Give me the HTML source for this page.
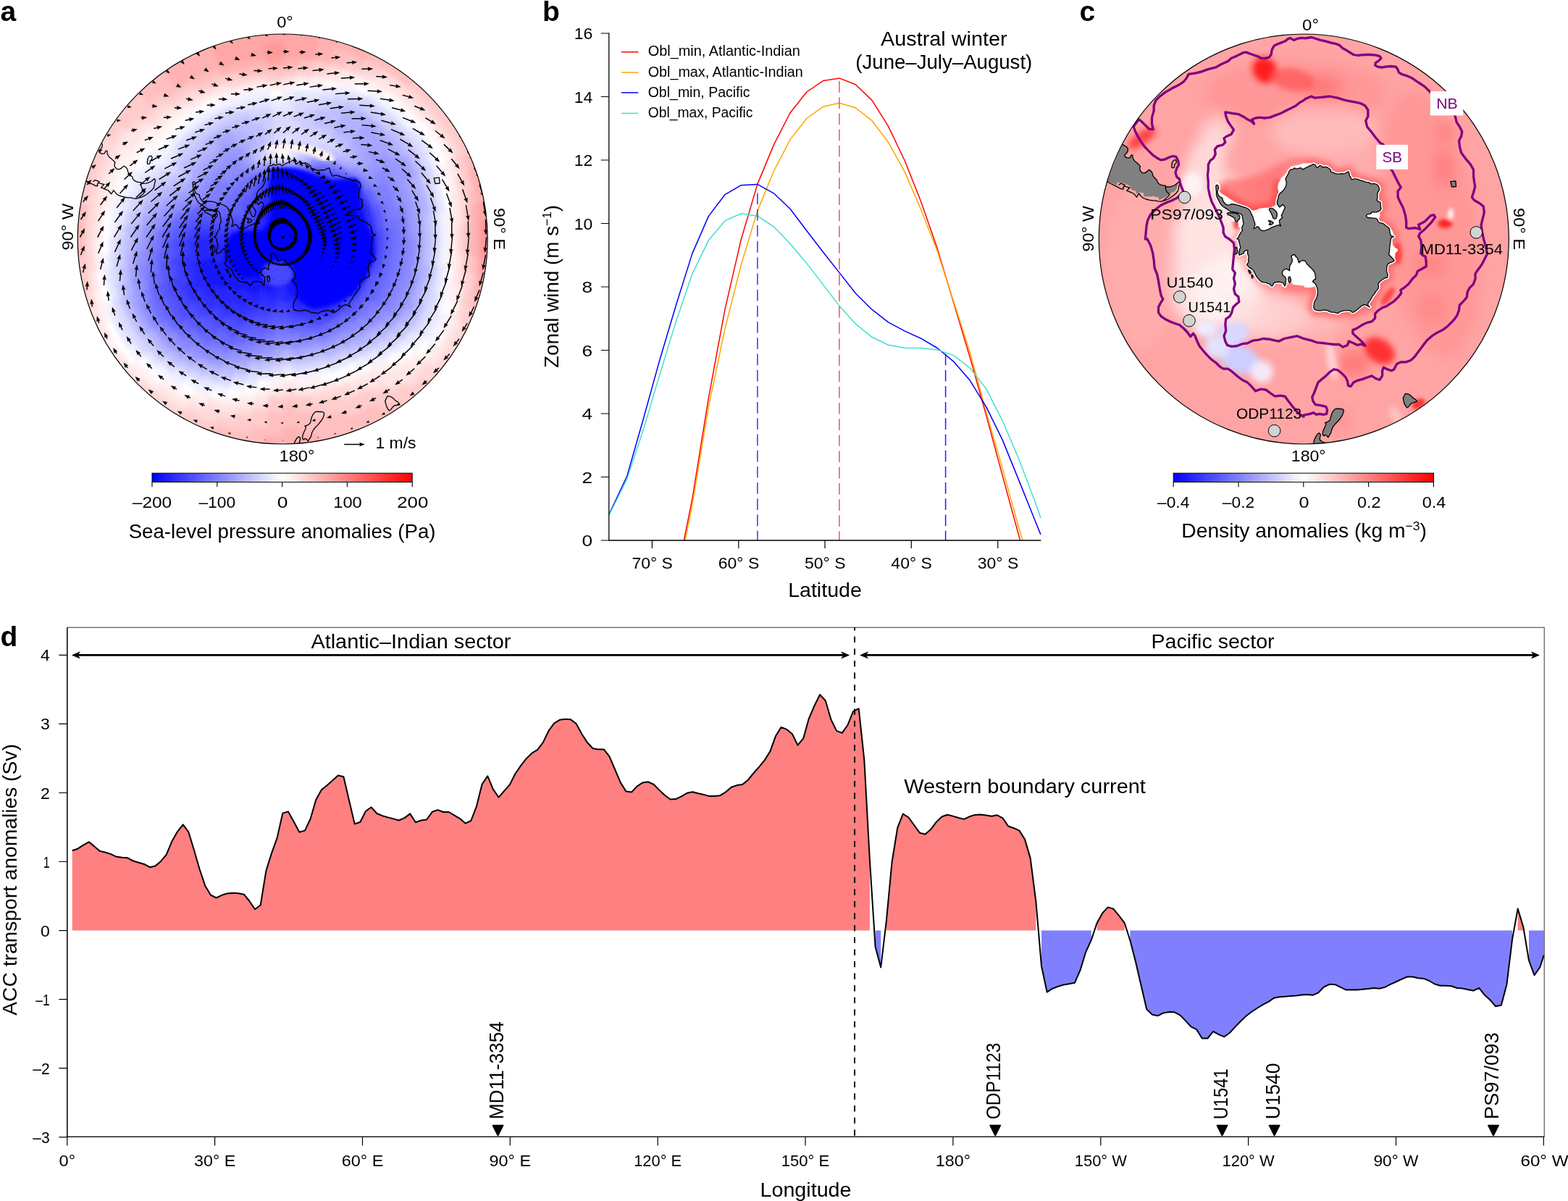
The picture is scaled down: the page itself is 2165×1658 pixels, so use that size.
<!DOCTYPE html>
<html><head><meta charset="utf-8"><title>Figure</title>
<style>html,body{margin:0;padding:0;background:#fff}svg{display:block}text{font-family:"Liberation Sans", sans-serif}</style>
</head><body>
<svg xmlns="http://www.w3.org/2000/svg" width="2165" height="1658" viewBox="0 0 2165 1658">
<rect width="2165" height="1658" fill="#fff"/>
<text x="0.5" y="29.3" font-size="39" font-weight="bold">a</text>
<text x="749.0" y="29.3" font-size="39" font-weight="bold">b</text>
<text x="1490.5" y="29.3" font-size="39" font-weight="bold">c</text>
<text x="0.5" y="892.0" font-size="39" font-weight="bold">d</text>
<defs><linearGradient id="bwr"><stop offset="0" stop-color="#0000ff"/><stop offset="0.5" stop-color="#fff"/><stop offset="1" stop-color="#ff0000"/></linearGradient></defs>
<g id="panel-b">
<path d="M944.4 746 955.9 688.3 978.4 549.2 1000.9 427.3 1023.4 330.2 1045.8 254.4 1068.3 200.1 1090.9 156 1113.8 127 1136.3 111.6 1158.9 107.9 1181.4 116.8 1204.1 138.6 1226.4 174.1 1249 221.2 1271.7 278.5 1294.2 343.1 1339.2 493 1361.8 573.9 1384.3 657.1 1407 740.3 1408.2 745.6" fill="none" stroke="#ff0000" stroke-width="1.5" stroke-linejoin="round"/>
<path d="M946.1 746 955.9 696.7 978.4 561.2 1000.9 454.1 1023.4 365.3 1045.8 291.4 1068.3 236.5 1090.9 192.9 1113.8 163.5 1136.3 147.3 1158.9 142.3 1181.4 148.8 1204.1 166.7 1226.4 196.2 1249 236.9 1271.7 289.5 1294.2 346.8 1339.2 485.8 1361.8 569 1384.3 647.4 1407 729.5 1411.8 745.6" fill="none" stroke="#ffa500" stroke-width="1.5" stroke-linejoin="round"/>
<path d="M840.8 710.3 865.7 657.5 888.2 578.8 910.7 497.5 933.3 421.7 955.8 350.1 978.4 298.4 1000.9 268.7 1023.4 255.7 1045.8 254.4 1068.3 266.8 1090.9 288.2 1113.8 318.5 1136.3 347.7 1158.9 376.4 1181.4 405 1203.8 427.2 1226.5 444.8 1248.9 456.9 1271.6 467.2 1294.1 480.5 1316.7 499.1 1339.2 525.1 1361.8 561.8 1384.3 607.6 1407 663.6 1429.4 719.3 1436.9 737.9" fill="none" stroke="#0000ff" stroke-width="1.5" stroke-linejoin="round"/>
<path d="M840.8 711.5 865.7 661.5 888.2 593.6 910.7 517.8 933.3 443.9 955.8 378.3 978.4 331.7 1000.9 304.9 1023.4 294.7 1045.8 298.2 1068.3 313 1090.9 336.3 1113.8 363.4 1158.7 421.9 1181.4 447.2 1203.8 465.3 1226.5 476.2 1248.9 480.3 1271.6 480.5 1294.1 482.9 1316.7 490.6 1339.2 508 1361.8 536.9 1384.3 581.1 1407 634.2 1429.4 693.3 1436.9 715" fill="none" stroke="#40e0d0" stroke-width="1.5" stroke-linejoin="round"/>
<path d="M1045.9 266.5V746.0" stroke="#3333ff" stroke-width="1.5" stroke-dasharray="15.7 6.5" fill="none"/>
<path d="M1305.6 488.5V746.0" stroke="#1a1aff" stroke-width="1.5" stroke-dasharray="15.7 6.5" fill="none"/>
<path d="M1158.9 112V746.0" stroke="#ff4d4d" stroke-width="1.5" stroke-dasharray="15.7 6.5" fill="none"/>
<path d="M840.8 45.4V746.0H1437.3" fill="none" stroke="#000" stroke-width="1.3"/>
<path d="M829.8 746.0H840.8M829.8 658.5H840.8M829.8 571.0H840.8M829.8 483.5H840.8M829.8 396.0H840.8M829.8 308.5H840.8M829.8 221.0H840.8M829.8 133.5H840.8M829.8 46.0H840.8M900.4 746.0v11M1019.8 746.0v11M1139.0 746.0v11M1258.3 746.0v11M1377.7 746.0v11" stroke="#000" stroke-width="1.2" fill="none"/>
<text x="818.2" y="754.0" font-size="22.5" text-anchor="end" textLength="14.6" lengthAdjust="spacingAndGlyphs">0</text>
<text x="818.2" y="666.5" font-size="22.5" text-anchor="end" textLength="14.6" lengthAdjust="spacingAndGlyphs">2</text>
<text x="818.2" y="579.0" font-size="22.5" text-anchor="end" textLength="14.6" lengthAdjust="spacingAndGlyphs">4</text>
<text x="818.2" y="491.5" font-size="22.5" text-anchor="end" textLength="14.6" lengthAdjust="spacingAndGlyphs">6</text>
<text x="818.2" y="404.0" font-size="22.5" text-anchor="end" textLength="14.6" lengthAdjust="spacingAndGlyphs">8</text>
<text x="818.2" y="316.5" font-size="22.5" text-anchor="end" textLength="25.5" lengthAdjust="spacingAndGlyphs">10</text>
<text x="818.2" y="229.0" font-size="22.5" text-anchor="end" textLength="25.5" lengthAdjust="spacingAndGlyphs">12</text>
<text x="818.2" y="141.5" font-size="22.5" text-anchor="end" textLength="25.5" lengthAdjust="spacingAndGlyphs">14</text>
<text x="818.2" y="54.0" font-size="22.5" text-anchor="end" textLength="25.5" lengthAdjust="spacingAndGlyphs">16</text>
<text x="900.7" y="784.8" font-size="22.5" text-anchor="middle" textLength="56.5" lengthAdjust="spacingAndGlyphs">70° S</text>
<text x="1020.0" y="784.8" font-size="22.5" text-anchor="middle" textLength="56.5" lengthAdjust="spacingAndGlyphs">60° S</text>
<text x="1139.3" y="784.8" font-size="22.5" text-anchor="middle" textLength="56.5" lengthAdjust="spacingAndGlyphs">50° S</text>
<text x="1258.6" y="784.8" font-size="22.5" text-anchor="middle" textLength="56.5" lengthAdjust="spacingAndGlyphs">40° S</text>
<text x="1378.0" y="784.8" font-size="22.5" text-anchor="middle" textLength="56.5" lengthAdjust="spacingAndGlyphs">30° S</text>
<text x="1139.0" y="824.0" font-size="27.5" text-anchor="middle" textLength="101.6" lengthAdjust="spacingAndGlyphs">Latitude</text>
<text x="770.9" y="508.0" font-size="27.5" textLength="225.0" lengthAdjust="spacingAndGlyphs" transform="rotate(-90 770.9 508.0)">Zonal wind (m s<tspan font-size="17" dy="-9.5">−1</tspan><tspan dy="9.5">)</tspan></text>
<text x="1303.3" y="62.8" font-size="27.5" text-anchor="middle" textLength="174.6" lengthAdjust="spacingAndGlyphs">Austral winter</text>
<text x="1303.3" y="95.4" font-size="27.5" text-anchor="middle" textLength="244.0" lengthAdjust="spacingAndGlyphs">(June–July–August)</text>
<path d="M857.8 71.8H881.3" stroke="#ff0000" stroke-width="1.5"/>
<text x="894.7" y="76.9" font-size="19.3" textLength="210.2" lengthAdjust="spacingAndGlyphs">Obl_min, Atlantic-Indian</text>
<path d="M857.8 100H881.3" stroke="#ffa500" stroke-width="1.5"/>
<text x="894.7" y="105.8" font-size="19.3" textLength="214.1" lengthAdjust="spacingAndGlyphs">Obl_max, Atlantic-Indian</text>
<path d="M857.8 127.9H881.3" stroke="#0000ff" stroke-width="1.5"/>
<text x="894.7" y="133.9" font-size="19.3" textLength="140.9" lengthAdjust="spacingAndGlyphs">Obl_min, Pacific</text>
<path d="M857.8 156.4H881.3" stroke="#40e0d0" stroke-width="1.5"/>
<text x="894.7" y="162.4" font-size="19.3" textLength="144.8" lengthAdjust="spacingAndGlyphs">Obl_max, Pacific</text>
</g>
<g id="panel-d">
<path d="M99.7 1284.6 99.7 1174.3 107.4 1171.7 115 1166.6 122.7 1162.3 130.3 1168.4 137.9 1174.9 145.6 1176.7 153.2 1179.1 160.9 1182.8 168.5 1183.7 176.2 1184.3 183.8 1188.5 191.5 1190.8 199.1 1193 206.8 1197.2 214.4 1195.6 222.1 1188.9 229.7 1179.9 237.4 1161.4 245 1148.1 252.7 1138.3 260.3 1148.5 268 1173.8 275.6 1200 283.3 1222.9 290.9 1235.5 298.5 1239.5 306.2 1235.8 313.8 1233.4 321.5 1232.7 329.1 1233.3 336.8 1234.7 344.4 1244 352.1 1255.2 359.7 1249.5 367.4 1202.2 375 1177.8 382.7 1156.4 390.3 1122.6 398 1120.4 405.6 1134.2 413.3 1148.8 420.9 1146.6 428.6 1130.5 436.2 1104.3 443.8 1090.4 451.5 1084.3 459.1 1077.5 466.8 1070.5 474.4 1072.3 482.1 1105.3 489.7 1137.6 497.4 1134.7 505 1119.7 512.7 1114.4 520.3 1123 528 1126.2 535.6 1128.4 543.3 1130.4 550.9 1132.5 558.6 1129.1 566.2 1123.4 573.9 1135.2 581.5 1132.5 589.1 1131.5 596.8 1120.8 604.4 1118.1 612.1 1121 619.7 1121 627.4 1125.6 635 1130.1 642.7 1136.7 650.3 1133 658 1113.1 665.6 1082.6 673.3 1071.3 680.9 1089.6 688.6 1100.7 696.2 1091.8 703.9 1083.1 711.5 1068 719.2 1056.9 726.8 1047.1 734.5 1039.7 742.1 1035.1 749.7 1025.1 757.4 1009.2 765 998.6 772.7 993.8 780.3 992.8 788 993.2 795.6 999.1 803.3 1013.2 810.9 1025 818.6 1033.3 826.2 1034.6 833.9 1034.6 841.5 1044.4 849.2 1062.5 856.8 1080.4 864.5 1092.6 872.1 1093.5 879.8 1085.4 887.4 1080.4 895 1079.3 902.7 1083 910.3 1090.6 918 1098 925.6 1103.5 933.3 1103.1 940.9 1099.4 948.6 1094.8 956.2 1093.2 963.9 1095.2 971.5 1096.9 979.2 1099.1 986.8 1098.9 994.5 1098.2 1002.1 1093.3 1009.8 1086.7 1017.4 1084.1 1025.1 1083 1032.7 1076.9 1040.3 1067.5 1048 1058.8 1055.6 1049.6 1063.3 1037.4 1070.9 1016.3 1078.6 1003.9 1086.2 1006.9 1093.9 1013.2 1101.5 1028.7 1109.2 1019.4 1116.8 992.1 1124.5 974.2 1132.1 959 1139.8 967.2 1147.4 993.2 1155.1 1008.9 1162.7 1011.9 1170.4 1001 1178 982.1 1185.7 978.2 1193.3 1049 1200.9 1187.5 1200.9 1284.6ZM1223.9 1284.6 1223.9 1270.9 1231.5 1190.5 1239.2 1142.9 1246.8 1123.5 1254.5 1128.5 1262.1 1139 1269.8 1149.7 1277.4 1151.7 1285.1 1145.1 1292.7 1134.9 1300.4 1127.5 1308 1124.8 1315.7 1126.6 1323.3 1129 1331 1130.9 1338.6 1127.3 1346.2 1124.9 1353.9 1124.6 1361.5 1125.5 1369.2 1126.8 1376.8 1125.3 1384.5 1129.4 1392.1 1140.5 1399.8 1143.2 1407.4 1146.6 1415.1 1158.9 1422.7 1184.9 1430.4 1245 1430.4 1284.6ZM1514.5 1284.6 1514.5 1274.5 1522.1 1260.7 1529.8 1252.4 1537.4 1254.8 1545.1 1264.1 1552.7 1274.2 1552.7 1284.6ZM2095.7 1284.6 2095.7 1254.5 2103.3 1279.8 2103.3 1284.6Z" fill="#ff8080"/>
<path d="M1208.6 1284.6 1208.6 1306.9 1216.2 1335.5 1216.2 1284.6ZM1438 1284.6 1438 1333.7 1445.7 1369.7 1453.3 1364.7 1461 1361.8 1468.6 1359.5 1476.3 1358.2 1483.9 1356.8 1491.6 1339.2 1499.2 1314.3 1506.8 1297.6 1506.8 1284.6ZM1560.4 1284.6 1560.4 1298.2 1568 1327.8 1575.7 1361.1 1583.3 1393.4 1591 1400.8 1598.6 1402.3 1606.3 1398.4 1613.9 1397.1 1621.6 1397.3 1629.2 1401.3 1636.9 1409.1 1644.5 1417.4 1652.1 1421.1 1659.8 1433.5 1667.4 1433.5 1675.1 1423.9 1682.7 1428.1 1690.4 1431.3 1698 1425.7 1705.7 1417.4 1713.3 1409.5 1721 1402.3 1728.6 1396.5 1736.3 1391.5 1743.9 1386.9 1751.6 1382.9 1759.2 1377.7 1766.9 1376.2 1774.5 1375.8 1782.2 1374.9 1789.8 1374.4 1797.4 1373.6 1805.1 1373.1 1812.7 1373.8 1820.4 1370.3 1828 1362.5 1835.7 1358.8 1843.3 1359.2 1851 1362.9 1858.6 1366.6 1866.3 1366.6 1873.9 1366.4 1881.6 1365.7 1889.2 1365.1 1896.9 1364 1904.5 1364.8 1912.2 1362.9 1919.8 1358.8 1927.5 1355.5 1935.1 1351.8 1942.8 1348.5 1950.4 1348.5 1958 1350.2 1965.7 1350.9 1973.3 1354 1981 1358.5 1988.6 1360.7 1996.3 1360.7 2003.9 1361.2 2011.6 1364 2019.2 1364.6 2026.9 1366.2 2034.5 1367.7 2042.2 1363.8 2049.8 1373.6 2057.5 1380.5 2065.1 1389.3 2072.8 1387.7 2080.4 1359.2 2088.1 1296.4 2088.1 1284.6ZM2111 1284.6 2111 1326 2118.6 1346.3 2126.3 1335.2 2131.7 1318.6 2131.7 1284.6Z" fill="#8080ff"/>
<path d="M99.7 1174.3 107.4 1171.7 115 1166.6 122.7 1162.3 130.3 1168.4 137.9 1174.9 145.6 1176.7 153.2 1179.1 160.9 1182.8 168.5 1183.7 176.2 1184.3 183.8 1188.5 191.5 1190.8 199.1 1193 206.8 1197.2 214.4 1195.6 222.1 1188.9 229.7 1179.9 237.4 1161.4 245 1148.1 252.7 1138.3 260.3 1148.5 268 1173.8 275.6 1200 283.3 1222.9 290.9 1235.5 298.5 1239.5 306.2 1235.8 313.8 1233.4 321.5 1232.7 329.1 1233.3 336.8 1234.7 344.4 1244 352.1 1255.2 359.7 1249.5 367.4 1202.2 375 1177.8 382.7 1156.4 390.3 1122.6 398 1120.4 405.6 1134.2 413.3 1148.8 420.9 1146.6 428.6 1130.5 436.2 1104.3 443.8 1090.4 451.5 1084.3 459.1 1077.5 466.8 1070.5 474.4 1072.3 482.1 1105.3 489.7 1137.6 497.4 1134.7 505 1119.7 512.7 1114.4 520.3 1123 528 1126.2 535.6 1128.4 543.3 1130.4 550.9 1132.5 558.6 1129.1 566.2 1123.4 573.9 1135.2 581.5 1132.5 589.1 1131.5 596.8 1120.8 604.4 1118.1 612.1 1121 619.7 1121 627.4 1125.6 635 1130.1 642.7 1136.7 650.3 1133 658 1113.1 665.6 1082.6 673.3 1071.3 680.9 1089.6 688.6 1100.7 696.2 1091.8 703.9 1083.1 711.5 1068 719.2 1056.9 726.8 1047.1 734.5 1039.7 742.1 1035.1 749.7 1025.1 757.4 1009.2 765 998.6 772.7 993.8 780.3 992.8 788 993.2 795.6 999.1 803.3 1013.2 810.9 1025 818.6 1033.3 826.2 1034.6 833.9 1034.6 841.5 1044.4 849.2 1062.5 856.8 1080.4 864.5 1092.6 872.1 1093.5 879.8 1085.4 887.4 1080.4 895 1079.3 902.7 1083 910.3 1090.6 918 1098 925.6 1103.5 933.3 1103.1 940.9 1099.4 948.6 1094.8 956.2 1093.2 963.9 1095.2 971.5 1096.9 979.2 1099.1 986.8 1098.9 994.5 1098.2 1002.1 1093.3 1009.8 1086.7 1017.4 1084.1 1025.1 1083 1032.7 1076.9 1040.3 1067.5 1048 1058.8 1055.6 1049.6 1063.3 1037.4 1070.9 1016.3 1078.6 1003.9 1086.2 1006.9 1093.9 1013.2 1101.5 1028.7 1109.2 1019.4 1116.8 992.1 1124.5 974.2 1132.1 959 1139.8 967.2 1147.4 993.2 1155.1 1008.9 1162.7 1011.9 1170.4 1001 1178 982.1 1185.7 978.2 1193.3 1049 1200.9 1187.5 1208.6 1306.9 1216.2 1335.5 1223.9 1270.9 1231.5 1190.5 1239.2 1142.9 1246.8 1123.5 1254.5 1128.5 1262.1 1139 1269.8 1149.7 1277.4 1151.7 1285.1 1145.1 1292.7 1134.9 1300.4 1127.5 1308 1124.8 1315.7 1126.6 1323.3 1129 1331 1130.9 1338.6 1127.3 1346.2 1124.9 1353.9 1124.6 1361.5 1125.5 1369.2 1126.8 1376.8 1125.3 1384.5 1129.4 1392.1 1140.5 1399.8 1143.2 1407.4 1146.6 1415.1 1158.9 1422.7 1184.9 1430.4 1245 1438 1333.7 1445.7 1369.7 1453.3 1364.7 1461 1361.8 1468.6 1359.5 1476.3 1358.2 1483.9 1356.8 1491.6 1339.2 1499.2 1314.3 1506.8 1297.6 1514.5 1274.5 1522.1 1260.7 1529.8 1252.4 1537.4 1254.8 1545.1 1264.1 1552.7 1274.2 1560.4 1298.2 1568 1327.8 1575.7 1361.1 1583.3 1393.4 1591 1400.8 1598.6 1402.3 1606.3 1398.4 1613.9 1397.1 1621.6 1397.3 1629.2 1401.3 1636.9 1409.1 1644.5 1417.4 1652.1 1421.1 1659.8 1433.5 1667.4 1433.5 1675.1 1423.9 1682.7 1428.1 1690.4 1431.3 1698 1425.7 1705.7 1417.4 1713.3 1409.5 1721 1402.3 1728.6 1396.5 1736.3 1391.5 1743.9 1386.9 1751.6 1382.9 1759.2 1377.7 1766.9 1376.2 1774.5 1375.8 1782.2 1374.9 1789.8 1374.4 1797.4 1373.6 1805.1 1373.1 1812.7 1373.8 1820.4 1370.3 1828 1362.5 1835.7 1358.8 1843.3 1359.2 1851 1362.9 1858.6 1366.6 1866.3 1366.6 1873.9 1366.4 1881.6 1365.7 1889.2 1365.1 1896.9 1364 1904.5 1364.8 1912.2 1362.9 1919.8 1358.8 1927.5 1355.5 1935.1 1351.8 1942.8 1348.5 1950.4 1348.5 1958 1350.2 1965.7 1350.9 1973.3 1354 1981 1358.5 1988.6 1360.7 1996.3 1360.7 2003.9 1361.2 2011.6 1364 2019.2 1364.6 2026.9 1366.2 2034.5 1367.7 2042.2 1363.8 2049.8 1373.6 2057.5 1380.5 2065.1 1389.3 2072.8 1387.7 2080.4 1359.2 2088.1 1296.4 2095.7 1254.5 2103.3 1279.8 2111 1326 2118.6 1346.3 2126.3 1335.2 2131.7 1318.6" fill="none" stroke="#000" stroke-width="2" stroke-linejoin="round"/>
<rect x="92.8" y="866.2" width="2039.4" height="703.2" fill="none" stroke="#333" stroke-width="1"/>
<path d="M92.8 866.2V1569.4H2132.2" fill="none" stroke="#000" stroke-width="1.3"/>
<path d="M81.3 1569.8H92.8M81.3 1474.7H92.8M81.3 1379.6H92.8M81.3 1284.6H92.8M81.3 1189.5H92.8M81.3 1094.5H92.8M81.3 999.4H92.8M81.3 904.4H92.8M92.8 1569.4v12M296.6 1569.4v12M500.5 1569.4v12M704.3 1569.4v12M908.2 1569.4v12M1112.0 1569.4v12M1315.9 1569.4v12M1519.8 1569.4v12M1723.6 1569.4v12M1927.5 1569.4v12M2131.3 1569.4v12" stroke="#000" stroke-width="1.2" fill="none"/>
<text x="68.7" y="1577.8" font-size="22.5" text-anchor="end" textLength="23.4" lengthAdjust="spacingAndGlyphs">–3</text>
<text x="68.7" y="1482.7" font-size="22.5" text-anchor="end" textLength="23.4" lengthAdjust="spacingAndGlyphs">–2</text>
<text x="68.7" y="1387.6" font-size="22.5" text-anchor="end" textLength="19.5" lengthAdjust="spacingAndGlyphs">–1</text>
<text x="68.7" y="1292.6" font-size="22.5" text-anchor="end" textLength="12.8" lengthAdjust="spacingAndGlyphs">0</text>
<text x="68.7" y="1197.5" font-size="22.5" text-anchor="end" textLength="9.0" lengthAdjust="spacingAndGlyphs">1</text>
<text x="68.7" y="1102.5" font-size="22.5" text-anchor="end" textLength="12.8" lengthAdjust="spacingAndGlyphs">2</text>
<text x="68.7" y="1007.4" font-size="22.5" text-anchor="end" textLength="12.8" lengthAdjust="spacingAndGlyphs">3</text>
<text x="68.7" y="912.4" font-size="22.5" text-anchor="end" textLength="12.8" lengthAdjust="spacingAndGlyphs">4</text>
<text x="92.8" y="1609.8" font-size="22.5" text-anchor="middle" textLength="22.6" lengthAdjust="spacingAndGlyphs">0°</text>
<text x="296.6" y="1609.8" font-size="22.5" text-anchor="middle" textLength="57.2" lengthAdjust="spacingAndGlyphs">30° E</text>
<text x="500.5" y="1609.8" font-size="22.5" text-anchor="middle" textLength="57.5" lengthAdjust="spacingAndGlyphs">60° E</text>
<text x="704.3" y="1609.8" font-size="22.5" text-anchor="middle" textLength="57.5" lengthAdjust="spacingAndGlyphs">90° E</text>
<text x="908.2" y="1609.8" font-size="22.5" text-anchor="middle" textLength="66.0" lengthAdjust="spacingAndGlyphs">120° E</text>
<text x="1112.0" y="1609.8" font-size="22.5" text-anchor="middle" textLength="66.5" lengthAdjust="spacingAndGlyphs">150° E</text>
<text x="1315.9" y="1609.8" font-size="22.5" text-anchor="middle" textLength="48.1" lengthAdjust="spacingAndGlyphs">180°</text>
<text x="1519.8" y="1609.8" font-size="22.5" text-anchor="middle" textLength="72.0" lengthAdjust="spacingAndGlyphs">150° W</text>
<text x="1723.6" y="1609.8" font-size="22.5" text-anchor="middle" textLength="72.0" lengthAdjust="spacingAndGlyphs">120° W</text>
<text x="1927.5" y="1609.8" font-size="22.5" text-anchor="middle" textLength="62.0" lengthAdjust="spacingAndGlyphs">90° W</text>
<text x="2165.5" y="1609.8" font-size="22.5" text-anchor="end" textLength="66.0" lengthAdjust="spacingAndGlyphs">60° W</text>
<text x="1112.5" y="1652.0" font-size="27.5" text-anchor="middle" textLength="126.0" lengthAdjust="spacingAndGlyphs">Longitude</text>
<text x="23.5" y="1401.7" font-size="27.5" textLength="374.5" lengthAdjust="spacingAndGlyphs" transform="rotate(-90 23.5 1401.7)">ACC transport anomalies (Sv)</text>
<text x="429.4" y="895.0" font-size="27.5" textLength="276.0" lengthAdjust="spacingAndGlyphs">Atlantic–Indian sector</text>
<text x="1589.4" y="895.0" font-size="27.5" textLength="170.2" lengthAdjust="spacingAndGlyphs">Pacific sector</text>
<text x="1248.3" y="1095.0" font-size="27.5" textLength="333.5" lengthAdjust="spacingAndGlyphs">Western boundary current</text>
<path d="M106.9 904.4H1165.2" stroke="#000" stroke-width="2.6" fill="none"/>
<path d="M98.9 904.4L110.9 899.2L107.9 904.4L110.9 909.6ZM1173.2 904.4L1161.2 899.2L1164.2 904.4L1161.2 909.6Z" fill="#000"/>
<path d="M1195 904.4H2118" stroke="#000" stroke-width="2.6" fill="none"/>
<path d="M1187.0 904.4L1199.0 899.2L1196.0 904.4L1199.0 909.6ZM2126.0 904.4L2114.0 899.2L2117.0 904.4L2114.0 909.6Z" fill="#000"/>
<path d="M1180.0 866.2V1569.4" stroke="#000" stroke-width="2" stroke-dasharray="8.3 8.3" stroke-dashoffset="4" fill="none"/>
<path d="M680.3 1553.6h14.4l-7.2 14.2z" fill="#000" stroke="#000" stroke-width="1.5" stroke-linejoin="round"/>
<text x="694.8" y="1545.3" font-size="27.5" textLength="135.2" lengthAdjust="spacingAndGlyphs" transform="rotate(-90 694.8 1545.3)">MD11-3354</text>
<path d="M1367.0 1553.6h14.4l-7.2 14.2z" fill="#000" stroke="#000" stroke-width="1.5" stroke-linejoin="round"/>
<text x="1381.5" y="1545.3" font-size="27.5" textLength="105.7" lengthAdjust="spacingAndGlyphs" transform="rotate(-90 1381.5 1545.3)">ODP1123</text>
<path d="M1680.3 1553.6h14.4l-7.2 14.2z" fill="#000" stroke="#000" stroke-width="1.5" stroke-linejoin="round"/>
<text x="1694.8" y="1545.3" font-size="27.5" textLength="70.1" lengthAdjust="spacingAndGlyphs" transform="rotate(-90 1694.8 1545.3)">U1541</text>
<path d="M1752.4 1553.6h14.4l-7.2 14.2z" fill="#000" stroke="#000" stroke-width="1.5" stroke-linejoin="round"/>
<text x="1766.9" y="1545.3" font-size="27.5" textLength="77.8" lengthAdjust="spacingAndGlyphs" transform="rotate(-90 1766.9 1545.3)">U1540</text>
<path d="M2054.8 1553.6h14.4l-7.2 14.2z" fill="#000" stroke="#000" stroke-width="1.5" stroke-linejoin="round"/>
<text x="2069.3" y="1545.3" font-size="27.5" textLength="120.0" lengthAdjust="spacingAndGlyphs" transform="rotate(-90 2069.3 1545.3)">PS97/093</text>
</g>
<g id="panel-a">
<defs><clipPath id="clipa"><circle cx="390.2" cy="330.0" r="283.0"/></clipPath><filter id="bla" x="-10%" y="-10%" width="120%" height="120%"><feGaussianBlur stdDeviation="3.2"/></filter><filter id="bla2" x="-10%" y="-10%" width="120%" height="120%"><feGaussianBlur stdDeviation="2.5"/></filter></defs>
<g clip-path="url(#clipa)">
<g filter="url(#bla)"><path d="M390.2 330 390.1 318.7 391.2 318.8 390.2 330ZM390.1 319.1 390.1 307.8 392.2 307.9 391.2 319.2ZM390.1 308.2 390 296.9 393.3 297.1 392.2 308.3ZM390 297.3 390 286.1 394.3 286.2 393.2 297.5ZM390 286.5 389.9 275.2 395.3 275.4 394.2 286.6ZM389.9 275.6 389.9 264.3 396.3 264.6 395.2 275.8ZM389.9 264.7 389.8 253.4 397.3 253.7 396.2 265ZM390.2 330 391.1 318.8 392.2 318.9 390.2 330ZM391.1 319.2 392 307.9 394.2 308.2 392.1 319.3ZM392 308.3 392.9 297.1 396.1 297.5 394.1 308.6ZM392.9 297.5 393.8 286.2 398.1 286.8 396 297.9ZM393.8 286.6 394.7 275.4 400 276.1 398 287.2ZM394.7 275.8 395.6 264.5 401.9 265.4 399.9 276.5ZM395.6 264.9 396.5 253.7 403.9 254.6 401.9 265.7ZM390.2 330 392.1 318.9 393.2 319.1 390.2 330ZM392 319.3 393.9 308.1 396 308.6 393.1 319.5ZM393.9 308.5 395.8 297.4 398.9 298.1 395.9 309ZM395.7 297.8 397.6 286.7 401.8 287.6 398.8 298.5ZM397.5 287.1 399.4 276 404.7 277.1 401.7 288ZM399.4 276.4 401.3 265.2 407.5 266.6 404.6 277.5ZM401.2 265.6 403.1 254.5 410.4 256.1 407.4 267ZM390.2 330 393.1 319.1 394.1 319.4 390.2 330ZM393 319.5 395.8 308.6 397.9 309.2 394 319.8ZM395.7 308.9 398.6 298 401.7 299 397.8 309.6ZM398.5 298.4 401.3 287.5 405.4 288.8 401.5 299.4ZM401.2 287.9 404.1 277 409.2 278.6 405.3 289.2ZM404 277.4 406.9 266.4 413 268.4 409.1 279ZM406.8 266.8 409.6 255.9 416.8 258.2 412.9 268.7ZM409.5 256.3 412.4 245.4 420.5 248 416.6 258.5ZM390.2 330 394 319.4 395 319.8 390.2 330ZM393.9 319.8 397.7 309.1 399.7 310 394.9 320.2ZM397.5 309.5 401.3 298.9 404.3 300.1 399.5 310.3ZM401.2 299.3 405 288.6 409 290.3 404.2 300.5ZM404.9 289 408.7 278.4 413.6 280.4 408.8 290.6ZM408.5 278.8 412.3 268.1 418.3 270.6 413.5 280.8ZM412.2 268.5 416 257.9 422.9 260.8 418.1 271ZM415.9 258.3 419.7 247.6 427.6 250.9 422.8 261.1ZM390.2 330 394.9 319.7 395.9 320.3 390.2 330ZM394.7 320.1 399.5 309.9 401.4 310.9 395.7 320.6ZM399.3 310.2 404 300 406.9 301.5 401.2 311.2ZM403.8 300.3 408.6 290.1 412.4 292.1 406.7 301.8ZM408.4 290.4 413.1 280.2 417.9 282.7 412.2 292.4ZM412.9 280.6 417.7 270.3 423.4 273.3 417.7 283ZM417.5 270.7 422.2 260.4 428.8 263.9 423.1 273.6ZM422 260.8 426.8 250.5 434.3 254.5 428.6 264.2ZM390.2 330 395.8 320.2 396.7 320.8 390.2 330ZM395.6 320.5 401.2 310.7 403 311.9 396.5 321.1ZM401 311.1 406.6 301.3 409.3 303 402.8 312.2ZM406.4 301.6 412 291.8 415.6 294.1 409.1 303.3ZM411.8 292.2 417.4 282.4 421.9 285.3 415.4 294.5ZM417.2 282.7 422.8 272.9 428.2 276.4 421.6 285.6ZM422.6 273.3 428.1 263.5 434.5 267.5 427.9 276.7ZM428 263.8 433.5 254 440.7 258.6 434.2 267.8ZM390.2 330 396.6 320.7 397.5 321.4 390.2 330ZM396.4 321.1 402.8 311.8 404.5 313.1 397.2 321.7ZM402.6 312.1 409 302.8 411.6 304.8 404.3 313.4ZM408.8 303.2 415.2 293.9 418.6 296.5 411.3 305.1ZM415 294.2 421.4 284.9 425.7 288.2 418.4 296.8ZM421.2 285.3 427.6 276 432.7 279.9 425.4 288.5ZM427.4 276.3 433.8 267 439.7 271.6 432.4 280.2ZM433.6 267.4 440 258.1 446.8 263.3 439.5 271.9ZM390.2 330 397.4 321.3 398.2 322.1 390.2 330ZM397.2 321.6 404.4 312.9 406 314.4 397.9 322.3ZM404.1 313.3 411.3 304.6 413.7 306.8 405.7 314.7ZM411.1 304.9 418.3 296.2 421.4 299.1 413.4 307ZM418 296.5 425.2 287.8 429.2 291.4 421.1 299.4ZM425 288.1 432.2 279.4 436.9 283.8 428.9 291.7ZM431.9 279.8 439.1 271.1 444.6 276.1 436.6 284.1ZM438.9 271.4 446.1 262.7 452.4 268.5 444.4 276.4ZM390.2 330 398.1 322 398.9 322.8 390.2 330ZM397.9 322.3 405.8 314.2 407.3 315.8 398.6 323ZM405.5 314.5 413.4 306.5 415.6 308.9 406.9 316.1ZM413.2 306.8 421.1 298.8 424 301.9 415.3 309.1ZM420.8 299.1 428.8 291 432.4 295 423.7 302.2ZM428.5 291.3 436.4 283.3 440.8 288 432.1 295.2ZM436.1 283.6 444.1 275.6 449.1 281.1 440.4 288.3ZM443.8 275.8 451.7 267.8 457.5 274.1 448.8 281.3ZM390.2 330 398.8 322.7 399.5 323.6 390.2 330ZM398.5 323 407.1 315.7 408.4 317.4 399.1 323.8ZM406.8 315.9 415.4 308.6 417.4 311.2 408.1 317.6ZM415.1 308.9 423.7 301.6 426.3 305 417 311.4ZM423.4 301.8 432 294.5 435.3 298.8 426 305.2ZM431.7 294.8 440.3 287.5 444.2 292.6 434.9 299ZM440 287.8 448.6 280.5 453.2 286.4 443.9 292.8ZM448.3 280.7 456.9 273.4 462.1 280.2 452.8 286.6ZM390.2 330 399.4 323.5 400 324.4 390.2 330ZM399.1 323.7 408.3 317.2 409.5 319 399.7 324.6ZM408 317.4 417.2 310.9 418.9 313.6 409.1 319.2ZM416.9 311.1 426.1 304.6 428.4 308.2 418.6 313.8ZM425.7 304.8 434.9 298.3 437.8 302.8 428 308.4ZM434.6 298.6 443.8 292 447.3 297.4 437.5 303ZM443.5 292.3 452.7 285.7 456.7 292.1 446.9 297.6ZM452.4 286 461.6 279.5 466.2 286.7 456.4 292.2ZM461.3 279.7 470.5 273.2 475.6 281.3 465.8 286.9ZM390.2 330 399.9 324.3 400.5 325.3 390.2 330ZM399.6 324.5 409.3 318.8 410.3 320.7 400.1 325.5ZM409 319 418.7 313.3 420.2 316.2 410 320.9ZM418.4 313.5 428.1 307.8 430.1 311.6 419.9 316.4ZM427.8 308 437.5 302.3 440 307.1 429.8 311.8ZM437.2 302.5 446.9 296.8 449.9 302.5 439.6 307.3ZM446.6 297.1 456.3 291.4 459.8 298 449.5 302.7ZM456 291.6 465.7 285.9 469.7 293.4 459.4 298.2ZM465.4 286.1 475.1 280.4 479.6 288.9 469.3 293.6ZM390.2 330 400.4 325.2 400.8 326.2 390.2 330ZM400 325.3 410.2 320.5 411.1 322.5 400.4 326.3ZM409.9 320.7 420.1 315.9 421.3 318.9 410.7 322.7ZM419.7 316 429.9 311.2 431.6 315.2 420.9 319ZM429.6 311.4 439.8 306.6 441.8 311.5 431.2 315.3ZM439.4 306.7 449.6 301.9 452.1 307.9 441.4 311.7ZM449.2 302.1 459.4 297.3 462.3 304.2 451.7 308ZM459.1 297.4 469.3 292.6 472.6 300.5 461.9 304.3ZM468.9 292.8 479.1 288 482.8 296.8 472.2 300.6ZM478.8 288.1 489 283.3 493.1 293.2 482.4 297ZM390.2 330 400.8 326.1 401.1 327.1 390.2 330ZM400.4 326.2 411 322.3 411.6 324.4 400.7 327.2ZM410.6 322.4 421.2 318.5 422.2 321.6 411.3 324.5ZM420.8 318.7 431.4 314.8 432.7 318.9 421.8 321.7ZM431 314.9 441.6 311 443.2 316.1 432.3 319ZM441.2 311.1 451.8 307.2 453.8 313.3 442.8 316.2ZM451.5 307.3 462 303.4 464.3 310.6 453.4 313.4ZM461.7 303.6 472.2 299.7 474.8 307.8 463.9 310.7ZM471.9 299.8 482.5 295.9 485.3 305 474.4 307.9ZM482.1 296 492.7 292.1 495.9 302.3 485 305.1ZM390.2 330 401.1 327 401.3 328.1 390.2 330ZM400.7 327.1 411.6 324.2 412.1 326.3 400.9 328.2ZM411.2 324.3 422.1 321.3 422.8 324.4 411.7 326.3ZM421.7 321.4 432.6 318.4 433.5 322.6 422.4 324.5ZM432.2 318.5 443.1 315.5 444.2 320.8 433.1 322.7ZM442.7 315.6 453.6 312.7 455 318.9 443.8 320.8ZM453.2 312.8 464.1 309.8 465.7 317.1 454.6 319ZM463.7 309.9 474.6 306.9 476.4 315.3 465.3 317.2ZM474.2 307 485.1 304 487.2 313.4 476 315.3ZM484.7 304.2 495.6 301.2 497.9 311.6 486.8 313.5ZM390.2 330 401.3 328 401.4 329.1 390.2 330ZM400.9 328.1 412 326 412.3 328.2 401 329.1ZM411.6 326.1 422.7 324.1 423.1 327.3 411.9 328.2ZM422.3 324.2 433.4 322.1 434 326.4 422.7 327.3ZM433 322.2 444.1 320.2 444.8 325.5 433.6 326.4ZM443.7 320.3 454.8 318.3 455.7 324.6 444.4 325.5ZM454.5 318.3 465.6 316.3 466.5 323.7 455.3 324.6ZM465.2 316.4 476.3 314.4 477.4 322.8 466.1 323.8ZM475.9 314.4 487 312.4 488.2 321.9 477 322.9ZM486.6 312.5 497.7 310.5 499.1 321 487.8 322ZM390.2 330 401.4 329 401.5 330.1 390.2 330ZM401 329 412.3 328 412.4 330.1 401.1 330.1ZM411.9 328 423.1 326.9 423.3 330.2 412 330.1ZM422.7 327 434 325.9 434.1 330.2 422.9 330.2ZM433.6 326 444.8 324.9 445 330.3 433.7 330.2ZM444.4 325 455.6 323.9 455.9 330.3 444.6 330.3ZM455.2 324 466.5 322.9 466.8 330.4 455.5 330.3ZM466.1 323 477.3 321.9 477.7 330.5 466.4 330.4ZM476.9 322 488.1 320.9 488.6 330.5 477.3 330.5ZM487.7 321 499 319.9 499.4 330.6 488.2 330.5ZM498.6 319.9 509.8 318.9 510.3 330.6 499 330.6ZM390.2 330 401.5 329.9 401.4 331 390.2 330ZM401.1 329.9 412.4 329.9 412.3 332 401 331ZM412 329.9 423.3 329.8 423.1 333.1 411.9 332ZM422.9 329.8 434.1 329.8 434 334.1 422.7 333ZM433.7 329.8 445 329.7 444.8 335.1 433.6 334ZM444.6 329.7 455.9 329.7 455.6 336.1 444.4 335ZM455.5 329.7 466.8 329.6 466.5 337.1 455.2 336ZM466.4 329.6 477.7 329.5 477.3 338.1 466.1 337ZM477.3 329.5 488.6 329.5 488.1 339.1 476.9 338ZM488.2 329.5 499.4 329.4 499 340.1 487.7 339ZM499 329.4 510.3 329.4 509.8 341.1 498.6 340.1ZM390.2 330 401.4 330.9 401.3 332 390.2 330ZM401 330.9 412.3 331.8 412 334 400.9 331.9ZM411.9 331.8 423.1 332.7 422.7 335.9 411.6 333.9ZM422.7 332.7 434 333.6 433.4 337.9 422.3 335.8ZM433.6 333.6 444.8 334.5 444.1 339.8 433 337.8ZM444.4 334.5 455.7 335.4 454.8 341.7 443.7 339.7ZM455.3 335.4 466.5 336.3 465.6 343.7 454.5 341.7ZM466.1 336.2 477.4 337.2 476.3 345.6 465.2 343.6ZM477 337.1 488.2 338.1 487 347.6 475.9 345.6ZM487.8 338 499.1 339 497.7 349.5 486.6 347.5ZM390.2 330 401.3 331.9 401.1 333 390.2 330ZM400.9 331.8 412.1 333.7 411.6 335.8 400.7 332.9ZM411.7 333.7 422.8 335.6 422.1 338.7 411.2 335.7ZM422.4 335.5 433.5 337.4 432.6 341.6 421.7 338.6ZM433.1 337.3 444.2 339.2 443.1 344.5 432.2 341.5ZM443.8 339.2 455 341.1 453.6 347.3 442.7 344.4ZM454.6 341 465.7 342.9 464.1 350.2 453.2 347.2ZM465.3 342.8 476.4 344.7 474.6 353.1 463.7 350.1ZM476 344.7 487.2 346.6 485.1 356 474.2 353ZM486.8 346.5 497.9 348.4 495.6 358.8 484.7 355.8ZM390.2 330 401.1 332.9 400.8 333.9 390.2 330ZM400.7 332.8 411.6 335.6 411 337.7 400.4 333.8ZM411.3 335.5 422.2 338.4 421.2 341.5 410.6 337.6ZM421.8 338.3 432.7 341.1 431.4 345.2 420.8 341.3ZM432.3 341 443.2 343.9 441.6 349 431 345.1ZM442.8 343.8 453.8 346.7 451.8 352.8 441.2 348.9ZM453.4 346.6 464.3 349.4 462 356.6 451.5 352.7ZM463.9 349.3 474.8 352.2 472.2 360.3 461.7 356.4ZM474.4 352.1 485.3 355 482.5 364.1 471.9 360.2ZM485 354.9 495.9 357.7 492.7 367.9 482.1 364ZM390.2 330 400.8 333.8 400.4 334.8 390.2 330ZM400.4 333.7 411.1 337.5 410.2 339.5 400 334.7ZM410.7 337.3 421.3 341.1 420.1 344.1 409.9 339.3ZM420.9 341 431.6 344.8 429.9 348.8 419.7 344ZM431.2 344.7 441.8 348.5 439.8 353.4 429.6 348.6ZM441.4 348.3 452.1 352.1 449.6 358.1 439.4 353.3ZM451.7 352 462.3 355.8 459.4 362.7 449.2 357.9ZM461.9 355.7 472.6 359.5 469.3 367.4 459.1 362.6ZM472.2 359.4 482.8 363.2 479.1 372 468.9 367.2ZM482.4 363 493.1 366.8 489 376.7 478.8 371.9ZM390.2 330 400.5 334.7 399.9 335.7 390.2 330ZM400.1 334.5 410.3 339.3 409.3 341.2 399.6 335.5ZM410 339.1 420.2 343.8 418.7 346.7 409 341ZM419.9 343.6 430.1 348.4 428.1 352.2 418.4 346.5ZM429.8 348.2 440 352.9 437.5 357.7 427.8 352ZM439.6 352.7 449.9 357.5 446.9 363.2 437.2 357.5ZM449.5 357.3 459.8 362 456.3 368.6 446.6 362.9ZM459.4 361.8 469.7 366.6 465.7 374.1 456 368.4ZM469.3 366.4 479.6 371.1 475.1 379.6 465.4 373.9ZM390.2 330 400 335.6 399.4 336.5 390.2 330ZM399.7 335.4 409.5 341 408.3 342.8 399.1 336.3ZM409.1 340.8 418.9 346.4 417.2 349.1 408 342.6ZM418.6 346.2 428.4 351.8 426.1 355.4 416.9 348.9ZM428 351.6 437.8 357.2 434.9 361.7 425.7 355.2ZM437.5 357 447.3 362.6 443.8 368 434.6 361.4ZM446.9 362.4 456.7 367.9 452.7 374.3 443.5 367.7ZM456.4 367.8 466.2 373.3 461.6 380.5 452.4 374ZM465.8 373.1 475.6 378.7 470.5 386.8 461.3 380.3ZM390.2 330 399.5 336.4 398.8 337.3 390.2 330ZM399.1 336.2 408.4 342.6 407.1 344.3 398.5 337ZM408.1 342.4 417.4 348.8 415.4 351.4 406.8 344.1ZM417 348.6 426.3 355 423.7 358.4 415.1 351.1ZM426 354.8 435.3 361.2 432 365.5 423.4 358.2ZM434.9 361 444.2 367.4 440.3 372.5 431.7 365.2ZM443.9 367.2 453.2 373.6 448.6 379.5 440 372.2ZM452.8 373.4 462.1 379.8 456.9 386.6 448.3 379.3ZM461.8 379.6 471.1 386 465.2 393.6 456.6 386.3ZM390.2 330 398.9 337.2 398.1 338 390.2 330ZM398.6 337 407.3 344.2 405.8 345.8 397.9 337.7ZM406.9 343.9 415.6 351.1 413.4 353.5 405.5 345.5ZM415.3 350.9 424 358.1 421.1 361.2 413.2 353.2ZM423.7 357.8 432.4 365 428.8 369 420.8 360.9ZM432.1 364.8 440.8 372 436.4 376.7 428.5 368.7ZM440.4 371.7 449.1 378.9 444.1 384.4 436.1 376.4ZM448.8 378.7 457.5 385.9 451.7 392.2 443.8 384.2ZM457.2 385.6 465.9 392.8 459.4 399.9 451.4 391.9ZM390.2 330 398.2 337.9 397.4 338.7 390.2 330ZM397.9 337.7 406 345.6 404.4 347.1 397.2 338.4ZM405.7 345.3 413.7 353.2 411.3 355.4 404.1 346.7ZM413.4 353 421.4 360.9 418.3 363.8 411.1 355.1ZM421.1 360.6 429.2 368.6 425.2 372.2 418 363.5ZM428.9 368.3 436.9 376.2 432.2 380.6 425 371.9ZM436.6 375.9 444.6 383.9 439.1 388.9 431.9 380.2ZM444.4 383.6 452.4 391.5 446.1 397.3 438.9 388.6ZM390.2 330 397.5 338.6 396.6 339.3 390.2 330ZM397.2 338.3 404.5 346.9 402.8 348.2 396.4 338.9ZM404.3 346.6 411.6 355.2 409 357.2 402.6 347.9ZM411.3 354.9 418.6 363.5 415.2 366.1 408.8 356.8ZM418.4 363.2 425.7 371.8 421.4 375.1 415 365.8ZM425.4 371.5 432.7 380.1 427.6 384 421.2 374.7ZM432.4 379.8 439.7 388.4 433.8 393 427.4 383.7ZM439.5 388.1 446.8 396.7 440 401.9 433.6 392.6ZM390.2 330 396.7 339.2 395.8 339.8 390.2 330ZM396.5 338.9 403 348.1 401.2 349.3 395.6 339.5ZM402.8 347.8 409.3 357 406.6 358.7 401 348.9ZM409.1 356.7 415.6 365.9 412 368.2 406.4 358.4ZM415.4 365.5 421.9 374.7 417.4 377.6 411.8 367.8ZM421.6 374.4 428.2 383.6 422.8 387.1 417.2 377.3ZM427.9 383.3 434.5 392.5 428.1 396.5 422.6 386.7ZM434.2 392.2 440.7 401.4 433.5 406 428 396.2ZM390.2 330 395.9 339.7 394.9 340.3 390.2 330ZM395.7 339.4 401.4 349.1 399.5 350.1 394.7 339.9ZM401.2 348.8 406.9 358.5 404 360 399.3 349.8ZM406.7 358.2 412.4 367.9 408.6 369.9 403.8 359.7ZM412.2 367.6 417.9 377.3 413.1 379.8 408.4 369.6ZM417.7 377 423.4 386.7 417.7 389.7 412.9 379.4ZM423.1 386.4 428.8 396.1 422.2 399.6 417.5 389.3ZM428.6 395.8 434.3 405.5 426.8 409.5 422 399.2ZM390.2 330 395 340.2 394 340.6 390.2 330ZM394.9 339.8 399.7 350 397.7 350.9 393.9 340.2ZM399.5 349.7 404.3 359.9 401.3 361.1 397.5 350.5ZM404.2 359.5 409 369.7 405 371.4 401.2 360.7ZM408.8 369.4 413.6 379.6 408.7 381.6 404.9 371ZM390.2 330 394.1 340.6 393.1 340.9 390.2 330ZM394 340.2 397.9 350.8 395.8 351.4 393 340.5ZM397.8 350.4 401.7 361 398.6 362 395.7 351.1ZM401.5 360.6 405.4 371.2 401.3 372.5 398.5 361.6ZM390.2 330 393.2 340.9 392.1 341.1 390.2 330ZM393.1 340.5 396 351.4 393.9 351.9 392 340.7ZM395.9 351 398.9 361.9 395.8 362.6 393.9 351.5ZM398.8 361.5 401.8 372.4 397.6 373.3 395.7 362.2ZM390.2 330 392.2 341.1 391.1 341.2 390.2 330ZM392.1 340.7 394.2 351.8 392 352.1 391.1 340.8ZM394.1 351.4 396.1 362.5 392.9 362.9 392 351.7ZM390.2 330 391.2 341.2 390.1 341.3 390.2 330ZM391.2 340.8 392.2 352.1 390.1 352.2 390.1 340.9ZM392.2 351.7 393.3 362.9 390 363.1 390.1 351.8ZM390.2 330 390.3 341.3 389.2 341.2 390.2 330ZM390.3 340.9 390.3 352.2 388.2 352.1 389.2 340.8ZM390.3 351.8 390.4 363.1 387.1 362.9 388.2 351.7ZM390.2 330 389.3 341.2 388.2 341.1 390.2 330ZM389.3 340.8 388.4 352.1 386.2 351.8 388.3 340.7ZM388.4 351.7 387.5 362.9 384.3 362.5 386.3 351.4ZM390.2 330 388.3 341.1 387.2 340.9 390.2 330ZM388.4 340.7 386.5 351.9 384.4 351.4 387.3 340.5ZM386.5 351.5 384.6 362.6 381.5 361.9 384.5 351ZM390.2 330 387.3 340.9 386.3 340.6 390.2 330ZM387.4 340.5 384.6 351.4 382.5 350.8 386.4 340.2ZM384.7 351.1 381.8 362 378.7 361 382.6 350.4ZM381.9 361.6 379.1 372.5 375 371.2 378.9 360.6ZM390.2 330 386.4 340.6 385.4 340.2 390.2 330ZM386.5 340.2 382.7 350.9 380.7 350 385.5 339.8ZM382.9 350.5 379.1 361.1 376.1 359.9 380.9 349.7ZM379.2 360.7 375.4 371.4 371.4 369.7 376.2 359.5ZM390.2 330 385.5 340.3 384.5 339.7 390.2 330ZM385.7 339.9 380.9 350.1 379 349.1 384.7 339.4ZM381.1 349.8 376.4 360 373.5 358.5 379.2 348.8ZM376.6 359.7 371.8 369.9 368 367.9 373.7 358.2ZM390.2 330 384.6 339.8 383.7 339.2 390.2 330ZM384.8 339.5 379.2 349.3 377.4 348.1 383.9 338.9ZM379.4 348.9 373.8 358.7 371.1 357 377.6 347.8ZM374 358.4 368.4 368.2 364.8 365.9 371.3 356.7ZM390.2 330 383.8 339.3 382.9 338.6 390.2 330ZM384 338.9 377.6 348.2 375.9 346.9 383.2 338.3ZM377.8 347.9 371.4 357.2 368.8 355.2 376.1 346.6ZM371.6 356.8 365.2 366.1 361.8 363.5 369.1 354.9ZM390.2 330 383 338.7 382.2 337.9 390.2 330ZM383.2 338.4 376 347.1 374.4 345.6 382.5 337.7ZM376.3 346.7 369.1 355.4 366.7 353.2 374.7 345.3ZM369.3 355.1 362.1 363.8 359 360.9 367 353ZM390.2 330 382.3 338 381.5 337.2 390.2 330ZM382.5 337.7 374.6 345.8 373.1 344.2 381.8 337ZM374.9 345.5 367 353.5 364.8 351.1 373.5 343.9ZM367.2 353.2 359.3 361.2 356.4 358.1 365.1 350.9ZM390.2 330 381.6 337.3 380.9 336.4 390.2 330ZM381.9 337 373.3 344.3 372 342.6 381.3 336.2ZM373.6 344.1 365 351.4 363 348.8 372.3 342.4ZM365.3 351.1 356.7 358.4 354.1 355 363.4 348.6ZM390.2 330 381 336.5 380.4 335.6 390.2 330ZM381.3 336.3 372.1 342.8 370.9 341 380.7 335.4ZM372.4 342.6 363.2 349.1 361.5 346.4 371.3 340.8ZM363.5 348.9 354.3 355.4 352 351.8 361.8 346.2ZM390.2 330 380.5 335.7 379.9 334.7 390.2 330ZM380.8 335.5 371.1 341.2 370.1 339.3 380.3 334.5ZM371.4 341 361.7 346.7 360.2 343.8 370.4 339.1ZM362 346.5 352.3 352.2 350.3 348.4 360.5 343.6ZM390.2 330 380 334.8 379.6 333.8 390.2 330ZM380.4 334.7 370.2 339.5 369.3 337.5 380 333.7ZM370.5 339.3 360.3 344.1 359.1 341.1 369.7 337.3ZM360.7 344 350.5 348.8 348.8 344.8 359.5 341ZM390.2 330 379.6 333.9 379.3 332.9 390.2 330ZM380 333.8 369.4 337.7 368.8 335.6 379.7 332.8ZM369.8 337.6 359.2 341.5 358.2 338.4 369.1 335.5ZM359.6 341.3 349 345.2 347.7 341.1 358.6 338.3ZM390.2 330 379.3 333 379.1 331.9 390.2 330ZM379.7 332.9 368.8 335.8 368.3 333.7 379.5 331.8ZM369.2 335.7 358.3 338.7 357.6 335.6 368.7 333.7ZM358.7 338.6 347.8 341.6 346.9 337.4 358 335.5ZM390.2 330 379.1 332 379 330.9 390.2 330ZM379.5 331.9 368.4 334 368.1 331.8 379.4 330.9ZM368.8 333.9 357.7 335.9 357.3 332.7 368.5 331.8ZM390.2 330 379 331 378.9 329.9 390.2 330ZM379.4 331 368.1 332 368 329.9 379.3 329.9ZM368.5 332 357.3 333.1 357.1 329.8 368.4 329.9ZM390.2 330 378.9 330.1 379 329 390.2 330ZM379.3 330.1 368 330.1 368.1 328 379.4 329ZM368.4 330.1 357.1 330.2 357.3 326.9 368.5 328ZM390.2 330 379 329.1 379.1 328 390.2 330ZM379.4 329.1 368.1 328.2 368.4 326 379.5 328.1ZM368.5 328.2 357.3 327.3 357.7 324.1 368.8 326.1ZM390.2 330 379.1 328.1 379.3 327 390.2 330ZM379.5 328.2 368.3 326.3 368.8 324.2 379.7 327.1ZM390.2 330 379.3 327.1 379.6 326.1 390.2 330ZM390.2 330 379.6 326.2 380 325.2 390.2 330ZM390.2 330 379.9 325.3 380.5 324.3 390.2 330ZM390.2 330 380.4 324.4 381 323.5 390.2 330ZM390.2 330 380.9 323.6 381.6 322.7 390.2 330ZM390.2 330 381.5 322.8 382.3 322 390.2 330ZM390.2 330 382.2 322.1 383 321.3 390.2 330ZM390.2 330 382.9 321.4 383.8 320.7 390.2 330ZM390.2 330 383.7 320.8 384.6 320.2 390.2 330ZM390.2 330 384.5 320.3 385.5 319.7 390.2 330ZM390.2 330 385.4 319.8 386.4 319.4 390.2 330ZM385.5 320.2 380.7 310 382.7 309.1 386.5 319.8ZM390.2 330 386.3 319.4 387.3 319.1 390.2 330ZM386.4 319.8 382.5 309.2 384.6 308.6 387.4 319.5ZM390.2 330 387.2 319.1 388.3 318.9 390.2 330ZM387.3 319.5 384.4 308.6 386.5 308.1 388.4 319.3ZM384.5 309 381.5 298.1 384.6 297.4 386.5 308.5ZM390.2 330 388.2 318.9 389.3 318.8 390.2 330ZM388.3 319.3 386.2 308.2 388.4 307.9 389.3 319.2ZM386.3 308.6 384.3 297.5 387.5 297.1 388.4 308.3ZM390.2 330 389.2 318.8 390.3 318.7 390.2 330ZM389.2 319.2 388.2 307.9 390.3 307.8 390.3 319.1ZM388.2 308.3 387.1 297.1 390.4 296.9 390.3 308.2ZM387.2 297.5 386.1 286.2 390.4 286.1 390.4 297.3ZM386.2 286.6 385.1 275.4 390.5 275.2 390.4 286.5ZM385.2 275.8 384.1 264.6 390.5 264.3 390.5 275.6Z" fill="#0000ff"/><path d="M389.8 253.8 389.7 242.5 398.3 242.9 397.2 254.1ZM396.4 254.1 397.4 242.8 405.8 243.9 403.8 255ZM403 254.9 404.9 243.8 413.3 245.6 410.3 256.5ZM445.8 263 453 254.3 460.1 260.8 452.1 268.8ZM451.4 268.1 459.4 260.1 465.9 267.2 457.2 274.4ZM456.6 273.7 465.2 266.4 471.1 274 461.8 280.4ZM470.2 273.4 479.4 266.9 485.1 275.9 475.3 281.5ZM474.8 280.6 484.5 274.9 489.5 284.3 479.2 289.1ZM484.2 275.1 493.9 269.4 499.3 279.8 489.1 284.5ZM488.6 283.5 498.8 278.7 503.3 289.5 492.7 293.3ZM492.3 292.2 502.9 288.3 506.4 299.5 495.5 302.4ZM495.2 301.3 506.1 298.3 508.6 309.8 497.5 311.7ZM497.3 310.5 508.4 308.5 509.9 320.2 498.7 321.1ZM498.7 338.9 509.9 339.8 508.4 351.5 497.3 349.5ZM497.5 348.3 508.6 350.2 506.1 361.7 495.2 358.7ZM495.5 357.6 506.4 360.5 502.9 371.7 492.3 367.8ZM492.7 366.7 503.3 370.5 498.8 381.3 488.6 376.5ZM479.2 370.9 489.5 375.7 484.5 385.1 474.8 379.4ZM489.1 375.5 499.3 380.2 493.9 390.6 484.2 384.9ZM475.3 378.5 485.1 384.1 479.4 393.1 470.2 386.6ZM484.7 383.9 494.5 389.5 488.2 399.4 479 392.9ZM470.7 385.8 480 392.2 473.5 400.7 464.9 393.4ZM465.6 392.6 474.3 399.8 467 407.7 459.1 399.6ZM452.1 391.2 460.1 399.2 453 405.7 445.8 397ZM459.8 398.9 467.9 406.8 460 414.1 452.8 405.4ZM446.5 396.4 453.8 405 446.2 410.9 439.8 401.6ZM440.5 401.1 447 410.3 438.9 415.4 433.3 405.6ZM434.1 405.2 439.8 414.9 431.3 419.4 426.6 409.1ZM413.5 379.2 418.3 389.4 412.3 391.9 408.5 381.2ZM418.1 389 422.9 399.2 416 402.1 412.2 391.5ZM422.8 398.9 427.6 409.1 419.7 412.4 415.9 401.7ZM405.3 370.8 409.2 381.4 404.1 383 401.2 372.1ZM409.1 381 413 391.6 406.9 393.6 404 382.6ZM412.9 391.3 416.8 401.8 409.6 404.1 406.8 393.2ZM401.7 372 404.7 382.9 399.4 384 397.5 372.9ZM404.6 382.5 407.5 393.4 401.3 394.8 399.4 383.6ZM396 362.1 398.1 373.2 393.8 373.8 392.9 362.5ZM398 372.8 400 383.9 394.7 384.6 393.8 373.4ZM393.2 362.5 394.3 373.8 390 373.9 390 362.7ZM394.2 373.4 395.3 384.6 389.9 384.8 390 373.5ZM390.4 362.7 390.4 373.9 386.1 373.8 387.2 362.5ZM390.4 373.5 390.5 384.8 385.1 384.6 386.2 373.4ZM387.5 362.5 386.6 373.8 382.3 373.2 384.4 362.1ZM386.6 373.4 385.7 384.6 380.4 383.9 382.4 372.8ZM384.7 362.2 382.8 373.3 378.6 372.4 381.6 361.5ZM382.9 372.9 381 384 375.7 382.9 378.7 372ZM379.2 372.1 376.3 383 371.2 381.4 375.1 370.8ZM375.5 371 371.7 381.6 366.8 379.6 371.6 369.4ZM371.9 381.2 368.1 391.9 362.1 389.4 366.9 379.2ZM372 369.6 367.3 379.8 362.5 377.3 368.2 367.6ZM367.5 379.4 362.7 389.7 357 386.7 362.7 377ZM368.6 367.8 363 377.6 358.5 374.7 365 365.5ZM363.2 377.3 357.6 387.1 352.2 383.6 358.8 374.4ZM365.4 365.8 359 375.1 354.7 371.8 362 363.2ZM359.2 374.7 352.8 384 347.7 380.1 355 371.5ZM362.4 363.5 355.2 372.2 351.2 368.6 359.3 360.6ZM355.4 371.9 348.2 380.6 343.5 376.2 351.5 368.3ZM359.6 360.9 351.6 369 348 365 356.7 357.8ZM351.9 368.7 344 376.7 339.6 372 348.3 364.8ZM344.3 376.4 336.3 384.4 331.3 378.9 340 371.7ZM357 358.2 348.4 365.5 345.1 361.2 354.4 354.8ZM348.7 365.2 340.1 372.5 336.2 367.4 345.5 361ZM340.4 372.2 331.8 379.5 327.2 373.6 336.5 367.2ZM354.7 355.2 345.5 361.7 342.6 357.2 352.4 351.6ZM345.8 361.4 336.6 368 333.1 362.6 342.9 357ZM336.9 367.7 327.7 374.3 323.7 367.9 333.5 362.4ZM352.6 352 342.9 357.7 340.4 352.9 350.6 348.2ZM343.2 357.5 333.5 363.2 330.5 357.5 340.8 352.7ZM333.8 362.9 324.1 368.6 320.6 362 330.9 357.3ZM350.8 348.6 340.6 353.4 338.6 348.5 349.2 344.7ZM341 353.3 330.8 358.1 328.3 352.1 339 348.3ZM349.4 345.1 338.8 349 337.2 343.9 348.1 341ZM339.2 348.9 328.6 352.8 326.6 346.7 337.6 343.8ZM348.2 341.5 337.3 344.5 336.2 339.2 347.3 337.3ZM358.1 335.8 347 337.9 346.4 333.6 357.7 332.7ZM347.4 337.8 336.3 339.8 335.6 334.5 346.8 333.6ZM357.7 333 346.4 334.1 346.3 329.8 357.5 329.8ZM346.8 334 335.6 335.1 335.4 329.7 346.7 329.8ZM357.5 330.2 346.3 330.2 346.4 325.9 357.7 327ZM357.7 327.3 346.4 326.4 347 322.1 358.1 324.2ZM368.7 326.3 357.6 324.4 358.3 321.3 369.2 324.3ZM379.7 327.2 368.8 324.4 369.4 322.3 380 326.2ZM369.1 324.5 358.2 321.6 359.2 318.5 369.8 322.4ZM380 326.3 369.3 322.5 370.2 320.5 380.4 325.3ZM369.7 322.7 359.1 318.9 360.3 315.9 370.5 320.7ZM380.3 325.5 370.1 320.7 371.1 318.8 380.8 324.5ZM380.7 324.6 370.9 319 372.1 317.2 381.3 323.7ZM381.3 323.8 372 317.4 373.3 315.7 381.9 323ZM381.8 323 373.1 315.8 374.6 314.2 382.5 322.3ZM382.5 322.3 374.4 314.4 376 312.9 383.2 321.6ZM374.7 314.7 366.7 306.8 369.1 304.6 376.3 313.3ZM383.2 321.7 375.9 313.1 377.6 311.8 384 321.1ZM376.1 313.4 368.8 304.8 371.4 302.8 377.8 312.1ZM383.9 321.1 377.4 311.9 379.2 310.7 384.8 320.5ZM377.6 312.2 371.1 303 373.8 301.3 379.4 311.1ZM384.7 320.6 379 310.9 380.9 309.9 385.7 320.1ZM379.2 311.2 373.5 301.5 376.4 300 381.1 310.2ZM380.9 310.3 376.1 300.1 379.1 298.9 382.9 309.5ZM382.6 309.6 378.7 299 381.8 298 384.7 308.9ZM378.9 299.4 375 288.8 379.1 287.5 381.9 298.4ZM381.6 298.5 378.6 287.6 382.8 286.7 384.7 297.8ZM378.7 288 375.7 277.1 381 276 382.9 287.1ZM384.4 297.9 382.3 286.8 386.6 286.2 387.5 297.5ZM382.4 287.2 380.4 276.1 385.7 275.4 386.6 286.6ZM380.5 276.5 378.5 265.4 384.8 264.5 385.7 275.8ZM384.2 265 383.1 253.7 390.6 253.4 390.5 264.7ZM383.2 254.1 382.1 242.9 390.7 242.5 390.6 253.8Z" fill="#0d0dff"/><path d="M389.7 242.9 389.7 231.6 399.3 232.1 398.2 243.3ZM431.1 241 435.9 230.7 445.3 235.7 439.6 245.4ZM520.3 317.9 531.5 316.9 532.1 330.7 520.8 330.7ZM520.8 329.3 532.1 329.3 531.5 343.1 520.3 342.1ZM520.4 340.7 531.6 341.6 529.8 355.4 518.7 353.4ZM518.9 352 530.1 353.9 527.1 367.4 516.2 364.5ZM516.5 363.1 527.5 366 523.3 379.2 512.7 375.3ZM450.6 433.4 456.3 443.1 444.9 449 440.2 438.8ZM441.4 438.2 446.2 448.4 434.4 453.3 430.6 442.7ZM418.9 435 421.9 445.9 410.4 448.4 408.5 437.3ZM409.7 437.1 411.7 448.2 400 449.7 399.1 438.5ZM399.2 427.5 400.3 438.8 389.6 439.2 389.7 428ZM390.7 428 390.8 439.2 380.1 438.8 381.2 427.5ZM382.2 427.6 381.2 438.9 370.7 437.5 372.7 426.4ZM371.9 437.3 370 448.4 358.5 445.9 361.5 435ZM362.6 435.3 359.7 446.2 348.5 442.7 352.4 432.1ZM349.8 442.7 346 453.3 334.2 448.4 339 438.2ZM335.6 448.7 330.9 458.9 318.6 452.5 324.3 442.8ZM325.5 443.5 319.9 453.3 308.2 445.8 314.7 436.6ZM309.6 446.3 303.2 455.6 291.4 446.5 298.7 437.9ZM299.8 438.9 292.6 447.6 281.6 437.5 289.6 429.5ZM283 438.3 275.1 446.3 264.3 434.5 273 427.3ZM274 428.6 265.4 435.9 255.6 423.2 264.9 416.7ZM265.7 435.6 257.1 442.9 246.7 429.4 256 422.9ZM256.9 424.3 247.7 430.9 238.6 416.5 248.4 410.9ZM249.2 412.4 239.5 418.1 231.6 402.9 241.9 398.2ZM242.6 399.8 232.4 404.6 225.9 388.8 236.5 385ZM247.3 382.9 236.7 386.8 231.9 371.5 242.8 368.7ZM243.2 370.2 232.3 373.2 228.9 357.6 240 355.7ZM251 355.3 239.9 357.3 237.9 342.5 249.2 341.6ZM249.3 343.1 238.1 344.1 237.4 329.2 248.7 329.3ZM259.6 330.7 248.3 330.7 248.9 316.9 260.1 317.9ZM270.9 320.2 259.6 319.3 261.3 306.6 272.4 308.6ZM315.1 317.2 304 315.3 305.8 306.9 316.7 309.9ZM304.4 315.3 293.2 313.4 295.3 304 306.2 307ZM293.6 313.5 282.5 311.6 284.8 301.2 295.7 304.2ZM282.9 311.7 271.8 309.8 274.3 298.3 285.2 301.3ZM327 313.4 316.1 310.6 318.4 303.4 328.9 307.3ZM316.5 310.7 305.6 307.8 308.2 299.7 318.7 303.6ZM339 311.7 328.3 307.9 330.8 301.9 341 306.7ZM328.7 308 318.1 304.2 321 297.3 331.2 302.1ZM345.5 299 336.2 292.6 340.1 287.5 348.7 294.8ZM348.3 295.2 339.6 288 344 283.3 351.9 291.3ZM351.5 291.7 343.5 283.8 348.2 279.4 355.4 288.1ZM352.5 276.7 345.9 267.5 352.3 263.5 357.8 273.3ZM357.3 273.6 351.6 263.9 358.2 260.4 362.9 270.7ZM357.6 261.1 352.8 250.9 360.7 247.6 364.5 258.3Z" fill="#4d4dff"/><path d="M389.7 232 389.6 220.8 400.3 221.2 399.2 232.5ZM440.2 221.2 444.9 211 456.3 216.9 450.6 226.6ZM483.1 195.8 489.6 186.5 503.1 196.9 495.8 205.5ZM489.3 186.8 495.8 177.5 510.1 188.6 502.8 197.2ZM495.5 177.9 502 168.6 517.2 180.3 509.9 188.9ZM473.6 229.5 480.8 220.8 491.1 230.2 483 238.1ZM487.5 212.8 494.7 204.1 506.5 214.9 498.5 222.8ZM494.5 204.4 501.7 195.7 514.3 207.2 506.3 215.2ZM501.4 196 508.7 187.3 522 199.6 514 207.5ZM508.4 187.6 515.6 178.9 529.7 191.9 521.7 199.8ZM489.7 229.4 497.7 221.4 507.8 232.4 499.1 239.6ZM497.4 221.7 505.3 213.7 516.1 225.5 507.4 232.7ZM512.7 206.2 520.6 198.2 532.9 211.5 524.2 218.8ZM520.4 198.5 528.3 190.5 541.3 204.6 532.6 211.8ZM531.3 210.3 539.9 203 551.6 218.2 542.3 224.7ZM550.1 216.8 559.3 210.3 570.2 227.3 560.4 232.9ZM559.4 231.2 569.1 225.5 578.4 243.4 568.2 248.1ZM557.5 250.9 567.7 246.1 575 263.8 564.4 267.6ZM563.7 265.8 574.3 261.9 580.1 280.2 569.2 283ZM568.7 281.2 579.6 278.2 583.7 296.9 572.6 298.8ZM572.3 296.9 583.4 294.9 585.9 313.9 574.6 314.8ZM574.4 312.9 585.7 311.9 586.5 331 575.2 331ZM575.2 329 586.5 329 585.7 348.1 574.4 347.1ZM574.6 345.2 585.9 346.1 583.4 365.1 572.3 363.1ZM572.6 361.2 583.7 363.1 579.6 381.8 568.7 378.8ZM568.2 411.9 578.4 416.6 569.1 434.5 559.4 428.8ZM542.3 435.3 551.6 441.8 539.9 457 531.3 449.7ZM524.2 441.2 532.9 448.5 520.6 461.8 512.7 453.8ZM495.8 454.5 503.1 463.1 489.6 473.5 483.1 464.2ZM484.5 463.3 491.1 472.5 476.7 481.6 471.1 471.8ZM443.1 472.9 447 483.5 431.7 488.3 428.9 477.4ZM430.4 477 433.4 487.9 417.8 491.3 415.9 480.2ZM417.4 479.9 419.5 491 403.6 493.1 402.7 481.9ZM391 482.4 391.1 493.7 375.1 493 376.1 481.7ZM362.7 490.9 360.8 502.1 344.1 498.4 347.1 487.5ZM346 498.5 343.1 509.4 325.9 503.9 329.8 493.3ZM293.1 500.2 287.5 510 270.5 499.1 277 489.9ZM258.1 489.1 250.9 497.8 235.2 483.4 243.2 475.5ZM212.5 455.8 203.3 462.3 191.3 443.4 201.1 437.9ZM202.2 439.8 192.5 445.5 182.2 425.7 192.4 421ZM193.4 423 183.2 427.9 174.6 407.2 185.2 403.4ZM190.7 384.6 179.8 387.5 175.2 366.7 186.3 364.8ZM195.1 348.1 183.9 349.1 183 328.9 194.3 329ZM205.8 314.8 194.5 313.9 197 294.9 208.1 296.9ZM218.5 300.7 207.4 298.8 211.3 281.1 222.2 284ZM232.3 288.6 221.4 285.7 226.5 269.4 237.1 273.4ZM246.7 278.6 236.1 274.8 242.2 260.1 252.4 264.9ZM261.6 270.9 251.4 266.2 258.3 252.9 268 258.6ZM267.3 259.9 257.5 254.3 265.5 241.7 274.7 248.2ZM273.9 249.4 264.6 243 273.7 231.2 282.3 238.5ZM281.3 239.6 272.6 232.4 282.7 221.4 290.7 229.4ZM289.6 230.5 281.6 222.5 292.6 212.4 299.8 221.1ZM298.7 222.1 291.4 213.5 303.2 204.4 309.6 213.7ZM302.1 205.6 295.6 196.4 309.1 187.8 314.7 197.6ZM318.8 207.8 313.1 198.1 326.4 191.2 331.1 201.4ZM313.3 198.4 307.6 188.7 321.8 181.3 326.5 191.6ZM343.7 231.6 338.9 221.4 349.7 216.9 353.5 227.5ZM339 221.8 334.2 211.6 346 206.7 349.8 217.3ZM334.4 211.9 329.6 201.7 342.4 196.4 346.2 207ZM372.7 233.6 370.7 222.5 381.2 221.1 382.2 232.4Z" fill="#a6a6ff"/><path d="M389.6 221.2 389.6 209.9 401.3 210.4 400.3 221.6ZM407.1 123.9 408.1 112.6 429.2 115.4 427.2 126.5ZM445.4 119.4 448.3 108.5 469.6 115.2 465.7 125.8ZM485.7 122.3 490.4 112.1 511.2 122.9 505.5 132.6ZM526.5 133.1 532.9 123.9 552.4 138.8 545.1 147.4ZM543.2 145.8 550.4 137.1 568.4 153.6 560.4 161.6ZM558.6 159.8 566.6 151.8 583.1 169.8 574.4 177ZM572.8 175.1 581.4 167.8 596.3 187.3 587.1 193.7ZM585.6 191.6 594.8 185.1 608 205.8 598.2 211.4ZM597 209.2 606.7 203.5 618 225.2 607.8 229.9ZM604.6 250.7 615.2 246.8 622.2 269.1 611.3 272ZM610.7 269.7 621.6 266.7 626.6 289.6 615.5 291.5ZM615.5 368.5 626.6 370.4 621.6 393.3 610.7 390.3ZM615.6 410.7 626.3 414.5 616.9 437.2 606.7 432.3ZM607.7 454 617.5 459.6 603.7 481.2 594.5 474.7ZM587.1 466.3 596.3 472.7 581.4 492.2 572.8 484.9ZM566.1 476 574.7 483.2 558.9 500.5 551 492.5ZM544.9 483.1 553 491.1 536.5 506.2 529.3 497.5ZM509.7 498.8 516.2 508 498.3 519.4 492.7 509.6ZM489 499.2 494.7 508.9 476.8 518.2 472.1 508ZM473.9 507.1 478.8 517.3 460 525.1 456.2 514.5ZM458.2 513.8 462.1 524.3 442.8 530.4 439.9 519.5ZM407.3 514.2 408.3 525.5 389.2 526.3 389.2 515ZM374.1 525.3 373.2 536.5 353.2 533.9 355.2 522.8ZM355.4 533.9 353.5 545 332.7 540.4 335.6 529.5ZM335 540.6 332.1 551.5 310.8 544.8 314.7 534.2ZM313.1 545.2 309.3 555.8 287.7 546.9 292.5 536.7ZM271.6 538 266 547.8 245.3 534.6 251.8 525.4ZM230.3 522.6 223.1 531.3 204.2 514 212.3 506.1ZM214.1 507.9 206.2 516 188.9 497.1 197.6 489.9ZM191 499 182.4 506.3 166.2 485.1 175.4 478.7ZM177 481 167.8 487.5 153.5 465 163.3 459.4ZM164.7 461.8 154.9 467.5 142.6 443.9 152.9 439.2ZM155.4 416.9 144.8 420.8 137.1 396.4 148 393.5ZM148.7 396.1 137.8 399 132.3 374.1 143.4 372.2ZM151.8 352.1 140.5 353.2 139.5 328.7 150.7 328.7ZM150.7 331.3 139.5 331.3 140.5 306.8 151.8 307.9ZM151.5 310.4 140.3 309.5 143.5 285.2 154.6 287.2ZM169.1 272 158.2 269.1 165.2 246.8 175.8 250.7ZM175 252.9 164.4 249.1 173.3 227.5 183.5 232.3ZM192.4 239 182.2 234.3 192.5 214.5 202.2 220.2ZM201.1 222.1 191.3 216.6 203.3 197.7 212.5 204.2ZM220.2 212.3 210.9 205.8 223.9 188.9 232.5 196.2ZM231.1 197.9 222.4 190.7 236.8 175 244.7 183ZM243.2 184.5 235.2 176.6 250.9 162.2 258.1 170.9ZM256.4 172.3 249.1 163.7 266 150.7 272.5 160ZM270.7 161.2 264.2 152 282.1 140.6 287.7 150.4ZM285.9 151.4 280.2 141.7 299.1 131.9 303.8 142.1ZM380.1 221.6 379.1 210.4 390.8 209.9 390.8 221.2ZM372.1 134.9 371.1 123.7 391.3 122.8 391.2 134.1Z" fill="#ffffff"/><path d="M389.6 210.3 389.5 199 402.3 199.5 401.3 210.8ZM389.2 134.1 389.1 122.8 409.3 123.7 408.3 134.9ZM425 126.1 426.9 115 447.7 119.6 444.8 130.5ZM463.6 125 467.4 114.4 488.1 123 483.2 133.2ZM503.5 131.5 509 121.6 528.8 134.2 522.3 143.4ZM520.3 142.1 526.7 132.8 545.3 147.1 538 155.7ZM536.2 154.1 543.4 145.5 560.7 161.3 552.7 169.2ZM551 167.5 558.9 159.5 574.7 176.8 566.1 184ZM587.6 214.7 597.3 209 608.1 229.8 597.9 234.5ZM596.9 232.3 607.1 227.5 616 249.1 605.4 252.9ZM604.4 291.1 615.5 289.1 618.4 311.2 607.2 312.2ZM607 309.9 618.2 308.8 619.2 331.2 607.9 331.1ZM607.9 328.9 619.2 328.8 618.2 351.2 607 350.1ZM607.2 347.8 618.4 348.8 615.5 370.9 604.4 368.9ZM611.3 388 622.2 390.9 615.2 413.2 604.6 409.3ZM605.4 407.1 616 410.9 607.1 432.5 596.9 427.7ZM607.8 430.1 618 434.8 606.7 456.5 597 450.8ZM598.2 448.6 608 454.2 594.8 474.9 585.6 468.4ZM578.1 460.1 587.4 466.5 573.1 485.1 564.5 477.8ZM557.7 469.1 566.4 476.3 551.3 492.8 543.3 484.7ZM524 487.7 531.3 496.3 514.4 509.3 507.9 500ZM503.4 489.9 509.9 499.1 492.9 510 487.3 500.2ZM454.4 503.5 458.3 514.1 440 519.9 437.2 509ZM439 508.5 442 519.4 423.3 523.5 421.4 512.4ZM423.3 512.1 425.3 523.2 406.3 525.7 405.4 514.4ZM391.2 515 391.2 526.3 372.1 525.5 373.1 514.2ZM337.7 530 334.9 541 314.5 534.5 318.5 524ZM316.8 535 313 545.6 292.3 537 297.2 526.8ZM294.7 537.7 290 547.9 269.2 537.1 274.9 527.4ZM276.9 528.5 271.4 538.4 251.6 525.8 258.1 516.6ZM253.9 526.9 247.5 536.1 228 521.2 235.3 512.6ZM237.2 514.2 230 522.9 212 506.4 220 498.4ZM199.3 491.9 190.7 499.2 175.1 478.9 184.4 472.5ZM163.9 437 153.7 441.8 143.9 418.2 154.5 414.4ZM154.6 372.8 143.5 374.8 140.3 350.5 151.5 349.6ZM161.6 331.2 150.3 331.3 151.4 307.8 162.6 308.9ZM162.4 311.3 151.1 310.3 154.2 287.1 165.3 289.1ZM164.9 291.5 153.8 289.6 158.8 266.7 169.7 269.7ZM179.6 274.8 168.7 271.9 175.4 250.6 186 254.5ZM185.2 256.6 174.6 252.8 183.2 232.1 193.4 237ZM202.3 243.6 192.1 238.9 201.9 220 211.6 225.7ZM220 232.9 210.2 227.3 221.1 210.3 230.3 216.8ZM210.6 227.5 200.8 221.9 212.2 204 221.4 210.5ZM229.1 218.5 219.8 212 232.2 196 240.8 203.3ZM239.5 204.9 230.8 197.6 244.5 182.7 252.4 190.7ZM250.9 192.2 242.9 184.3 257.8 170.6 265.1 179.3ZM263.5 180.6 256.2 172 272.2 159.6 278.7 168.9ZM277 170.1 270.5 160.9 287.5 150 293.1 159.8ZM291.4 160.8 285.7 151.1 303.6 141.8 308.3 152ZM306.5 152.9 301.6 142.7 320.4 134.9 324.2 145.5ZM322.2 146.2 318.3 135.7 337.6 129.6 340.5 140.5ZM338.5 141 335.5 130.1 355.3 125.8 357.2 136.9ZM355.2 137.2 353.2 126.1 373.2 123.5 374.1 134.7ZM379.1 210.8 378.1 199.5 390.9 199 390.8 210.3ZM373.1 145.8 372.1 134.5 391.2 133.7 391.2 145Z" fill="#f2f2ff"/><path d="M389.5 199.4 389.5 188.1 403.3 188.7 402.3 199.9ZM389.3 155.8 389.2 144.6 407.3 145.4 406.3 156.6ZM389.2 145 389.2 133.7 408.3 134.5 407.3 145.8ZM399.1 221.5 400 210.3 411.7 211.8 409.7 222.9ZM406.3 134.7 407.2 123.5 427.2 126.1 425.2 137.2ZM423.2 136.9 425.1 125.8 444.9 130.1 441.9 141ZM442.7 130 445.5 119 465.9 125.5 461.9 136ZM481.2 132.2 485.9 122 505.7 132.3 500 142ZM564.5 182.2 573.1 174.9 587.4 193.5 578.1 199.9ZM576.8 197.9 586 191.4 598.6 211.2 588.7 216.7ZM594.4 254.5 605 250.6 611.7 271.9 600.8 274.8ZM600.2 272.6 611.1 269.6 615.9 291.4 604.8 293.3ZM604.8 366.7 615.9 368.6 611.1 390.4 600.2 387.4ZM600.8 385.2 611.7 388.1 605 409.4 594.4 405.5ZM597.9 425.5 608.1 430.2 597.3 451 587.6 445.3ZM588.7 443.3 598.6 448.8 586 468.6 576.8 462.1ZM569.2 453.9 578.5 460.4 564.8 478.1 556.2 470.8ZM537.2 475.5 545.2 483.4 529.5 497.8 522.3 489.1ZM516.9 479.4 524.2 488 508.2 500.4 501.7 491.1ZM483.6 489.8 489.3 499.5 472.2 508.4 467.5 498.1ZM469.3 497.3 474.1 507.5 456.4 514.8 452.6 504.2ZM406.3 503.4 407.3 514.6 389.2 515.4 389.3 504.2ZM375 514.4 374.1 525.7 355.1 523.2 357.1 512.1ZM357.2 523.1 355.3 534.2 335.5 529.9 338.5 519ZM299.2 527.8 294.5 538 274.7 527.7 280.4 518ZM260.1 517.9 253.7 527.2 235.1 512.9 242.4 504.3ZM221.8 500.2 213.8 508.2 197.3 490.2 206 483ZM185.9 474.7 176.7 481.2 162.9 459.6 172.7 454ZM174.1 456.3 164.3 462 152.5 439.3 162.8 434.6ZM165.6 413.1 155 417 147.7 393.6 158.6 390.8ZM159.2 393.2 148.3 396.2 143 372.2 154.2 370.3ZM162.6 351.1 151.4 352.2 150.3 328.7 161.6 328.8ZM173.2 312.2 162 311.2 164.9 289.1 176 291.1ZM175.6 293.3 164.5 291.4 169.3 269.6 180.2 272.6ZM190.2 277.5 179.2 274.7 185.7 254.3 196.2 258.3ZM195.5 260.3 184.9 256.5 193 236.8 203.2 241.6ZM212.2 248.1 202 243.4 211.3 225.5 221 231.2ZM229.5 238.3 219.7 232.7 230 216.6 239.2 223.1ZM238.1 224.7 228.8 218.2 240.5 203 249.1 210.3ZM326 156.5 322.1 145.9 340.4 140.1 343.2 151ZM341.4 151.5 338.4 140.6 357.1 136.5 359 147.6ZM370.7 222.9 368.7 211.8 380.4 210.3 381.3 221.5ZM357.1 147.9 355.1 136.8 374.1 134.3 375 145.6ZM374.1 156.6 373.1 145.4 391.2 144.6 391.1 155.8Z" fill="#e6e6ff"/><path d="M389.5 188.5 389.4 177.2 404.3 177.9 403.3 189.1ZM389.4 177.6 389.3 166.3 405.3 167 404.3 178.3ZM389.3 166.7 389.3 155.4 406.3 156.2 405.3 167.4ZM400 210.7 400.9 199.4 413.6 201.1 411.6 212.2ZM400.9 199.8 401.8 188.6 415.6 190.4 413.6 201.5ZM401.8 189 402.7 177.7 417.5 179.7 415.5 190.8ZM402.7 178.1 403.6 166.9 419.5 169 417.4 180.1ZM404.5 156.4 405.4 145.2 423.4 147.5 421.3 158.7ZM405.4 145.6 406.3 134.3 425.3 136.8 423.3 147.9ZM412.2 201.3 414.1 190.1 427.6 193.1 424.7 204ZM414 190.5 415.9 179.4 430.5 182.6 427.5 193.5ZM421.4 147.6 423.3 136.5 442 140.6 439 151.5ZM423.3 203.7 426.2 192.7 439.4 196.9 435.5 207.5ZM426.1 193.1 429 182.2 443.2 186.7 439.3 197.3ZM439.9 140.5 442.8 129.6 462.1 135.7 458.2 146.2ZM437.9 196.8 441.7 186.2 455.5 191.9 450.7 202.1ZM459.9 135.3 463.7 124.7 483.4 132.8 478.6 143ZM449.3 201.4 454 191.2 467.3 198.1 461.6 207.8ZM498.1 140.9 503.6 131.1 522.5 143.1 516 152.3ZM514.1 151 520.6 141.7 538.3 155.4 531 164ZM529.3 162.5 536.5 153.8 553 168.9 544.9 176.9ZM543.3 175.3 551.3 167.2 566.4 183.7 557.7 190.9ZM556.2 189.2 564.8 181.9 578.5 199.6 569.2 206.1ZM567.9 204.2 577.1 197.7 589.1 216.6 579.3 222.1ZM578.2 220.2 587.9 214.5 598.2 234.3 588 239ZM587 237 597.2 232.1 605.8 252.8 595.2 256.6ZM593.7 293 604.8 291 607.6 312.1 596.3 313.1ZM596.1 310.9 607.4 309.9 608.3 331.1 597 331.1ZM597 328.9 608.3 328.9 607.4 350.1 596.1 349.1ZM596.3 346.9 607.6 347.9 604.8 369 593.7 367ZM595.2 403.4 605.8 407.2 597.2 427.9 587 423ZM588 421 598.2 425.7 587.9 445.5 578.2 439.8ZM579.3 437.9 589.1 443.4 577.1 462.3 567.9 455.8ZM549.3 462.1 558 469.3 543.6 485 535.7 477ZM529.5 467.8 537.5 475.7 522.6 489.4 515.3 480.7ZM497.1 481 503.6 490.2 487.5 500.5 481.9 490.7ZM450.6 493.3 454.5 503.9 437.3 509.4 434.4 498.5ZM436.2 498 439.1 508.9 421.4 512.8 419.5 501.7ZM421.3 501.3 423.4 512.5 405.4 514.8 404.5 503.6ZM391.1 504.2 391.2 515.4 373.1 514.6 374.1 503.4ZM359 512.4 357.1 523.5 338.4 519.4 341.4 508.5ZM340.5 519.5 337.6 530.4 318.3 524.3 322.2 513.8ZM320.5 524.7 316.7 535.3 297 527.2 301.8 517ZM282.3 519.1 276.8 528.9 257.9 516.9 264.4 507.7ZM244.2 505.9 237 514.5 219.7 498.7 227.7 490.8ZM207.6 484.9 199 492.2 184.1 472.7 193.3 466.3ZM194.8 468.4 185.6 474.9 172.4 454.2 182.2 448.6ZM183.4 450.8 173.7 456.5 162.4 434.8 172.6 430.1ZM173.7 432.3 163.5 437.2 154.1 414.5 164.8 410.7ZM169.7 390.3 158.8 393.3 153.8 370.4 164.9 368.5ZM165.3 370.9 154.2 372.9 151.1 349.7 162.4 348.7ZM172.5 331.1 161.2 331.2 162.2 308.8 173.4 309.9ZM186.3 295.2 175.2 293.3 179.8 272.5 190.7 275.4ZM205.7 264 195.1 260.2 202.9 241.4 213.1 246.3ZM222.1 252.7 211.8 248 220.7 230.9 230.4 236.6ZM238.9 243.7 229.1 238.1 238.9 222.8 248.1 229.4ZM247.8 211.8 239.1 204.6 252.1 190.5 260 198.5ZM258.7 199.8 250.7 191.9 264.8 178.9 272 187.6ZM270.5 188.9 263.2 180.3 278.4 168.6 284.9 177.9ZM283.3 179 276.8 169.8 292.9 159.5 298.5 169.3ZM296.8 170.2 291.1 160.5 308.2 151.6 312.9 161.9ZM311.1 162.7 306.3 152.5 324 145.2 327.8 155.8ZM361.5 225 358.5 214.1 370 211.6 371.9 222.7ZM344.2 162 341.3 151.1 359 147.2 360.9 158.3ZM368.8 212.2 366.8 201.1 379.5 199.4 380.4 210.7ZM359.1 158.7 357 147.5 375 145.2 375.9 156.4ZM378.1 199.9 377.1 188.7 390.9 188.1 390.9 199.4ZM377.1 189.1 376.1 177.9 391 177.2 390.9 188.5ZM376.1 178.3 375.1 167 391.1 166.3 391 177.6ZM375.1 167.4 374.1 156.2 391.1 155.4 391.1 166.7Z" fill="#d9d9ff"/><path d="M389.1 123.2 389.1 111.9 410.3 112.8 409.3 124.1ZM426.9 115.4 428.8 104.3 450.6 109.1 447.6 120ZM467.3 114.8 471.1 104.2 492.7 113.1 487.9 123.3ZM490.3 112.4 495 102.2 516.7 113.5 511 123.2ZM508.8 122 514.4 112.2 535.1 125.4 528.6 134.6ZM581.1 168.1 589.7 160.8 605.3 181.1 596 187.5ZM594.5 185.3 603.7 178.8 617.5 200.4 607.7 206ZM606.3 203.7 616.1 198 627.9 220.7 617.6 225.4ZM606.7 227.7 616.9 222.8 626.3 245.5 615.6 249.3ZM614.8 246.9 625.4 243 632.7 266.4 621.8 269.2ZM615.1 289.1 626.2 287.1 629.3 310.3 618 311.3ZM617.8 308.9 629 307.8 630.1 331.3 618.8 331.2ZM618.8 328.8 630.1 328.7 629 352.2 617.8 351.1ZM618 348.7 629.3 349.7 626.2 372.9 615.1 370.9ZM621.8 390.8 632.7 393.6 625.4 417 614.8 413.1ZM625.9 414.4 636.5 418.2 626.7 441.8 616.5 437ZM617.6 434.6 627.9 439.3 616.1 462 606.3 456.3ZM596 472.5 605.3 478.9 589.7 499.2 581.1 491.9ZM574.4 483 583.1 490.2 566.6 508.2 558.6 500.2ZM552.7 490.8 560.7 498.7 543.4 514.5 536.2 505.9ZM531 496 538.3 504.6 520.6 518.3 514.1 509ZM494.5 508.6 500.2 518.3 481.3 528.1 476.6 517.9ZM478.6 517 483.4 527.2 463.7 535.3 459.9 524.7ZM441.9 519 444.9 529.9 425.1 534.2 423.2 523.1ZM425.2 522.8 427.2 533.9 407.2 536.5 406.3 525.3ZM391.2 525.9 391.3 537.2 371.1 536.3 372.1 525.1ZM373.3 536.1 372.3 547.4 351.2 544.6 353.2 533.5ZM353.5 544.6 351.6 555.7 329.8 550.9 332.8 540ZM332.2 551.1 329.3 562 307 555 310.9 544.4ZM290.1 547.6 285.4 557.8 263.7 546.5 269.4 536.8ZM266.2 547.5 260.6 557.3 239 543.5 245.5 534.3ZM247.7 535.8 241.3 545.1 221 529.5 228.3 520.9ZM223.3 531 216.1 539.7 196.5 521.7 204.5 513.7ZM206.5 515.7 198.5 523.7 180.5 504.1 189.2 496.9ZM168.1 487.2 158.9 493.8 144 470.4 153.8 464.8ZM154 441.6 143.8 446.5 133.6 421.9 144.3 418.1ZM145.2 420.6 134.6 424.5 126.6 399.2 137.5 396.3ZM143.9 374.8 132.8 376.8 129.4 351.4 140.7 350.5ZM140.9 353.1 129.7 354.2 128.6 328.6 139.9 328.7ZM154.2 289.7 143 287.8 148.3 263.8 159.2 266.8ZM158.6 269.2 147.7 266.4 155 243 165.6 246.9ZM164.8 249.3 154.1 245.5 163.5 222.8 173.7 227.7ZM182.5 234.5 172.3 229.8 183.1 209 192.8 214.7ZM172.6 229.9 162.4 225.2 173.7 203.5 183.4 209.2ZM191.7 216.7 181.8 211.2 194.4 191.4 203.6 197.9ZM211.2 206.1 201.9 199.6 215.6 181.9 224.2 189.2ZM202.3 199.9 193 193.5 207.3 174.9 215.9 182.2ZM222.7 190.9 214 183.7 229.1 167.2 237.1 175.3ZM235.5 176.9 227.4 168.9 243.9 153.8 251.1 162.5ZM249.4 164 242.1 155.4 259.8 141.7 266.3 151ZM301.8 143 297 132.8 316.7 124.7 320.5 135.3ZM318.5 136 314.5 125.5 334.9 119 337.7 130ZM335.6 130.5 332.7 119.6 353.5 115 355.4 126.1ZM353.2 126.5 351.2 115.4 372.3 112.6 373.3 123.9Z" fill="#fff2f2"/><path d="M389.1 112.3 389 101 411.4 102 410.3 113.2ZM428.7 104.7 430.6 93.6 453.5 98.6 450.5 109.5ZM451 98.4 453.8 87.5 477.2 94.8 473.3 105.4ZM494.8 102.6 499.5 92.3 522.2 104.1 516.5 113.9ZM519.6 103.1 525.2 93.3 547.7 107.6 541.2 116.8ZM538.9 115.2 545.3 106 566.5 122.2 559.2 130.8ZM557.1 129 564.3 120.3 583.9 138.3 575.9 146.3ZM573.9 144.3 581.9 136.3 599.9 155.9 591.2 163.1ZM589.4 161 598 153.7 614.2 174.9 605 181.3ZM603.4 179 612.6 172.5 626.9 195 617.1 200.6ZM615.7 198.2 625.5 192.5 637.8 216.1 627.5 220.8ZM625 243.1 635.6 239.2 643.3 263.6 632.4 266.5ZM631.7 263.9 642.6 261 648.1 285.9 637 287.8ZM628.6 307.9 639.9 306.8 640.9 331.3 629.7 331.3ZM629.7 328.7 640.9 328.7 639.9 353.2 628.6 352.1ZM637 372.2 648.1 374.1 642.6 399 631.7 396.1ZM636.1 418.1 646.8 421.9 636.6 446.5 626.4 441.6ZM637.4 443.7 647.7 448.4 634.9 473 625.1 467.3ZM626.6 464.8 636.4 470.4 621.5 493.8 612.3 487.2ZM636 470.2 645.8 475.8 630.4 500.1 621.2 493.5ZM645.5 475.6 655.3 481.2 639.3 506.3 630.1 499.8ZM613.9 484.9 623.2 491.3 606.3 513.3 597.7 506ZM591.2 496.9 599.9 504.1 581.9 523.7 573.9 515.7ZM599.6 503.8 608.2 511 589.5 531.4 581.6 523.4ZM575.9 513.7 583.9 521.7 564.3 539.7 557.1 531ZM552.1 520.9 559.4 529.5 539.1 545.1 532.7 535.8ZM528.6 525.4 535.1 534.6 514.4 547.8 508.8 538ZM505.5 527.4 511.2 537.1 490.4 547.9 485.7 537.7ZM483.2 526.8 488.1 537 467.4 545.6 463.6 535ZM487.9 536.7 492.7 546.9 471.1 555.8 467.3 545.2ZM465.7 534.2 469.6 544.8 448.3 551.5 445.4 540.6ZM447.6 540 450.6 550.9 428.8 555.7 426.9 544.6ZM409.3 535.9 410.3 547.2 389.1 548.1 389.1 536.8ZM371.5 557.8 370.5 569.1 347.3 566 349.3 554.9ZM349.9 566 348 577.2 324 571.9 327 561ZM326.7 572.2 323.8 583.1 299.4 575.4 303.3 564.8ZM305.8 565.7 302 576.3 278.4 566.5 283.2 556.3ZM302.1 575.9 298.3 586.6 273.7 576.4 278.6 566.2ZM281 567.3 276.3 577.6 252.7 565.3 258.4 555.5ZM255.4 566.4 249.8 576.2 226.4 561.3 233 552.1ZM235.3 553.7 228.9 563 206.9 546.1 214.2 537.5ZM216.4 539.4 209.2 548 188.8 529.3 196.8 521.4ZM209.4 547.7 202.2 556.4 181 537 189 529.1ZM202.5 556.1 195.3 564.8 173.3 544.7 181.3 536.7ZM191.1 531.2 183.2 539.2 163.8 518 172.5 510.8ZM183.5 538.9 175.5 546.9 155.4 524.9 164.1 517.7ZM134.3 450.9 124.1 455.8 113.1 429.2 123.8 425.4ZM124.5 455.6 114.3 460.4 102.9 432.9 113.5 429.1ZM135 424.4 124.4 428.3 116.1 401.9 127 399.1ZM133.2 376.7 122.1 378.7 118.6 352.3 129.8 351.4ZM130.1 354.1 118.8 355.2 117.7 328.6 129 328.6ZM129 331.4 117.7 331.4 118.8 304.8 130.1 305.9ZM129.8 308.6 118.6 307.7 122.1 281.3 133.2 283.3ZM132.7 286 121.6 284.1 127.3 258.1 138.2 261.1ZM137.5 263.7 126.6 260.8 134.6 235.5 145.2 239.4ZM144.3 241.9 133.6 238.1 143.8 213.5 154 218.4ZM152.9 220.8 142.6 216.1 154.9 192.5 164.7 198.2ZM143 216.3 132.7 211.6 145.5 187 155.3 192.7ZM163.3 200.6 153.5 195 167.8 172.5 177 179ZM184.4 187.5 175.1 181.1 190.7 160.8 199.3 168.1ZM206 177 197.3 169.8 213.8 151.8 221.8 159.8ZM220 161.6 212 153.6 230 137.1 237.2 145.8ZM242.4 155.7 235.1 147.1 253.7 132.8 260.1 142.1ZM258.1 143.4 251.6 134.2 271.4 121.6 276.9 131.5ZM314.7 125.8 310.8 115.2 332.1 108.5 335 119.4ZM332.8 120 329.8 109.1 351.6 104.3 353.5 115.4ZM351.3 115.8 349.3 104.7 371.4 101.8 372.4 113Z" fill="#ffd9d9"/><path d="M389 101.4 388.9 90.1 412.4 91.2 411.3 102.4ZM409.8 91.3 410.7 80.1 435 83.3 433 94.4ZM453.7 87.8 456.6 76.9 481 84.6 477.1 95.2ZM456.5 77.3 459.4 66.4 484.7 74.4 480.8 85ZM478.3 84.1 482.1 73.4 506.7 83.6 501.8 93.8ZM503.9 82.8 508.6 72.5 533.2 85.3 527.5 95.1ZM525 93.6 530.6 83.8 554 98.7 547.4 107.9ZM530.4 84.2 536 74.4 560.3 89.8 553.7 99ZM535.8 74.7 541.4 64.9 566.5 80.9 560 90.1ZM545.1 106.3 551.5 97 573.5 113.9 566.2 122.5ZM551.3 97.3 557.7 88.1 580.5 105.6 573.2 114.2ZM557.5 88.4 563.9 79.1 587.6 97.3 580.3 105.9ZM571 112.3 578.2 103.6 599.4 123 591.4 130.9ZM577.9 103.9 585.1 95.2 607.1 115.3 599.1 123.3ZM589.3 128.8 597.2 120.8 616.6 142 607.9 149.2ZM596.9 121.1 604.9 113.1 625 135.1 616.3 142.3ZM606 147 614.6 139.7 632.1 162.5 622.9 168.9ZM614.3 139.9 622.9 132.6 641.1 156.3 631.8 162.7ZM634.5 187.2 644.3 181.5 657.6 207 647.3 211.7ZM643.9 181.7 653.7 176 667.4 202.5 657.2 207.2ZM636.2 213.7 646.4 208.9 657 234.5 646.4 238.3ZM642.2 261.1 653.1 258.1 658.8 284.1 647.7 286ZM639.5 306.9 650.7 305.8 651.8 331.4 640.5 331.3ZM640.5 328.7 651.8 328.6 650.7 354.2 639.5 353.1ZM650.6 351.4 661.8 352.3 658.3 378.7 647.2 376.7ZM653.4 399.1 664.3 401.9 656 428.3 645.4 424.4ZM547.4 552.1 554 561.3 530.6 576.2 525 566.4ZM553.7 561 560.3 570.2 536 585.6 530.4 575.8ZM560 569.9 566.5 579.1 541.4 595.1 535.8 585.3ZM522 555.5 527.7 565.3 504.1 577.6 499.4 567.3ZM527.5 564.9 533.2 574.7 508.6 587.5 503.9 577.2ZM533 574.3 538.7 584.1 513.2 597.4 508.5 587.1ZM538.5 583.7 544.2 593.5 517.7 607.2 513 597ZM501.8 566.2 506.7 576.4 482.1 586.6 478.3 575.9ZM506.5 576 511.3 586.2 485.7 596.8 481.9 586.2ZM511.1 585.9 516 596.1 489.4 607.1 485.6 596.4ZM515.8 595.7 520.6 605.9 493.1 617.3 489.3 606.7ZM477.1 564.8 481 575.4 456.6 583.1 453.7 572.2ZM480.8 575 484.7 585.6 459.4 593.6 456.5 582.7ZM484.6 585.2 488.5 595.8 462.1 604.1 459.3 593.2ZM488.4 595.4 492.3 606 464.9 614.7 462 603.7ZM492.2 605.6 496.1 616.2 467.6 625.2 464.8 614.3ZM456.3 571.5 459.2 582.4 434.3 587.9 432.4 576.8ZM459.1 582 462.1 592.9 436.1 598.6 434.2 587.5ZM462 592.5 465 603.4 437.9 609.3 436 598.2ZM433 565.6 435 576.7 410.7 579.9 409.8 568.7ZM435 576.3 437 587.4 411.6 590.8 410.7 579.5ZM436.9 587 438.9 598.1 412.5 601.6 411.6 590.4ZM411.3 557.6 412.4 568.8 388.9 569.9 389 558.6ZM412.3 568.4 413.4 579.7 388.9 580.7 388.9 569.5ZM413.3 579.3 414.4 590.5 388.8 591.6 388.9 580.3ZM391.5 569.5 391.5 580.7 367 579.7 368.1 568.4ZM391.5 580.3 391.6 591.6 366 590.5 367.1 579.3ZM391.6 591.2 391.6 602.5 365 601.4 366.1 590.1ZM368.8 590.4 367.9 601.6 341.5 598.1 343.5 587ZM367.9 601.2 367 612.4 339.5 608.8 341.5 597.7ZM367 612 366.1 623.3 337.6 619.5 339.6 608.4ZM366.1 622.9 365.2 634.1 335.6 630.3 337.7 619.1ZM344.4 598.2 342.5 609.3 315.4 603.4 318.4 592.5ZM342.5 609 340.6 620.1 312.5 613.9 315.5 603ZM340.7 619.7 338.8 630.8 309.7 624.4 312.7 613.5ZM321.1 593.2 318.3 604.1 291.9 595.8 295.8 585.2ZM318.4 603.7 315.5 614.7 288.1 606 292 595.4ZM315.6 614.3 312.8 625.2 284.3 616.2 288.2 605.6ZM294.8 596.4 291 607.1 264.4 596.1 269.3 585.9ZM291.1 606.7 287.3 617.3 259.8 605.9 264.6 595.7ZM111.8 380.6 100.7 382.6 96.9 354.1 108.2 353.2ZM101.1 382.5 89.9 384.6 86.1 355 97.3 354.1ZM119.2 355.1 108 356.2 106.8 328.5 118.1 328.6ZM118.1 331.4 106.8 331.5 108 303.8 119.2 304.9ZM119 307.7 107.8 306.8 111.4 279.3 122.5 281.3ZM108.2 306.8 96.9 305.9 100.7 277.4 111.8 279.4ZM97.3 305.9 86.1 305 89.9 275.4 101.1 277.5ZM111.2 282.3 100.1 280.4 106.3 252.3 117.2 255.3ZM100.5 280.5 89.4 278.6 95.8 249.5 106.7 252.5ZM116.5 258.2 105.5 255.3 114.2 227.9 124.8 231.8ZM105.9 255.4 95 252.6 104 224.1 114.6 228ZM172.5 149.2 163.8 142 183.2 120.8 191.1 128.8ZM164.1 142.3 155.4 135.1 175.5 113.1 183.5 121.1ZM204.5 146.3 196.5 138.3 216.1 120.3 223.3 129ZM196.8 138.6 188.8 130.7 209.2 112 216.4 120.6ZM189 130.9 181 123 202.2 103.6 209.4 112.3ZM181.3 123.3 173.3 115.3 195.3 95.2 202.5 103.9ZM228.3 139.1 221 130.5 241.3 114.9 247.7 124.2ZM221.2 130.8 213.9 122.2 235.1 106 241.5 115.2ZM214.2 122.5 206.9 113.9 228.9 97 235.3 106.3ZM207.2 114.2 199.9 105.6 222.7 88.1 229.1 97.3ZM200.1 105.9 192.8 97.3 216.5 79.1 222.9 88.4ZM269.4 123.2 263.7 113.5 285.4 102.2 290.1 112.4ZM287.9 113.5 283 103.3 305.7 93.9 309.5 104.6ZM329.9 109.5 326.9 98.6 349.8 93.6 351.7 104.7ZM349.3 105.1 347.3 94 370.5 90.9 371.5 102.2ZM369.1 102.4 368 91.2 391.5 90.1 391.4 101.4Z" fill="#ffbfbf"/><path d="M388.9 90.5 388.9 79.3 413.4 80.3 412.3 91.6ZM432.4 83.2 434.3 72.1 459.2 77.6 456.3 88.5ZM434.2 72.5 436.1 61.4 462.1 67.1 459.1 78ZM436 61.8 437.9 50.7 465 56.6 462 67.5ZM459.3 66.8 462.1 55.9 488.5 64.2 484.6 74.8ZM462 56.3 464.9 45.3 492.3 54 488.4 64.6ZM464.8 45.7 467.6 34.8 496.1 43.8 492.2 54.4ZM481.9 73.8 485.7 63.2 511.3 73.8 506.5 84ZM485.6 63.6 489.4 52.9 516 63.9 511.1 74.1ZM489.3 53.3 493.1 42.7 520.6 54.1 515.8 64.3ZM508.5 72.9 513.2 62.6 538.7 75.9 533 85.7ZM513 63 517.7 52.8 544.2 66.5 538.5 76.3ZM646.1 209.1 656.3 204.2 667.3 230.8 656.6 234.6ZM655.9 204.4 666.1 199.6 677.5 227.1 666.9 230.9ZM645.4 235.6 656 231.7 664.3 258.1 653.4 260.9ZM655.6 231.8 666.2 227.9 674.9 255.3 663.9 258.2ZM665.8 228 676.4 224.1 685.4 252.6 674.5 255.4ZM652.7 258.2 663.6 255.2 669.5 282.3 658.4 284.2ZM647.2 283.3 658.3 281.3 661.8 307.7 650.6 308.6ZM650.3 305.9 661.6 304.8 662.7 331.4 651.4 331.4ZM651.4 328.6 662.7 328.6 661.6 355.2 650.3 354.1ZM658.4 375.8 669.5 377.7 663.6 404.8 652.7 401.8ZM669.2 377.7 680.3 379.6 674.1 407.7 663.2 404.7ZM679.9 379.5 691 381.4 684.6 410.5 673.7 407.5ZM663.9 401.8 674.9 404.7 666.2 432.1 655.6 428.2ZM674.5 404.6 685.4 407.4 676.4 435.9 665.8 432ZM464.9 603 467.9 613.9 439.8 620.1 437.9 609ZM467.7 613.5 470.7 624.4 441.6 630.8 439.7 619.7ZM438.9 597.7 440.9 608.8 413.4 612.4 412.5 601.2ZM440.8 608.4 442.8 619.5 414.3 623.3 413.4 612ZM442.7 619.1 444.8 630.3 415.2 634.1 414.3 622.9ZM414.3 590.1 415.4 601.4 388.8 602.5 388.8 591.2ZM415.3 601 416.4 612.2 388.7 613.4 388.8 602.1ZM416.3 611.8 417.4 623 388.7 624.3 388.7 613ZM417.3 622.6 418.4 633.9 388.6 635.2 388.7 623.9ZM391.6 602.1 391.7 613.4 364 612.2 365.1 601ZM391.7 613 391.7 624.3 363 623 364.1 611.8ZM391.7 623.9 391.8 635.2 362 633.9 363.1 622.6ZM108.4 356.1 97.2 357.2 95.9 328.5 107.2 328.5ZM97.6 357.1 86.3 358.2 85 328.4 96.3 328.5ZM107.2 331.5 95.9 331.5 97.2 302.8 108.4 303.9ZM96.3 331.5 85 331.6 86.3 301.8 97.6 302.9ZM245.5 125.7 239 116.5 260.6 102.7 266.2 112.5ZM239.2 116.8 232.7 107.6 255.2 93.3 260.8 103.1ZM233 107.9 226.4 98.7 249.8 83.8 255.4 93.6ZM226.7 99 220.1 89.8 244.4 74.4 250 84.2ZM220.4 90.1 213.9 80.9 239 64.9 244.6 74.7ZM263.9 113.9 258.2 104.1 280.9 92.3 285.6 102.6ZM258.4 104.5 252.7 94.7 276.3 82.4 281 92.7ZM252.9 95.1 247.2 85.3 271.8 72.5 276.5 82.8ZM247.4 85.7 241.7 75.9 267.2 62.6 271.9 72.9ZM241.9 76.3 236.2 66.5 262.7 52.8 267.4 63ZM283.2 103.7 278.4 93.5 302 83.7 305.8 94.3ZM278.6 93.8 273.7 83.6 298.3 73.4 302.1 84.1ZM273.9 84 269.1 73.8 294.7 63.2 298.5 73.8ZM269.3 74.1 264.4 63.9 291 52.9 294.8 63.6ZM264.6 64.3 259.8 54.1 287.3 42.7 291.1 53.3ZM307.1 105.4 303.2 94.8 326.6 87.5 329.4 98.4ZM292 64.6 288.1 54 315.5 45.3 318.4 56.3ZM288.2 54.4 284.3 43.8 312.8 34.8 315.6 45.7ZM327 99 324 88.1 348 82.8 349.9 94ZM347.4 94.4 345.4 83.3 369.7 80.1 370.6 91.3Z" fill="#ffb2b2"/><path d="M388.9 79.7 388.8 68.4 414.4 69.5 413.3 80.7ZM388.8 68.8 388.8 57.5 415.4 58.6 414.3 69.9ZM388.8 57.9 388.7 46.6 416.4 47.8 415.3 59ZM388.7 47 388.7 35.7 417.4 37 416.3 48.2ZM388.7 36.1 388.6 24.8 418.4 26.1 417.3 37.4ZM410.7 80.5 411.6 69.2 437 72.6 435 83.7ZM411.6 69.6 412.5 58.4 438.9 61.9 436.9 73ZM412.5 58.8 413.4 47.6 440.9 51.2 438.9 62.3ZM413.4 48 414.3 36.7 442.8 40.5 440.8 51.6ZM414.3 37.1 415.2 25.9 444.8 29.7 442.7 40.9ZM437.9 51 439.8 39.9 467.9 46.1 464.9 57ZM439.7 40.3 441.6 29.2 470.7 35.6 467.7 46.5ZM663.2 255.3 674.1 252.3 680.3 280.4 669.2 282.3ZM673.7 252.5 684.6 249.5 691 278.6 679.9 280.5ZM657.9 281.3 669 279.3 672.6 306.8 661.4 307.7ZM661.4 352.3 672.6 353.2 669 380.7 657.9 378.7ZM303.3 95.2 299.4 84.6 323.8 76.9 326.7 87.8ZM299.6 85 295.7 74.4 321 66.4 323.9 77.3ZM295.8 74.8 291.9 64.2 318.3 55.9 321.1 66.8ZM324.1 88.5 321.2 77.6 346.1 72.1 348 83.2ZM321.3 78 318.3 67.1 344.3 61.4 346.2 72.5ZM318.4 67.5 315.4 56.6 342.5 50.7 344.4 61.8ZM315.5 57 312.5 46.1 340.6 39.9 342.5 51ZM312.7 46.5 309.7 35.6 338.8 29.2 340.7 40.3ZM345.4 83.7 343.4 72.6 368.8 69.2 369.7 80.5ZM343.5 73 341.5 61.9 367.9 58.4 368.8 69.6ZM341.5 62.3 339.5 51.2 367 47.6 367.9 58.8ZM339.6 51.6 337.6 40.5 366.1 36.7 367 48ZM337.7 40.9 335.6 29.7 365.2 25.9 366.1 37.1ZM368.1 91.6 367 80.3 391.5 79.3 391.5 90.5ZM365.1 59 364 47.8 391.7 46.6 391.6 57.9ZM364.1 48.2 363 37 391.7 35.7 391.7 47ZM363.1 37.4 362 26.1 391.8 24.8 391.7 36.1Z" fill="#ffa6a6"/><path d="M397.3 243.2 398.3 232 407.8 233.2 405.8 244.3ZM404.9 244.2 406.8 233 416.2 235.1 413.2 246ZM438.7 244.9 444.3 235.1 453.3 240.8 446.8 250ZM459.7 246.3 466.9 237.6 475.6 245.5 467.6 253.4ZM487.9 260.8 497.1 254.3 504 265.1 494.2 270.7ZM493.6 269.6 503.3 263.9 509.2 275.3 499 280ZM482.3 406.5 491 413.7 482.4 423.1 474.4 415.1ZM475.3 414.2 483.3 422.2 473.9 430.8 466.7 422.1ZM467.6 421.3 474.9 429.9 464.8 437.7 458.4 428.4ZM459.4 427.7 465.9 436.9 455.1 443.8 449.5 434ZM428 432.1 431.9 442.7 420.7 446.2 417.8 435.3ZM407.7 426.4 409.7 437.5 399.2 438.9 398.2 427.6ZM398.2 416.7 399.3 427.9 389.7 428.4 389.7 417.1ZM390.7 417.1 390.7 428.4 381.1 427.9 382.2 416.7ZM373.7 426.6 371.8 437.7 361.4 435.4 364.4 424.5ZM365.3 424.8 362.5 435.7 352.3 432.5 356.2 421.9ZM353.5 432.5 349.7 443.1 338.9 438.6 343.7 428.4ZM340.2 438.8 335.5 449 324.1 443.1 329.8 433.4ZM330.9 434 325.3 443.8 314.5 436.9 321 427.7ZM315.8 437.4 309.4 446.7 298.4 438.2 305.7 429.6ZM306.8 430.5 299.6 439.2 289.3 429.8 297.4 421.9ZM290.7 430.6 282.7 438.6 272.6 427.6 281.3 420.4ZM282.3 421.5 273.7 428.8 264.6 417 273.9 410.6ZM265.8 418.1 256.6 424.6 248 411.1 257.8 405.5ZM258.6 406.9 248.9 412.6 241.5 398.4 251.8 393.7ZM262.3 390.5 252.1 395.3 246.4 381.5 257 377.7ZM252.4 395.1 242.2 399.9 236.1 385.2 246.7 381.4ZM257.5 379.1 246.9 383 242.4 368.8 253.3 365.9ZM253.7 367.3 242.8 370.3 239.6 355.7 250.7 353.8ZM261.7 353.4 250.6 355.4 248.8 341.6 260 340.7ZM260.1 342.1 248.9 343.1 248.3 329.3 259.6 329.3ZM270.5 330.6 259.2 330.7 259.7 317.9 271 318.9ZM314.3 323.8 303 322.8 304.1 314.4 315.2 316.4ZM303.4 322.9 292.2 321.9 293.4 312.4 304.5 314.4ZM292.6 322 281.3 321 282.7 310.5 293.8 312.5ZM281.7 321.1 270.5 320.2 272 308.5 283.1 310.5ZM325.8 319 314.7 317.1 316.3 309.8 327.2 312.8ZM337.6 316.2 326.6 313.3 328.6 307.2 339.2 311.1ZM349.2 315.3 338.6 311.5 340.6 306.6 350.8 311.4ZM350.6 311.8 340.4 307.1 342.9 302.3 352.6 308ZM352.4 308.4 342.6 302.8 345.5 298.3 354.7 304.8ZM354.4 305.2 345.1 298.8 348.4 294.5 357 301.8ZM356.7 302.2 348 295 351.6 291 359.6 299.1ZM355 288.5 347.7 279.9 352.8 276 359.2 285.3ZM358.8 285.6 352.2 276.4 357.6 272.9 363.2 282.7ZM362.3 271 357.5 260.8 364.4 257.9 368.2 268.5ZM363.8 258.5 359.9 248 368 245.4 370.9 256.3Z" fill="#4040ff"/><path d="M398.2 232.4 399.2 221.1 409.7 222.5 407.7 233.6ZM505 213.9 513 205.9 524.5 218.5 515.8 225.7ZM498.1 238.5 506.7 231.2 515.8 243 506.5 249.4ZM506.4 231.4 515 224.1 524.8 236.8 515.5 243.3ZM514.7 224.4 523.3 217.1 533.7 230.6 524.4 237.1ZM523 217.4 531.6 210.1 542.7 224.4 533.4 230.9ZM532.3 229.4 541.5 222.8 551.3 238.1 541.5 243.7ZM541.2 223.1 550.4 216.6 560.7 232.7 550.9 238.3ZM540.6 242.1 550.3 236.4 558.7 252.5 548.4 257.2ZM550 236.6 559.7 230.9 568.6 248 558.3 252.7ZM547.6 255.6 557.9 250.8 564.8 267.5 554.2 271.3ZM553.5 269.6 564.1 265.7 569.6 282.9 558.7 285.8ZM558.2 284 569.1 281.1 573 298.8 561.9 300.7ZM561.5 298.9 572.7 296.8 575 314.8 563.8 315.7ZM563.6 313.9 574.8 312.9 575.6 331 564.4 330.9ZM569.2 377 580.1 379.8 574.3 398.1 563.7 394.2ZM564.4 392.4 575 396.2 567.7 413.9 557.5 409.1ZM558.3 407.3 568.6 412 559.7 429.1 550 423.4ZM550.9 421.7 560.7 427.3 550.4 443.4 541.2 436.9ZM533.4 429.1 542.7 435.6 531.6 449.9 523 442.6ZM506.3 444.8 514.3 452.8 501.7 464.3 494.5 455.6ZM478.3 454.4 484.8 463.6 471.3 472.2 465.7 462.4ZM467.1 461.6 472.8 471.3 458.6 478.7 453.9 468.4ZM455.3 467.8 460.1 478 445.4 484.1 441.6 473.5ZM403.3 470.9 404.3 482.1 389.4 482.8 389.5 471.5ZM390.9 471.5 391 482.8 376.1 482.1 377.1 470.9ZM377.7 481.9 376.8 493.1 360.9 491 363 479.9ZM348.8 487.9 345.9 498.8 329.6 493.7 333.6 483.1ZM331.5 494 327.7 504.6 311 497.7 315.8 487.4ZM312.9 498.1 308.2 508.4 291.1 499.5 296.8 489.8ZM278.7 491.1 272.2 500.4 256.2 488 263.5 479.4ZM244.7 477 236.8 485 222.4 469.3 231.1 462.1ZM232.5 463.8 223.9 471.1 210.9 454.2 220.2 447.7ZM203.2 418.4 193 423.2 184.9 403.5 195.5 399.7ZM196.2 401.7 185.7 405.7 179.2 385.3 190.2 382.5ZM197.4 365 186.3 367 183.7 347 194.9 346.1ZM206 347.1 194.7 348.1 193.9 329 205.2 329ZM205.2 331 193.9 331 194.7 311.9 206 312.9ZM216.6 315.7 205.4 314.8 207.7 296.8 218.9 298.9ZM229.3 302.5 218.1 300.6 221.8 283.9 232.7 286.9ZM242.8 291.3 231.9 288.5 236.7 273.2 247.3 277.1ZM257 282.3 246.4 278.5 252.1 264.7 262.3 269.5ZM271.5 275.4 261.3 270.7 267.7 258.4 277.4 264.1ZM276.7 265.3 266.9 259.7 274.4 248 283.6 254.5ZM282.8 255.6 273.5 249.2 282 238.2 290.6 245.5ZM289.7 246.6 281 239.4 290.4 229.1 298.3 237.2ZM297.4 238.1 289.3 230.2 299.6 220.8 306.8 229.5ZM305.7 230.4 298.4 221.8 309.4 213.3 315.8 222.6ZM314.7 223.4 308.2 214.2 319.9 206.7 325.5 216.5ZM308.4 214.5 301.9 205.3 314.5 197.3 320.1 207.1ZM335.3 236 329.6 226.3 340 220.9 344.7 231.1ZM329.8 226.6 324.1 216.9 335.5 211 340.2 221.2ZM324.3 217.2 318.6 207.5 330.9 201.1 335.6 211.3ZM356.2 238.1 352.3 227.5 362.5 224.3 365.3 235.2ZM364.4 235.5 361.4 224.6 371.8 222.3 373.7 233.4Z" fill="#9999ff"/><path d="M403.6 167.3 404.5 156 421.4 158.3 419.4 169.4ZM408.5 222.7 410.4 211.6 421.9 214.1 418.9 225ZM410.4 212 412.3 200.9 424.8 203.6 421.8 214.5ZM415.9 179.8 417.8 168.7 433.4 172.1 430.4 183ZM417.7 169.1 419.6 157.9 436.3 161.6 433.3 172.5ZM419.5 158.3 421.4 147.2 439.1 151.1 436.2 162ZM428.9 182.6 431.7 171.7 447 176.5 443.1 187.1ZM437.2 151 440 140.1 458.3 145.9 454.4 156.5ZM434.2 207 438 196.4 450.8 201.7 446 211.9ZM441.6 186.5 445.4 175.9 460.1 182 455.3 192.2ZM456.2 145.5 460 134.9 478.8 142.7 473.9 152.9ZM444.8 211.3 449.5 201.1 461.8 207.5 456.1 217.2ZM476.6 142.1 481.3 131.9 500.2 141.7 494.5 151.4ZM460.3 207.1 465.9 197.3 478.5 205.3 472 214.5ZM492.7 150.4 498.3 140.6 516.2 152 509.7 161.2ZM507.9 160 514.4 150.7 531.3 163.7 524 172.3ZM522.3 170.9 529.5 162.2 545.2 176.6 537.2 184.5ZM577.2 241.6 587.4 236.8 595.5 256.5 584.9 260.3ZM584.2 258.3 594.7 254.3 601.2 274.7 590.2 277.5ZM589.7 275.4 600.6 272.5 605.2 293.3 594.1 295.2ZM594.1 364.8 605.2 366.7 600.6 387.5 589.7 384.6ZM590.2 382.5 601.2 385.3 594.7 405.7 584.2 401.7ZM584.9 399.7 595.5 403.5 587.4 423.2 577.2 418.4ZM560.2 447.7 569.5 454.2 556.5 471.1 547.9 463.8ZM540.9 455.1 549.6 462.4 535.9 477.3 528 469.3ZM509.9 471.1 517.2 479.7 502 491.4 495.5 482.1ZM478.1 480.4 483.8 490.1 467.7 498.5 463 488.2ZM464.6 487.4 469.4 497.7 452.7 504.6 448.9 494ZM405.3 492.6 406.3 503.8 389.3 504.6 389.3 493.3ZM375.9 503.6 375 514.8 357 512.5 359.1 501.3ZM303.8 517.9 299.1 528.1 280.2 518.3 285.9 508.6ZM266.3 509 259.8 518.3 242.1 504.6 249.4 496ZM229.4 492.5 221.5 500.5 205.7 483.2 214.3 476ZM215.9 477.8 207.3 485.1 193 466.5 202.3 460.1ZM175.8 409.3 165.2 413.2 158.2 390.9 169.1 388ZM176 368.9 164.9 370.9 162 348.8 173.2 347.8ZM173.4 350.1 162.2 351.2 161.2 328.8 172.5 328.9ZM184.1 313.1 172.8 312.1 175.6 291 186.7 293ZM197.1 297 186 295.1 190.3 275.3 201.2 278.3ZM200.7 280.3 189.8 277.4 195.9 258.1 206.4 262ZM216 267.6 205.4 263.8 212.7 246.1 222.9 250.9ZM232 257.2 221.7 252.5 230.1 236.4 239.8 242.1ZM248.4 249.1 238.6 243.5 247.7 229.1 256.9 235.7ZM247 230.9 237.7 224.4 248.8 210.1 257.4 217.4ZM256.2 218.8 247.5 211.5 259.8 198.2 267.7 206.2ZM266.4 207.5 258.4 199.6 271.7 187.3 279 196ZM277.6 197.2 270.3 188.6 284.6 177.5 291.1 186.8ZM289.6 187.9 283 178.7 298.3 168.9 303.9 178.7ZM302.3 179.6 296.6 169.9 312.7 161.5 317.4 171.8ZM315.8 172.6 311 162.3 327.7 155.4 331.5 166ZM329.8 166.7 325.9 156.1 343.1 150.6 346 161.5ZM358.6 214.5 355.6 203.6 368.1 200.9 370 212ZM347.1 172.5 344.1 161.6 360.8 157.9 362.7 169.1ZM366.8 201.5 364.8 190.4 378.6 188.6 379.5 199.8ZM364.9 190.8 362.9 179.7 377.7 177.7 378.6 189ZM363 180.1 360.9 169 376.8 166.9 377.7 178.1ZM361 169.4 359 158.3 375.9 156 376.8 167.3Z" fill="#ccccff"/><path d="M408 113 409 101.8 431.1 104.7 429.1 115.8ZM448.2 108.9 451.1 98 473.4 105 469.5 115.6ZM470.9 104.6 474.7 93.9 497.4 103.3 492.5 113.5ZM514.2 112.5 519.8 102.7 541.4 116.5 534.9 125.7ZM532.7 124.2 539.1 114.9 559.4 130.5 552.1 139.1ZM550.1 137.4 557.3 128.7 576.2 146 568.1 153.9ZM566.3 152.1 574.2 144 591.5 162.9 582.8 170.1ZM616.5 223 626.7 218.2 636.5 241.8 625.9 245.6ZM621.2 266.8 632.1 263.8 637.4 287.8 626.2 289.7ZM625.8 287.2 636.9 285.2 640.1 309.5 628.9 310.4ZM628.9 349.6 640.1 350.5 636.9 374.8 625.8 372.8ZM626.2 370.3 637.4 372.2 632.1 396.2 621.2 393.2ZM632.4 393.5 643.3 396.4 635.6 420.8 625 416.9ZM627.5 439.2 637.8 443.9 625.5 467.5 615.7 461.8ZM617.1 459.4 626.9 465 612.6 487.5 603.4 481ZM605 478.7 614.2 485.1 598 506.3 589.4 499ZM582.8 489.9 591.5 497.1 574.2 516 566.3 507.9ZM560.4 498.4 568.4 506.4 550.4 522.9 543.2 514.2ZM568.1 506.1 576.2 514 557.3 531.3 550.1 522.6ZM538 504.3 545.3 512.9 526.7 527.2 520.3 517.9ZM545.1 512.6 552.4 521.2 532.9 536.1 526.5 526.9ZM516 507.7 522.5 516.9 503.6 528.9 498.1 519.1ZM522.3 516.6 528.8 525.8 509 538.4 503.5 528.5ZM500 518 505.7 527.7 485.9 538 481.2 527.8ZM461.9 524 465.9 534.5 445.5 541 442.7 530ZM444.8 529.5 447.7 540.4 426.9 545 425 533.9ZM427.2 533.5 429.2 544.6 408.1 547.4 407.1 536.1ZM408.3 525.1 409.3 536.3 389.1 537.2 389.2 525.9ZM391.3 536.8 391.3 548.1 370.1 547.2 371.1 535.9ZM372.4 547 371.4 558.2 349.3 555.3 351.3 544.2ZM351.7 555.3 349.8 566.4 326.9 561.4 329.9 550.5ZM329.4 561.6 326.6 572.5 303.2 565.2 307.1 554.6ZM309.5 555.4 305.7 566.1 283 556.7 287.9 546.5ZM285.6 557.4 280.9 567.7 258.2 555.9 263.9 546.1ZM260.8 556.9 255.2 566.7 232.7 552.4 239.2 543.2ZM241.5 544.8 235.1 554 213.9 537.8 221.2 529.2ZM198.8 523.4 190.9 531.4 172.2 511 180.8 503.8ZM182.7 506 174.1 513.3 157.2 491.3 166.5 484.9ZM174.4 513 165.8 520.3 148.3 497.5 157.5 491.1ZM166.1 520.1 157.5 527.4 139.3 503.7 148.6 497.3ZM159.2 493.5 150 500.1 134.6 475.8 144.4 470.2ZM150.3 499.8 141.1 506.3 125.1 481.2 134.9 475.6ZM155.3 467.3 145.5 473 132.7 448.4 143 443.7ZM145.9 472.8 136.1 478.5 122.8 453 133.1 448.3ZM136.5 478.3 126.7 484 113 457.5 123.2 452.8ZM144.2 446.3 134 451.1 123.4 425.5 134 421.7ZM138.2 398.9 127.3 401.9 121.6 375.9 132.7 374ZM139.9 331.3 128.6 331.4 129.7 305.8 140.9 306.9ZM140.7 309.5 129.4 308.6 132.8 283.2 143.9 285.2ZM143.4 287.8 132.3 285.9 137.8 261 148.7 263.9ZM148 266.5 137.1 263.6 144.8 239.2 155.4 243.1ZM154.5 245.6 143.9 241.8 153.7 218.2 163.9 223ZM162.8 225.4 152.5 220.7 164.3 198 174.1 203.7ZM182.2 211.4 172.4 205.8 185.6 185.1 194.8 191.6ZM172.7 206 162.9 200.4 176.7 178.8 185.9 185.3ZM193.3 193.7 184.1 187.3 199 167.8 207.6 175.1ZM214.3 184 205.7 176.8 221.5 159.5 229.4 167.5ZM227.7 169.2 219.7 161.3 237 145.5 244.2 154.1ZM264.4 152.3 257.9 143.1 276.8 131.1 282.3 140.9ZM280.4 142 274.7 132.3 294.5 122 299.2 132.2ZM297.2 133.2 292.3 123 313 114.4 316.8 125ZM371.1 124.1 370.1 112.8 391.3 111.9 391.3 123.2Z" fill="#ffe6e6"/><path d="M408.9 102.2 409.9 90.9 433.1 94 431.1 105.1ZM430.5 94 432.4 82.8 456.4 88.1 453.4 99ZM474.6 94.3 478.4 83.7 502 93.5 497.2 103.7ZM499.4 92.7 504.1 82.4 527.7 94.7 522 104.5ZM564 120.6 571.2 112 591.6 130.7 583.6 138.6ZM581.6 136.6 589.5 128.6 608.2 149 599.6 156.2ZM597.7 154 606.3 146.7 623.2 168.7 613.9 175.1ZM612.3 172.8 621.5 166.2 636.4 189.6 626.6 195.2ZM621.2 166.5 630.4 159.9 645.8 184.2 636 189.8ZM630.1 160.2 639.3 153.7 655.3 178.8 645.5 184.4ZM625.1 192.7 634.9 187 647.7 211.6 637.4 216.3ZM626.4 218.4 636.6 213.5 646.8 238.1 636.1 241.9ZM635.2 239.4 645.8 235.5 653.8 260.8 642.9 263.7ZM636.5 285.2 647.6 283.2 651 308.6 639.7 309.5ZM639.7 350.5 651 351.4 647.6 376.8 636.5 374.8ZM647.7 374 658.8 375.9 653.1 401.9 642.2 398.9ZM642.9 396.3 653.8 399.2 645.8 424.5 635.2 420.6ZM646.4 421.7 657 425.5 646.4 451.1 636.2 446.3ZM656.6 425.4 667.3 429.2 656.3 455.8 646.1 450.9ZM666.9 429.1 677.5 432.9 666.1 460.4 655.9 455.6ZM647.3 448.3 657.6 453 644.3 478.5 634.5 472.8ZM657.2 452.8 667.4 457.5 653.7 484 643.9 478.3ZM622.9 491.1 632.1 497.5 614.6 520.3 606 513ZM631.8 497.3 641.1 503.7 622.9 527.4 614.3 520.1ZM607.9 510.8 616.6 518 597.2 539.2 589.3 531.2ZM616.3 517.7 625 524.9 604.9 546.9 596.9 538.9ZM583.6 521.4 591.6 529.3 571.2 548 564 539.4ZM591.4 529.1 599.4 537 578.2 556.4 571 547.7ZM599.1 536.7 607.1 544.7 585.1 564.8 577.9 556.1ZM559.2 529.2 566.5 537.8 545.3 554 538.9 544.8ZM566.2 537.5 573.5 546.1 551.5 563 545.1 553.7ZM573.2 545.8 580.5 554.4 557.7 571.9 551.3 562.7ZM580.3 554.1 587.6 562.7 563.9 580.9 557.5 571.6ZM534.9 534.3 541.4 543.5 519.8 557.3 514.2 547.5ZM541.2 543.2 547.7 552.4 525.2 566.7 519.6 556.9ZM511 536.8 516.7 546.5 495 557.8 490.3 547.6ZM516.5 546.1 522.2 555.9 499.5 567.7 494.8 557.4ZM492.5 546.5 497.4 556.7 474.7 566.1 470.9 555.4ZM497.2 556.3 502 566.5 478.4 576.3 474.6 565.7ZM469.5 544.4 473.4 555 451.1 562 448.2 551.1ZM473.3 554.6 477.2 565.2 453.8 572.5 451 561.6ZM450.5 550.5 453.5 561.4 430.6 566.4 428.7 555.3ZM453.4 561 456.4 571.9 432.4 577.2 430.5 566ZM429.1 544.2 431.1 555.3 409 558.2 408 547ZM431.1 554.9 433.1 566 409.9 569.1 408.9 557.8ZM410.3 546.8 411.4 558 389 559 389.1 547.7ZM391.3 547.7 391.4 559 369 558 370.1 546.8ZM391.4 558.6 391.5 569.9 368 568.8 369.1 557.6ZM370.6 568.7 369.7 579.9 345.4 576.7 347.4 565.6ZM369.7 579.5 368.8 590.8 343.4 587.4 345.4 576.3ZM348 576.8 346.1 587.9 321.2 582.4 324.1 571.5ZM346.2 587.5 344.3 598.6 318.3 592.9 321.3 582ZM323.9 582.7 321 593.6 295.7 585.6 299.6 575ZM298.5 586.2 294.7 596.8 269.1 586.2 273.9 576ZM276.5 577.2 271.8 587.5 247.2 574.7 252.9 564.9ZM271.9 587.1 267.2 597.4 241.7 584.1 247.4 574.3ZM267.4 597 262.7 607.2 236.2 593.5 241.9 583.7ZM250 575.8 244.4 585.6 220.1 570.2 226.7 561ZM244.6 585.3 239 595.1 213.9 579.1 220.4 569.9ZM229.1 562.7 222.7 571.9 199.9 554.4 207.2 545.8ZM222.9 571.6 216.5 580.9 192.8 562.7 200.1 554.1ZM124.8 428.2 114.2 432.1 105.5 404.7 116.5 401.8ZM114.6 432 104 435.9 95 407.4 105.9 404.6ZM127.7 401.8 116.8 404.8 110.9 377.7 122 375.8ZM117.2 404.7 106.3 407.7 100.1 379.6 111.2 377.7ZM106.7 407.5 95.8 410.5 89.4 381.4 100.5 379.5ZM122.5 378.7 111.4 380.7 107.8 353.2 119 352.3ZM122 284.2 110.9 282.3 116.8 255.2 127.7 258.2ZM127 260.9 116.1 258.1 124.4 231.7 135 235.6ZM134 238.3 123.4 234.5 134 208.9 144.2 213.7ZM123.8 234.6 113.1 230.8 124.1 204.2 134.3 209.1ZM113.5 230.9 102.9 227.1 114.3 199.6 124.5 204.4ZM133.1 211.7 122.8 207 136.1 181.5 145.9 187.2ZM123.2 207.2 113 202.5 126.7 176 136.5 181.7ZM153.8 195.2 144 189.6 158.9 166.2 168.1 172.8ZM144.4 189.8 134.6 184.2 150 159.9 159.2 166.5ZM134.9 184.4 125.1 178.8 141.1 153.7 150.3 160.2ZM175.4 181.3 166.2 174.9 182.4 153.7 191 161ZM166.5 175.1 157.2 168.7 174.1 146.7 182.7 154ZM157.5 168.9 148.3 162.5 165.8 139.7 174.4 147ZM148.6 162.7 139.3 156.3 157.5 132.6 166.1 139.9ZM197.6 170.1 188.9 162.9 206.2 144 214.1 152.1ZM189.2 163.1 180.5 155.9 198.5 136.3 206.5 144.3ZM180.8 156.2 172.2 149 190.9 128.6 198.8 136.6ZM212.3 153.9 204.2 146 223.1 128.7 230.3 137.4ZM235.3 147.4 228 138.8 247.5 123.9 253.9 133.1ZM251.8 134.6 245.3 125.4 266 112.2 271.6 122ZM274.9 132.6 269.2 122.9 290 112.1 294.7 122.3ZM292.5 123.3 287.7 113.1 309.3 104.2 313.1 114.8ZM310.9 115.6 307 105 329.3 98 332.2 108.9ZM370.1 113.2 369 102 391.4 101 391.3 112.3Z" fill="#ffcccc"/><path d="M406.7 233.4 408.6 222.3 419 224.6 416 235.5ZM458.4 231.6 464.8 222.3 474.9 230.1 467.6 238.7ZM489.8 245.5 498.4 238.2 506.9 249.2 497.6 255.6ZM512.4 258.6 522.1 252.9 529 266.2 518.8 270.9ZM521.8 253.1 531.5 247.4 538.9 261.6 528.6 266.3ZM518.1 269.5 528.3 264.7 534 278.5 523.4 282.3ZM528 264.9 538.2 260.1 544.3 274.8 533.7 278.6ZM533.1 277.1 543.7 273.2 548.5 288.5 537.6 291.3ZM537.2 289.8 548.1 286.8 551.5 302.4 540.4 304.3ZM547.7 286.9 558.6 283.9 562.3 300.6 551.1 302.5ZM550.8 300.8 561.9 298.8 564.2 315.7 552.9 316.6ZM552.8 314.9 564 313.9 564.8 330.9 553.5 330.9ZM553.5 329.1 564.8 329.1 564 346.1 552.8 345.1ZM552.9 343.4 564.2 344.3 561.9 361.2 550.8 359.2ZM551.1 357.5 562.3 359.4 558.6 376.1 547.7 373.1ZM548.1 371.4 559 374.3 553.9 390.6 543.3 386.6ZM543.9 385 554.5 388.8 548 404.6 537.8 399.8ZM538.5 398.2 548.8 402.9 540.9 418.1 531.2 412.4ZM532 410.9 541.8 416.5 532.7 430.9 523.5 424.3ZM515.5 416.7 524.8 423.2 515 435.9 506.4 428.6ZM507.4 427.3 516.1 434.5 505.3 446.3 497.4 438.3ZM481.7 437.9 489 446.5 477.2 455.6 470.8 446.3ZM472 445.5 478.5 454.7 465.9 462.7 460.3 452.9ZM461.6 452.2 467.3 461.9 454 468.8 449.3 458.6ZM450.7 457.9 455.5 468.1 441.7 473.8 437.9 463.2ZM413.6 458.5 415.6 469.6 401.8 471.4 400.9 460.2ZM402.3 460.1 403.3 471.3 389.5 471.9 389.5 460.6ZM390.9 460.6 390.9 471.9 377.1 471.3 378.1 460.1ZM366.4 469.5 364.5 480.6 349.9 477.4 352.9 466.5ZM351.5 477.4 348.7 488.3 333.4 483.5 337.3 472.9ZM303.9 481.3 298.3 491.1 283 481.3 289.6 472.1ZM272 472.4 264.8 481.1 250.7 468.1 258.7 460.2ZM240.8 456.7 232.2 464 219.8 448 229.1 441.5ZM213.1 413.7 202.9 418.6 195.1 399.8 205.7 396ZM211.7 378.8 200.8 381.8 196.7 363.1 207.8 361.2ZM216.8 346.1 205.6 347.1 204.8 329 216 329.1ZM291.3 284.5 281.1 279.8 286.5 269.4 296.2 275.1ZM305.1 281.5 295.3 275.9 301 266.9 310.2 273.4ZM295.7 276.1 285.9 270.5 292.2 260.6 301.4 267.1ZM309.7 274.2 300.4 267.8 306.9 259.3 315.5 266.6ZM300.7 268 291.4 261.6 298.6 252.3 307.2 259.6ZM314.8 267.4 306.1 260.2 313.4 252.3 321.3 260.4ZM306.5 260.5 297.8 253.3 305.7 244.6 313.6 252.6ZM320.6 261.1 312.5 253.2 320.4 245.9 327.6 254.6ZM326.8 255.3 319.5 246.7 328 240.2 334.4 249.5ZM333.6 250 327.1 240.8 336.1 235.1 341.7 244.9ZM340.8 245.4 335.1 235.7 344.5 230.7 349.3 241Z" fill="#8080ff"/><path d="M412.3 245.8 415.2 234.9 424.3 237.7 420.4 248.3ZM446 249.5 452.4 240.2 460.9 246.7 453.6 255.3ZM466.8 252.6 474.7 244.6 482.6 253.3 473.9 260.5ZM498.4 278.8 508.6 274 513.5 285.8 502.9 289.6ZM502.5 288.5 513.1 284.5 516.9 296.8 506 299.6ZM505.7 298.4 516.6 295.4 519.3 307.9 508.2 309.8ZM508 308.6 519.1 306.6 520.8 319.3 509.5 320.2ZM508.2 350.2 519.3 352.1 516.6 364.6 505.7 361.6ZM506 360.4 516.9 363.2 513.1 375.5 502.5 371.5ZM502.9 370.4 513.5 374.2 508.6 386 498.4 381.2ZM499 380 509.2 384.7 503.3 396.1 493.6 390.4ZM494.2 389.3 504 394.9 497.1 405.7 487.9 399.2ZM488.6 398.2 497.9 404.6 490.1 414.7 481.5 407.4ZM445.1 424 450.8 433.7 440.4 439.1 435.7 428.9ZM436.7 428.4 441.5 438.6 430.7 443.1 426.9 432.5ZM424.2 421.9 428.1 432.5 417.9 435.7 415.1 424.8ZM416 424.5 419 435.4 408.6 437.7 406.7 426.6ZM405.8 415.7 407.8 426.8 398.3 428 397.3 416.8ZM390.6 406.2 390.7 417.5 382.1 417.1 383.2 405.9ZM383.1 416.8 382.1 428 372.6 426.8 374.6 415.7ZM375.5 415.8 373.6 427 364.2 424.9 367.2 414ZM368.1 414.2 365.2 425.1 356.1 422.3 360 411.7ZM357.2 422.2 353.4 432.9 343.5 428.8 348.3 418.6ZM349.3 419 344.5 429.3 335.1 424.3 340.8 414.6ZM344.7 428.9 340 439.1 329.6 433.7 335.3 424ZM336.3 424.5 330.7 434.3 320.8 428 327.3 418.8ZM328.2 419.5 321.8 428.8 312.5 421.6 319.8 413ZM322 428.4 315.6 437.7 305.5 429.9 312.8 421.3ZM313.7 422.1 306.5 430.8 297.1 422.2 305.1 414.2ZM306 415.1 298 423.1 289.4 413.7 298.1 406.5ZM298.3 422.8 290.4 430.9 281 420.6 289.7 413.4ZM290.6 414.5 282 421.8 273.5 410.8 282.8 404.4ZM283.6 405.5 274.4 412 266.9 400.3 276.7 394.7ZM274.7 411.8 265.5 418.3 257.5 405.7 267.3 400.1ZM268 401.4 258.3 407.1 251.4 393.8 261.6 389.1ZM272.1 385.8 261.9 390.6 256.6 377.8 267.2 374ZM267.7 375.3 257.1 379.2 252.9 366 263.9 363.1ZM274.7 361.6 263.8 364.6 261.1 352.1 272.2 350.2ZM264.2 364.5 253.3 367.4 250.3 353.9 261.5 352ZM272.4 351.4 261.3 353.4 259.6 340.7 270.9 339.8ZM314.3 337 303.1 338.1 302.7 329.5 314 329.6ZM303.5 338 292.3 339.1 291.8 329.5 303.1 329.5ZM271 341.1 259.7 342.1 259.2 329.3 270.5 329.4ZM314 330.4 302.7 330.5 303.1 321.9 314.3 323ZM303.1 330.5 291.8 330.5 292.3 320.9 303.5 322ZM292.2 330.5 281 330.6 281.4 319.9 292.7 321ZM281.4 330.6 270.1 330.6 270.6 318.9 281.8 319.9ZM325.1 324.6 313.9 323.7 314.8 316.3 325.9 318.3ZM336.6 320.8 325.4 318.9 326.8 312.7 337.7 315.6ZM348.1 319 337.2 316.1 338.8 311 349.4 314.9ZM361.8 313.8 352 308.2 354.3 304.6 363.5 311.1ZM359.3 299.4 351.2 291.4 355.2 287.8 362.4 296.5ZM362 296.8 354.7 288.2 359 284.9 365.4 294.2ZM362.7 283 357 273.3 362.7 270.3 367.5 280.6ZM367.5 268.7 363.6 258.2 370.8 255.9 373.6 266.8ZM370.1 256.5 367.1 245.6 375.5 243.8 377.4 254.9Z" fill="#3333ff"/><path d="M415.1 235.2 417.9 224.3 428.1 227.5 424.2 238.1ZM435.7 231.1 440.4 220.9 450.8 226.3 445.1 236ZM466.7 237.9 473.9 229.2 483.3 237.8 475.3 245.8ZM496.8 254.5 506 248 513.5 259.7 503.7 265.3ZM522.9 280.9 533.5 277 538 291.2 527.1 294.1ZM526.7 292.7 537.6 289.7 540.8 304.3 529.7 306.2ZM529.4 304.7 540.5 302.7 542.5 317.5 531.2 318.4ZM540.1 302.8 551.2 300.7 553.3 316.6 542.1 317.5ZM541.9 315.9 553.2 314.9 553.9 330.9 542.6 330.8ZM542.6 329.2 553.9 329.1 553.2 345.1 541.9 344.1ZM542.1 342.5 553.3 343.4 551.2 359.3 540.1 357.2ZM540.4 355.7 551.5 357.6 548.1 373.2 537.2 370.2ZM537.6 368.7 548.5 371.5 543.7 386.8 533.1 382.9ZM533.7 381.4 544.3 385.2 538.2 399.9 528 395.1ZM528.6 393.7 538.9 398.4 531.5 412.6 521.8 406.9ZM522.6 405.5 532.4 411.1 523.8 424.6 514.6 418.1ZM506.5 410.6 515.8 417 506.7 428.8 498.1 421.5ZM499.1 420.4 507.8 427.6 497.7 438.6 489.7 430.6ZM490.8 429.5 498.8 437.5 487.8 447.6 480.6 438.9ZM435.5 452.5 439.4 463.1 426.2 467.3 423.3 456.3ZM424.7 456 427.6 466.9 414.1 469.9 412.2 458.7ZM401.3 449.2 402.3 460.5 389.5 461 389.6 449.7ZM390.8 449.7 390.9 461 378.1 460.5 379.1 449.2ZM379.5 460.2 378.6 471.4 364.8 469.6 366.8 458.5ZM354.3 466.9 351.4 477.8 337.2 473.3 341.1 462.7ZM338.8 473.5 335 484.1 320.3 478 325.1 467.8ZM322 478.3 317.3 488.6 302.1 480.7 307.8 471ZM309.3 471.8 303.7 481.6 289.3 472.5 295.9 463.3ZM291.1 473.2 284.6 482.5 270.3 471.4 277.6 462.8ZM279 464 271.7 472.7 258.4 460.4 266.4 452.5ZM260 461.5 252.1 469.5 239.1 455.4 247.8 448.2ZM230.3 443.2 221.1 449.7 210.2 432.7 220 427.1ZM221 428.8 211.3 434.5 202 416.6 212.2 411.9ZM216.7 394.2 206.1 398.1 200.3 379.8 211.2 377ZM222.2 376 211.3 378.9 207.4 361.2 218.5 359.3ZM218.9 361.1 207.7 363.2 205.4 345.2 216.6 344.3ZM227.6 345.1 216.4 346.1 215.6 329.1 226.9 329.1ZM226.9 330.9 215.6 330.9 216.4 313.9 227.6 314.9ZM238.3 317.5 227.1 316.6 229.2 300.7 240.3 302.8ZM250.7 306.2 239.6 304.3 242.8 289.7 253.7 292.7ZM263.9 296.9 252.9 294 257.1 280.8 267.7 284.7ZM277.5 289.6 266.9 285.8 271.8 274 282 278.8ZM301.2 289.1 290.9 284.3 295.9 274.9 305.6 280.6ZM314.6 286.9 304.8 281.3 309.9 273.2 319.1 279.7ZM318.6 280.4 309.3 274 315.2 266.4 323.8 273.7ZM323.2 274.4 314.5 267.2 321 260.1 329 268.1ZM328.3 268.8 320.3 260.8 327.4 254.3 334.6 263ZM333.9 263.6 326.6 255 334.2 249.1 340.6 258.4ZM339.9 258.9 333.4 249.7 341.5 244.6 347.1 254.4ZM346.3 254.8 340.6 245.1 349.1 240.6 353.8 250.9Z" fill="#7373ff"/><path d="M417.8 224.7 420.7 213.8 431.9 217.3 428 227.9ZM430.6 217.3 434.4 206.7 446.2 211.6 441.4 221.8ZM458.4 181.7 463.1 171.4 478.3 179.3 472.6 189ZM463 171.8 467.7 161.5 483.8 169.9 478.1 179.6ZM467.5 161.9 472.2 151.6 489.3 160.5 483.6 170.2ZM471.1 188.2 476.7 178.4 491.1 187.5 484.5 196.7ZM476.5 178.7 482.1 168.9 497.4 178.7 490.8 187.9ZM481.9 169.3 487.5 159.5 503.6 169.8 497.1 179ZM487.3 159.8 492.9 150 509.9 160.9 503.4 170.1ZM464.6 222.6 471 213.3 482 221.8 474.7 230.4ZM476.9 204.7 483.4 195.4 496.1 205.2 488.8 213.8ZM501.7 168.9 508.2 159.6 524.2 172 516.9 180.6ZM480.6 221.1 487.8 212.4 498.8 222.5 490.8 230.5ZM515.3 179.3 522.6 170.6 537.5 184.3 529.5 192.2ZM528 190.7 535.9 182.7 549.6 197.6 540.9 204.9ZM539.6 203.3 548.2 196 560.6 212 551.3 218.5ZM567.3 246.3 577.5 241.4 585.3 260.2 574.7 264ZM574 262 584.5 258.1 590.6 277.4 579.7 280.3ZM579.2 278.3 590.1 275.3 594.4 295.1 583.3 297ZM583.3 363 594.4 364.9 590.1 384.7 579.2 381.7ZM579.7 379.7 590.6 382.6 584.5 401.9 574 398ZM574.7 396 585.3 399.8 577.5 418.6 567.3 413.7ZM560.4 427.1 570.2 432.7 559.3 449.7 550.1 443.2ZM532.6 448.2 541.3 455.4 528.3 469.5 520.4 461.5ZM514 452.5 522 460.4 508.7 472.7 501.4 464ZM502.8 462.8 510.1 471.4 495.8 482.5 489.3 473.2ZM472.6 471 478.3 480.7 463.1 488.6 458.4 478.3ZM460 477.6 464.8 487.8 449 494.3 445.2 483.7ZM404.3 481.7 405.3 493 389.3 493.7 389.4 482.4ZM376.8 492.7 375.9 504 359 501.7 361 490.6ZM327.8 504.2 324 514.8 306.3 507.5 311.1 497.3ZM308.3 508 303.6 518.2 285.7 508.9 291.4 499.2ZM272.5 500 266 509.3 249.1 496.3 256.4 487.7ZM237.1 484.7 229.1 492.8 214 476.3 222.7 469.1ZM224.2 470.8 215.6 478.1 201.9 460.4 211.2 453.9ZM186 405.5 175.4 409.4 168.7 388.1 179.6 385.2ZM186.7 367 175.6 369 172.8 347.9 184.1 346.9ZM194.3 331 183 331.1 183.9 310.9 195.1 311.9ZM207.8 298.8 196.7 296.9 200.8 278.2 211.7 281.2ZM221.7 285.8 210.8 282.9 216.3 265.7 226.9 269.6ZM236.5 275 225.9 271.2 232.4 255.4 242.6 260.2ZM251.8 266.3 241.5 261.6 248.9 247.4 258.6 253.1ZM264.9 243.3 255.6 236.8 265.4 224.1 274 231.4ZM273 232.7 264.3 225.5 275.1 213.7 283 221.7ZM281.9 222.8 273.9 214.9 285.7 204.1 292.9 212.8ZM291.6 213.8 284.3 205.2 297 195.4 303.5 204.7ZM284.6 205.5 277.3 196.9 290.8 186.5 297.3 195.8ZM295.9 196.7 289.3 187.5 303.7 178.4 309.3 188.2ZM307.8 189 302.1 179.3 317.3 171.4 322 181.7ZM329.7 202.1 324.9 191.9 338.7 186.2 342.5 196.8ZM325.1 192.2 320.3 182 335 175.9 338.8 186.5ZM344.9 207.5 341 196.9 354.2 192.7 357.1 203.7ZM341.1 197.3 337.2 186.7 351.4 182.2 354.3 193.1ZM381.2 232.5 380.1 221.2 390.8 220.8 390.7 232Z" fill="#b2b2ff"/><path d="M420.6 214.2 423.4 203.3 435.7 207.1 431.7 217.7ZM431.6 172.1 434.5 161.2 450.8 166.3 446.8 176.9ZM434.4 161.5 437.3 150.6 454.5 156.1 450.6 166.7ZM445.2 176.3 449 165.7 464.8 172.2 460 182.4ZM448.9 166 452.7 155.4 469.4 162.3 464.6 172.6ZM452.6 155.8 456.4 145.2 474.1 152.5 469.3 162.7ZM453.9 191.6 458.6 181.3 472.8 188.7 467.1 198.4ZM472.1 152 476.8 141.8 494.7 151.1 489 160.8ZM454.9 216.5 460.5 206.7 472.2 214.2 465.7 223.4ZM465.7 197.6 471.3 187.8 484.8 196.4 478.3 205.6ZM470.8 213.7 477.2 204.4 489 213.5 481.7 222.1ZM535.7 183 543.6 175 558 190.7 549.3 197.9ZM547.9 196.2 556.5 188.9 569.5 205.8 560.2 212.3ZM559 210.5 568.2 204 579.6 221.9 569.8 227.5ZM568.8 225.7 578.5 220 588.3 238.9 578.1 243.6ZM583 295 594.1 293 596.7 313 585.5 313.9ZM585.3 311.9 596.5 310.9 597.4 331.1 586.1 331ZM586.1 329 597.4 328.9 596.5 349.1 585.3 348.1ZM585.5 346.1 596.7 347 594.1 367 583 365ZM578.1 416.4 588.3 421.1 578.5 440 568.8 434.3ZM569.8 432.5 579.6 438.1 568.2 456 559 449.5ZM551.3 441.5 560.6 448 548.2 464 539.6 456.7ZM521.7 460.2 529.7 468.1 515.6 481.1 508.4 472.4ZM490.8 472.1 497.4 481.3 482.1 491.1 476.5 481.3ZM446.8 483.1 450.8 493.7 434.5 498.8 431.6 487.9ZM433.3 487.5 436.3 498.4 419.6 502.1 417.7 490.9ZM419.4 490.6 421.4 501.7 404.5 504 403.6 492.7ZM391.1 493.3 391.1 504.6 374.1 503.8 375.1 492.6ZM360.9 501.7 359 512.8 341.3 508.9 344.2 498ZM343.2 509 340.4 519.9 322.1 514.1 326 503.5ZM324.2 514.5 320.4 525.1 301.6 517.3 306.5 507.1ZM287.7 509.6 282.1 519.4 264.2 508 270.7 498.8ZM251.1 497.5 243.9 506.2 227.4 491.1 235.5 483.1ZM203.6 462.1 194.4 468.6 181.8 448.8 191.7 443.3ZM192.8 445.3 183.1 451 172.3 430.2 182.5 425.5ZM183.5 427.7 173.3 432.5 164.4 410.9 175 407.1ZM180.2 387.4 169.3 390.4 164.5 368.6 175.6 366.7ZM184.3 349.1 173 350.1 172.1 328.9 183.4 328.9ZM183.4 331.1 172.1 331.1 173 309.9 184.3 310.9ZM194.9 313.9 183.7 313 186.3 293 197.4 295ZM211.2 283 200.3 280.2 206.1 261.9 216.7 265.8ZM226.2 271.3 215.6 267.5 222.5 250.8 232.8 255.6ZM241.9 261.8 231.6 257.1 239.5 241.9 249.2 247.6ZM257.8 254.5 248 248.9 256.6 235.4 265.8 241.9ZM256 237.1 246.7 230.6 257.1 217.1 265.7 224.4ZM264.6 225.7 255.9 218.5 267.4 205.9 275.4 213.9ZM274.1 215.2 266.1 207.2 278.7 195.7 285.9 204.4ZM320.4 182.4 315.6 172.2 331.4 165.7 335.2 176.3ZM352.4 227.9 348.5 217.3 359.7 213.8 362.6 224.7ZM348.7 217.7 344.7 207.1 357 203.3 359.8 214.2ZM337.3 187.1 333.4 176.5 348.7 171.7 351.5 182.6ZM333.6 176.9 329.6 166.3 345.9 161.2 348.8 172.1ZM355.7 204 352.8 193.1 366.3 190.1 368.2 201.3ZM352.9 193.5 349.9 182.6 364.5 179.4 366.4 190.5ZM350 183 347 172.1 362.6 168.7 364.5 179.8Z" fill="#bfbfff"/><path d="M419.6 248 423.4 237.4 432.2 241.1 427.4 251.3ZM426.6 250.9 431.3 240.6 439.8 245.1 434.1 254.8ZM452.8 254.6 460 245.9 467.9 253.2 459.8 261.1ZM459.1 260.4 467 252.3 474.3 260.2 465.6 267.4ZM473.2 259.6 481.8 252.3 489 261.6 479.7 268ZM509.4 318.9 520.7 317.9 521.2 330.7 509.9 330.6ZM509.9 329.4 521.2 329.3 520.7 342.1 509.4 341.1ZM509.5 339.8 520.8 340.7 519.1 353.4 508 351.4ZM460.6 413 467.9 421.6 458.6 428.8 452.2 419.5ZM453.1 418.8 459.6 428 449.7 434.3 444.1 424.5ZM432.1 418.6 436.9 428.8 427 432.9 423.2 422.2ZM420.4 411.7 424.3 422.3 415.2 425.1 412.3 414.2ZM413.2 414 416.2 424.9 406.8 427 404.9 415.8ZM403.8 405 405.8 416.1 397.4 417.2 396.4 405.9ZM396.2 395 397.3 406.3 389.8 406.6 389.9 395.3ZM397.2 405.9 398.3 417.1 389.7 417.5 389.8 406.2ZM390.5 395.3 390.6 406.6 383.1 406.3 384.2 395ZM384.8 395.1 383.9 406.3 376.5 405.4 378.5 394.3ZM384 405.9 383 417.2 374.6 416.1 376.6 405ZM377.4 405.1 375.5 416.2 367.1 414.4 370.1 403.5ZM370.9 403.7 368 414.6 359.9 412 363.8 401.5ZM364.5 401.7 360.7 412.4 352.8 409.1 357.6 398.9ZM360.8 412 357 422.6 348.2 418.9 353 408.7ZM353.8 409.1 349.1 419.4 340.6 414.9 346.3 405.2ZM347.1 405.6 341.5 415.4 333.4 410.3 339.9 401.1ZM341.7 415.1 336.1 424.9 327.1 419.2 333.6 410ZM340.6 401.6 334.2 410.9 326.6 405 333.9 396.4ZM334.4 410.5 328 419.8 319.5 413.3 326.8 404.7ZM327.6 405.4 320.4 414.1 312.5 406.8 320.6 398.9ZM320.7 413.7 313.5 422.4 304.8 414.5 312.8 406.6ZM321.3 399.6 313.4 407.7 306.1 399.8 314.8 392.6ZM313.6 407.4 305.7 415.4 297.8 406.7 306.5 399.5ZM307.2 400.4 298.6 407.7 291.4 398.4 300.7 392ZM298.9 407.4 290.3 414.7 282.5 404.6 291.8 398.2ZM292.5 399.2 283.3 405.7 276.4 394.9 286.2 389.3ZM286.8 390.4 277.1 396.1 271.2 384.7 281.4 380ZM277.4 395.9 267.7 401.6 261.3 389.3 271.5 384.6ZM282 381.2 271.8 386 266.9 374.2 277.5 370.4ZM308.5 360.2 297.9 364.1 295.1 355 306 352.1ZM277.9 371.5 267.3 375.5 263.5 363.2 274.4 360.4ZM316.7 350.1 305.8 353.1 304 344.7 315.1 342.8ZM306.2 353 295.3 356 293.2 346.6 304.4 344.7ZM295.7 355.8 284.8 358.8 282.5 348.4 293.6 346.5ZM285.2 358.7 274.3 361.7 271.8 350.2 282.9 348.3ZM315.2 343.6 304.1 345.6 303 337.2 314.3 336.2ZM304.5 345.6 293.4 347.6 292.2 338.1 303.4 337.1ZM293.8 347.5 282.7 349.5 281.3 339 292.6 338ZM283.1 349.5 272 351.5 270.5 339.8 281.7 338.9ZM325.2 336 313.9 337.1 313.6 329.6 324.9 329.7ZM292.7 339 281.4 340.1 281 329.4 292.2 329.5ZM281.8 340.1 270.6 341.1 270.1 329.4 281.4 329.4ZM324.9 330.3 313.6 330.4 313.9 322.9 325.2 324ZM336 325.5 324.7 324.6 325.6 318.3 336.7 320.3ZM347.3 322.7 336.2 320.8 337.3 315.5 348.2 318.5ZM359.5 319 348.8 315.2 350.5 311.2 360.7 316ZM360.5 316.4 350.3 311.6 352.3 307.8 362 313.5ZM363.4 311.4 354.1 305 356.7 301.6 365.3 308.9ZM365.1 309.1 356.4 301.9 359.3 298.8 367.2 306.8ZM367 307 359 299.1 362.1 296.2 369.3 304.9ZM365 294.5 358.5 285.3 363 282.4 368.6 292.2ZM368.2 292.4 362.5 282.7 367.3 280.2 372 290.4ZM366.9 280.8 362.1 270.6 368.1 268.1 371.9 278.8ZM371.3 279 367.4 268.4 373.5 266.4 376.4 277.4ZM373 267 370 256.1 377.3 254.5 379.2 265.6ZM376.6 255 374.6 243.9 383 242.8 384 254.1Z" fill="#2626ff"/><path d="M423.2 237.8 427 227.1 436.9 231.2 432.1 241.4ZM452.2 240.5 458.6 231.2 467.9 238.4 460.6 247ZM481.5 252.6 490.1 245.3 497.9 255.4 488.6 261.8ZM512.7 284.7 523.3 280.8 527.5 294 516.5 296.9ZM516.2 295.5 527.1 292.6 530.1 306.1 518.9 308ZM518.7 306.6 529.8 304.6 531.6 318.4 520.4 319.3ZM513.2 374 523.8 377.8 518.5 390.6 508.3 385.8ZM508.9 384.6 519.1 389.3 512.7 401.6 503 395.9ZM503.7 394.7 513.5 400.3 506 412 496.8 405.5ZM497.6 404.4 506.9 410.8 498.4 421.8 489.8 414.5ZM490.7 413.4 499.4 420.6 490 430.9 482.1 422.8ZM483 421.9 491.1 429.8 480.8 439.2 473.6 430.5ZM431.7 442.3 435.7 452.9 423.4 456.7 420.6 445.8ZM400.3 438.4 401.3 449.6 389.6 450.1 389.6 438.8ZM390.8 438.8 390.8 450.1 379.1 449.6 380.1 438.4ZM381.3 438.5 380.4 449.7 368.7 448.2 370.7 437.1ZM370 448 368.1 459.1 355.6 456.4 358.6 445.5ZM359.8 445.8 357 456.7 344.7 452.9 348.7 442.3ZM346.2 453 342.4 463.6 329.6 458.3 334.4 448.1ZM331.1 458.6 326.4 468.8 313.1 461.9 318.8 452.2ZM320.1 452.9 314.5 462.7 301.9 454.7 308.4 445.5ZM303.5 455.3 297 464.6 284.3 454.8 291.6 446.2ZM292.9 447.2 285.7 455.9 273.9 445.1 281.9 437.2ZM285.9 455.6 278.7 464.3 266.1 452.8 274.1 444.8ZM275.4 446.1 267.4 454.1 255.9 441.5 264.6 434.3ZM257.4 442.6 248.8 449.9 237.7 435.6 247 429.1ZM248.1 430.6 238.9 437.2 229.1 421.9 238.9 416.3ZM239.8 417.9 230.1 423.6 221.7 407.5 232 402.8ZM232.8 404.4 222.5 409.2 215.6 392.5 226.2 388.7ZM237.1 386.6 226.5 390.6 221.4 374.3 232.3 371.4ZM232.7 373.1 221.8 376.1 218.1 359.4 229.3 357.5ZM240.3 357.2 229.2 359.3 227.1 343.4 238.3 342.5ZM238.5 344.1 227.2 345.1 226.5 329.1 237.8 329.2ZM248.7 330.7 237.4 330.8 238.1 315.9 249.3 316.9ZM260 319.3 248.8 318.4 250.6 304.6 261.7 306.6ZM272.2 309.8 261.1 307.9 263.8 295.4 274.7 298.4ZM306 307.9 295.1 305 297.9 295.9 308.5 299.8ZM295.4 305.1 284.5 302.3 287.7 292.1 298.3 296ZM284.9 302.4 274 299.5 277.5 288.3 288.1 292.2ZM318.5 304.3 307.8 300.5 311.1 292.6 321.3 297.4ZM340.8 307.3 330.5 302.5 333.5 296.8 343.2 302.5ZM330.9 302.7 320.6 298 324.1 291.4 333.8 297.1ZM342.9 303 333.1 297.4 336.6 292 345.8 298.6ZM336.5 292.8 327.2 286.4 331.8 280.5 340.4 287.8ZM340 288.3 331.3 281.1 336.3 275.6 344.3 283.6ZM343.8 284.1 335.8 276.1 341.3 271.1 348.5 279.8ZM348 280.2 340.7 271.6 346.6 267 353 276.3ZM351.8 264.2 346.1 254.5 353.6 250.5 358.4 260.8ZM374.6 244.3 372.6 233.2 382.1 232 383.1 243.2ZM382.2 243.3 381.1 232.1 390.7 231.6 390.7 242.9Z" fill="#5959ff"/><path d="M426.9 227.5 430.7 216.9 441.5 221.4 436.7 231.6ZM449.5 226 455.1 216.2 465.9 223.1 459.4 232.3ZM482.1 237.2 490 229.1 499.4 239.4 490.7 246.6ZM505.7 248.2 514.9 241.7 522.9 254.3 513.1 259.9ZM514.6 241.9 523.8 235.4 532.4 248.9 522.6 254.5ZM523.5 235.7 532.7 229.1 541.8 243.5 532 249.1ZM531.2 247.6 540.9 241.9 548.8 257.1 538.5 261.8ZM537.8 260.2 548 255.4 554.5 271.2 543.9 275ZM543.3 273.4 553.9 269.4 559 285.7 548.1 288.6ZM564.4 329.1 575.6 329 574.8 347.1 563.6 346.1ZM563.8 344.3 575 345.2 572.7 363.2 561.5 361.1ZM561.9 359.3 573 361.2 569.1 378.9 558.2 376ZM558.7 374.2 569.6 377.1 564.1 394.3 553.5 390.4ZM554.2 388.7 564.8 392.5 557.9 409.2 547.6 404.4ZM548.4 402.8 558.7 407.5 550.3 423.6 540.6 417.9ZM541.5 416.3 551.3 421.9 541.5 437.2 532.3 430.6ZM524.4 422.9 533.7 429.4 523.3 442.9 514.7 435.6ZM515.8 434.3 524.5 441.5 513 454.1 505 446.1ZM498.5 437.2 506.5 445.1 494.7 455.9 487.5 447.2ZM488.8 446.2 496.1 454.8 483.4 464.6 476.9 455.3ZM439.3 462.7 443.2 473.3 429 477.8 426.1 466.9ZM427.5 466.5 430.5 477.4 415.9 480.6 414 469.5ZM415.5 469.2 417.5 480.3 402.7 482.3 401.8 471ZM378.6 471 377.7 482.3 362.9 480.3 364.9 469.2ZM364.5 480.2 362.6 491.3 347 487.9 350 477ZM335.2 483.7 331.4 494.3 315.6 487.8 320.4 477.6ZM317.4 488.2 312.7 498.5 296.6 490.1 302.3 480.4ZM298.5 490.7 292.9 500.5 276.8 490.2 283.3 481ZM284.9 482.1 278.4 491.4 263.2 479.7 270.5 471.1ZM265.1 480.7 257.8 489.4 242.9 475.7 250.9 467.8ZM252.4 469.3 244.5 477.3 230.8 462.4 239.5 455.1ZM221.4 449.5 212.2 456 200.8 438.1 210.6 432.5ZM211.6 434.3 201.9 440 192.1 421.1 202.3 416.4ZM206.4 398 195.9 401.9 189.8 382.6 200.7 379.7ZM201.2 381.7 190.3 384.7 186 364.9 197.1 363ZM208.1 363.1 197 365.1 194.5 346.1 205.8 345.2ZM216 330.9 204.8 331 205.6 312.9 216.8 313.9ZM227.5 316.6 216.2 315.7 218.5 298.8 229.6 300.8ZM240 304.3 228.9 302.4 232.3 286.8 243.2 289.8ZM253.3 294.1 242.4 291.2 246.9 277 257.5 280.9ZM267.2 286 256.6 282.2 261.9 269.4 272.1 274.2ZM281.4 280 271.2 275.3 277.1 263.9 286.8 269.6ZM286.2 270.7 276.4 265.1 283.3 254.3 292.5 260.8ZM291.8 261.8 282.5 255.4 290.3 245.3 298.9 252.6ZM298.1 253.5 289.4 246.3 298 236.9 306 244.9ZM312.8 253.4 304.8 245.5 313.5 237.6 320.7 246.3ZM305.1 245.8 297.1 237.8 306.5 229.2 313.7 237.9ZM319.8 247 312.5 238.4 321.8 231.2 328.2 240.5ZM312.8 238.7 305.5 230.1 315.6 222.3 322 231.6ZM327.3 241.2 320.8 232 330.7 225.7 336.3 235.5ZM321 232.3 314.5 223.1 325.3 216.2 330.9 226ZM348.3 241.4 343.5 231.2 353.4 227.1 357.2 237.8Z" fill="#8c8cff"/><path d="M433.3 254.4 438.9 244.6 447 249.7 440.5 258.9ZM439.8 258.4 446.2 249.1 453.8 255 446.5 263.6ZM464.9 266.6 473.5 259.3 480 267.8 470.7 274.2ZM479 267.1 488.2 260.6 494.5 270.5 484.7 276.1ZM479.7 392 489 398.4 481.8 407.7 473.2 400.4ZM473.9 399.5 482.6 406.7 474.7 415.4 466.8 407.4ZM467.6 406.6 475.6 414.5 466.9 422.4 459.7 413.7ZM453.6 404.7 460.9 413.3 452.4 419.8 446 410.5ZM446.8 410 453.3 419.2 444.3 424.9 438.7 415.1ZM439.6 414.6 445.3 424.3 435.9 429.3 431.1 419ZM427.4 408.7 432.2 418.9 423.4 422.6 419.6 412ZM416.6 401.5 420.5 412 412.4 414.6 409.5 403.7ZM407.4 393 410.4 403.9 403.1 405.5 401.2 394.4ZM410.3 403.5 413.3 414.4 404.9 416.2 403 405.1ZM399.9 383.5 401.9 394.6 395.6 395.5 394.7 384.2ZM401.9 394.3 403.9 405.4 396.5 406.3 395.6 395.1ZM395.2 384.2 396.3 395.4 389.9 395.7 389.9 384.4ZM390.5 384.4 390.5 395.7 384.1 395.4 385.2 384.2ZM385.7 384.2 384.8 395.5 378.5 394.6 380.5 383.5ZM381 383.6 379.1 394.8 372.9 393.4 375.8 382.5ZM379.2 394.4 377.3 405.5 370 403.9 373 393ZM376.4 382.6 373.5 393.6 367.4 391.6 371.3 381ZM373.6 393.2 370.8 404.1 363.6 401.8 367.5 391.3ZM368.2 391.5 364.4 402.1 357.5 399.2 362.3 389ZM362.9 389.3 358.2 399.6 351.6 396.1 357.3 386.4ZM358.4 399.2 353.6 409.5 346.1 405.5 351.8 395.8ZM357.8 386.7 352.3 396.5 345.9 392.5 352.5 383.3ZM352.4 396.2 346.9 406 339.7 401.4 346.2 392.2ZM353 383.7 346.6 393 340.7 388.4 348 379.8ZM346.8 392.6 340.4 401.9 333.6 396.7 340.9 388.1ZM348.5 380.2 341.3 388.9 335.8 383.9 343.8 375.9ZM341.5 388.6 334.3 397.3 328 391.5 336 383.6ZM334.6 397 327.4 405.7 320.3 399.2 328.3 391.2ZM336.6 384.2 328.7 392.2 322.9 385.9 331.6 378.7ZM329 391.9 321 399.9 314.5 392.8 323.2 385.6ZM332.1 379.3 323.5 386.6 318.3 379.8 327.6 373.4ZM323.8 386.3 315.2 393.6 309.3 386 318.6 379.6ZM315.5 393.4 306.9 400.7 300.4 392.2 309.7 385.8ZM328 374 318.8 380.5 314.2 373.3 324 367.8ZM319.1 380.3 309.9 386.8 304.8 378.7 314.6 373.1ZM310.2 386.6 301 393.1 295.3 384.1 305.1 378.5ZM301.4 392.9 292.2 399.4 285.9 389.5 295.7 383.9ZM324.4 368.4 314.7 374.1 310.7 366.6 321 361.8ZM315 373.9 305.3 379.6 300.8 371.1 311.1 366.4ZM305.6 379.4 295.9 385.1 290.9 375.7 301.2 370.9ZM296.2 384.9 286.5 390.6 281.1 380.2 291.3 375.5ZM331.2 357.9 321 362.7 318.1 355.8 328.7 352ZM321.3 362.6 311.1 367.4 307.8 359.5 318.5 355.7ZM311.5 367.2 301.3 372 297.6 363.2 308.2 359.4ZM301.6 371.9 291.4 376.7 287.3 366.8 298 363ZM291.8 376.5 281.6 381.3 277.1 370.5 287.7 366.7ZM328.9 352.7 318.4 356.6 316.1 349.4 327 346.6ZM318.7 356.4 308.2 360.3 305.6 352.2 316.5 349.3ZM298.3 364 287.7 367.9 284.5 357.7 295.4 354.9ZM288.1 367.8 277.5 371.7 274 360.5 284.9 357.6ZM337.7 344.4 326.8 347.3 325.4 341.1 336.6 339.2ZM327.2 347.2 316.3 350.2 314.7 342.9 325.8 341ZM336.7 339.7 325.6 341.7 324.7 335.4 336 334.5ZM325.9 341.7 314.8 343.7 313.9 336.3 325.1 335.4ZM336 335 324.8 336.1 324.5 329.7 335.8 329.7ZM346.7 330.2 335.4 330.3 335.6 324.9 346.8 326ZM335.8 330.3 324.5 330.3 324.8 323.9 336 325ZM346.8 326.4 335.6 325.5 336.3 320.2 347.4 322.2ZM358 324.5 346.9 322.6 347.8 318.4 358.7 321.4ZM358.6 321.7 347.7 318.9 349 314.8 359.6 318.7ZM370.4 320.9 360.2 316.2 361.7 313.3 371.4 319ZM371.3 319.2 361.5 313.6 363.2 310.9 372.4 317.4ZM372.3 317.6 363 311.2 365 308.6 373.6 315.9ZM373.5 316.1 364.8 308.9 367 306.5 374.9 314.5ZM369.1 305.1 361.8 296.5 365.2 293.9 371.6 303.2ZM371.3 303.3 364.8 294.1 368.4 291.8 374 301.6ZM373.7 301.8 368 292.1 371.8 290.1 376.6 300.3ZM376.2 300.5 371.4 290.3 375.4 288.6 379.2 299.3ZM371.6 290.6 366.8 280.4 371.7 278.4 375.5 289ZM375.1 289.2 371.2 278.6 376.3 277 379.2 287.9ZM375.8 277.5 372.9 266.6 379.1 265.2 381 276.4ZM378.5 265.7 376.5 254.6 383.9 253.7 384.8 264.9Z" fill="#1919ff"/><path d="M444.1 235.5 449.7 225.7 459.6 232 453.1 241.2ZM474.4 244.9 482.4 236.9 491 246.3 482.3 253.5ZM503 264.1 512.7 258.4 519.1 270.7 508.9 275.4ZM508.3 274.2 518.5 269.4 523.8 282.2 513.2 286ZM531.1 316.9 542.3 315.9 543 330.8 531.7 330.7ZM531.7 329.3 543 329.2 542.3 344.1 531.1 343.1ZM531.2 341.6 542.5 342.5 540.5 357.3 529.4 355.3ZM529.7 353.8 540.8 355.7 537.6 370.3 526.7 367.3ZM527.1 365.9 538 368.8 533.5 383 522.9 379.1ZM523.4 377.7 534 381.5 528.3 395.3 518.1 390.5ZM518.8 389.1 529 393.8 522.1 407.1 512.4 401.4ZM513.1 400.1 522.9 405.7 514.9 418.3 505.7 411.8ZM474.7 429.6 482 438.2 471 446.7 464.6 437.4ZM465.7 436.6 472.2 445.8 460.5 453.3 454.9 443.5ZM456.1 442.8 461.8 452.5 449.5 458.9 444.8 448.7ZM446 448.1 450.8 458.3 438 463.6 434.2 453ZM421.8 445.5 424.8 456.4 412.3 459.1 410.4 448ZM411.6 447.8 413.6 458.9 400.9 460.6 400 449.3ZM380.4 449.3 379.5 460.6 366.8 458.9 368.8 447.8ZM368.2 458.7 366.3 469.9 352.8 466.9 355.7 456ZM357.1 456.3 354.2 467.3 341 463.1 344.9 452.5ZM342.5 463.2 338.7 473.8 324.9 468.1 329.7 457.9ZM326.5 468.4 321.8 478.7 307.6 471.3 313.3 461.6ZM314.7 462.4 309.1 472.2 295.6 463.6 302.1 454.4ZM297.3 464.2 290.8 473.5 277.3 463.1 284.6 454.5ZM267.7 453.8 259.8 461.8 247.5 448.5 256.2 441.2ZM249.1 449.7 240.5 457 228.8 441.8 238.1 435.3ZM239.2 436.9 230 443.4 219.7 427.3 229.5 421.7ZM230.4 423.4 220.7 429.1 211.8 412 222.1 407.3ZM222.9 409.1 212.7 413.9 205.4 396.2 216 392.4ZM226.9 390.4 216.3 394.3 210.8 377.1 221.7 374.2ZM229.6 359.2 218.5 361.2 216.2 344.3 227.5 343.4ZM237.8 330.8 226.5 330.9 227.2 314.9 238.5 315.9ZM249.2 318.4 237.9 317.5 239.9 302.7 251 304.7ZM261.5 308 250.3 306.1 253.3 292.6 264.2 295.5ZM274.4 299.6 263.5 296.8 267.3 284.5 277.9 288.5ZM308.2 300.6 297.6 296.8 301.3 288 311.5 292.8ZM298 297 287.3 293.2 291.4 283.3 301.6 288.1ZM287.7 293.3 277.1 289.5 281.6 278.7 291.8 283.5ZM321 298.2 310.7 293.4 314.7 285.9 324.4 291.6ZM311.1 293.6 300.8 288.9 305.3 280.4 315 286.1ZM333.5 297.6 323.7 292.1 327.7 285.7 336.9 292.3ZM324 292.2 314.2 286.7 318.8 279.5 328 286ZM327.6 286.6 318.3 280.2 323.5 273.4 332.1 280.7ZM331.6 281.3 322.9 274.1 328.7 267.8 336.6 275.8ZM336 276.4 328 268.5 334.3 262.7 341.5 271.4ZM340.9 271.9 333.6 263.3 340.4 258.1 346.8 267.4ZM346.2 267.8 339.7 258.6 346.9 254 352.4 263.8ZM353 251.3 348.2 241.1 357 237.4 360.8 248ZM360 248.3 356.1 237.7 365.2 234.9 368.1 245.8ZM367.2 246 364.2 235.1 373.6 233 375.5 244.2Z" fill="#6666ff"/><path d="M668.6 279.4 679.7 277.4 683.5 305.9 672.2 306.8ZM679.3 277.5 690.5 275.4 694.3 305 683.1 305.9ZM661.2 304.9 672.4 303.8 673.6 331.5 662.3 331.4ZM662.3 328.6 673.6 328.5 672.4 356.2 661.2 355.1ZM673.2 328.5 684.5 328.5 683.2 357.2 672 356.1ZM684.1 328.5 695.4 328.4 694.1 358.2 682.8 357.1ZM672.2 353.2 683.5 354.1 679.7 382.6 668.6 380.6ZM683.1 354.1 694.3 355 690.5 384.6 679.3 382.5ZM367.1 80.7 366 69.5 391.6 68.4 391.5 79.7ZM366.1 69.9 365 58.6 391.6 57.5 391.6 68.8Z" fill="#ff9999"/><path d="M672 303.9 683.2 302.8 684.5 331.5 673.2 331.5ZM682.8 302.9 694.1 301.8 695.4 331.6 684.1 331.5Z" fill="#ff8c8c"/></g>
<path d="M373.1 232.4 385.2 230.9 395.7 230.9 407.8 232.4 416.8 234.7 425.9 237.7 433.4 240.7 445.5 245.2 456 249.8 468.1 248.3 478.6 246.7 490.7 245.2 496.7 251.3 498.2 260.3 495.2 270.9 499.7 281.4 495.2 290.5 486.2 293.5 492.2 299.5 501.3 305.5 508.8 314.6 514.8 328.2 516.3 343.2 517.8 356.8 510.3 368.9 507.3 380.9 496.7 393 489.2 403.6 478.6 411.1 463.6 418.6 448.5 423.2 433.4 426.2 422.8 421.7 413.8 415.6 409.3 408.1 407.8 396 404.8 380.9 403.2 368.9 395.7 364.4 385.2 359.8 374.6 350.8 371.6 359.8 365.5 368.9 356.5 380.9 344.4 384 330.9 380.9 320.3 370.4 312.8 356.8 311.3 341.7 314.3 329.7 323.3 320.6 338.4 319.1 350.5 320.6 365.5 316.9 372.3 305.5 376.1 290.5 374.6 275.4 372.3 260.3 372.3 248.3 373.1 239.2Z" fill="#0000ff" filter="url(#bla2)"/>
<ellipse cx="383" cy="378" rx="22" ry="17" fill="#4646ff" filter="url(#bla2)"/>
<path d="M373.5 203.2 380.1 202.5 386.6 202.1 393.2 202.0 399.8 202.3 406.3 202.9 412.8 203.9 419.2 205.2 425.6 206.9 431.9 208.8 438.0 211.1 444.0 213.8 449.9 216.7 455.6 219.9" fill="none" stroke="#fff3f0" stroke-width="13" stroke-linecap="round" filter="url(#bla2)"/>
<path d="M390.3 309 389.3 306.1 387.6 307.5 387.9 299.4 392.9 305.7 390.7 305.6 391.7 308.6ZM391.9 309.1 390.9 306.2 389.2 307.6 389.4 299.5 394.5 305.8 392.3 305.7 393.3 308.6ZM393.5 309.3 392.5 306.5 390.9 308 390.9 299.9 396.1 306 393.9 306 395 308.8ZM395.1 309.7 394.1 307 392.5 308.5 392.3 300.4 397.7 306.5 395.5 306.5 396.5 309.2ZM396.7 310.2 395.6 307.7 394.1 309.3 393.7 301.2 399.2 307.1 397 307.1 398.1 309.6ZM398.2 310.9 397.2 308.6 395.6 310.1 395.1 302.1 400.7 307.8 398.5 308 399.6 310.2ZM399.7 311.6 398.7 309.6 397.2 311.2 396.4 303.1 402.2 308.7 400 308.9 401 311ZM401.1 312.5 400.1 310.7 398.7 312.4 397.6 304.3 403.6 309.8 401.4 310 402.4 311.8ZM402.4 313.5 401.5 312 400.1 313.7 398.9 305.7 405 311 402.8 311.2 403.7 312.8ZM403.6 314.7 402.8 313.3 401.4 315.1 400 307.1 406.3 312.2 404.1 312.6 404.9 313.9ZM404.7 315.9 404 314.8 402.7 316.5 401.1 308.6 407.5 313.6 405.3 314 406 315.1ZM405.7 317.2 405.2 316.3 403.8 318.1 402.2 310.2 408.6 315.1 406.4 315.5 407 316.4ZM406.6 318.6 406.1 317.9 404.9 319.7 403.1 311.8 409.5 316.6 407.4 317.1 407.8 317.7ZM407.3 320 406.9 319.3 405.7 321.1 404 313.5 410.2 318.1 408.1 318.6 408.6 319.2ZM408 321.5 407.6 320.9 406.4 322.5 404.7 315.2 410.8 319.7 408.7 320.1 409.2 320.7ZM408.5 323 408.1 322.4 406.9 324.1 405.3 316.9 411.2 321.3 409.2 321.7 409.6 322.3ZM408.9 324.6 408.5 324 407.3 325.6 405.7 318.6 411.5 322.9 409.6 323.3 410 323.9ZM409.1 326.2 408.7 325.6 407.6 327.2 406.1 320.3 411.7 324.6 409.8 324.9 410.2 325.5ZM409.2 327.8 408.8 327.3 407.7 328.8 406.2 322 411.7 326.2 409.9 326.6 410.2 327.2ZM409.1 329.5 408.7 328.9 407.6 330.4 406.2 323.7 411.6 327.9 409.8 328.2 410.2 328.8ZM408.9 331.1 408.5 330.5 407.4 332 406.1 325.3 411.4 329.5 409.6 329.8 410 330.4ZM408.5 332.7 408.2 332.1 407.1 333.5 405.8 326.9 411.1 331.1 409.3 331.4 409.6 332ZM408 334.2 407.7 333.6 406.6 335.1 405.3 328.5 410.6 332.7 408.8 333 409.1 333.6ZM407.4 335.7 407.1 335.2 405.9 336.6 404.7 330 409.9 334.2 408.1 334.5 408.5 335.1ZM406.7 337.2 406.3 336.6 405.2 338 404 331.4 409.2 335.7 407.4 336 407.7 336.5ZM405.8 338.5 405.4 338 404.3 339.4 403.1 332.8 408.3 337 406.5 337.3 406.9 337.9ZM404.8 339.8 404.4 339.3 403.3 340.7 402.1 334.1 407.3 338.3 405.5 338.6 405.9 339.2ZM403.7 341 403.3 340.5 402.2 341.9 401 335.3 406.2 339.5 404.4 339.8 404.8 340.4ZM402.5 342.1 402.1 341.6 401 343 399.8 336.4 405 340.6 403.2 340.9 403.6 341.5ZM401.2 343.1 400.8 342.6 399.7 344 398.5 337.3 403.7 341.6 401.9 341.9 402.3 342.5ZM399.8 344 399.5 343.4 398.3 344.9 397.1 338.2 402.4 342.5 400.5 342.8 400.9 343.4ZM398.4 344.8 398 344.2 396.9 345.6 395.7 339 400.9 343.3 399.1 343.6 399.4 344.1ZM396.9 345.4 396.5 344.8 395.4 346.2 394.2 339.7 399.4 343.9 397.6 344.2 397.9 344.8ZM395.3 345.9 395 345.3 393.9 346.7 392.7 340.2 397.8 344.4 396 344.7 396.4 345.3ZM393.7 346.2 393.4 345.7 392.3 347 391.2 340.6 396.2 344.8 394.5 345.1 394.8 345.6ZM392.1 346.4 391.8 345.9 390.7 347.2 389.6 340.8 394.6 345 392.8 345.3 393.2 345.8ZM390.5 346.5 390.2 345.9 389.1 347.3 388.1 341 392.9 345.1 391.2 345.4 391.5 345.9ZM388.9 346.4 388.6 345.9 387.5 347.2 386.6 341 391.3 345.1 389.6 345.3 389.9 345.9ZM387.3 346.2 387 345.6 385.9 346.9 385.1 340.8 389.6 344.9 388 345.1 388.3 345.7ZM385.7 345.8 385.4 345.3 384.3 346.5 383.6 340.5 388 344.6 386.4 344.8 386.7 345.3ZM384.1 345.3 383.9 344.8 382.8 346 382.1 340.1 386.4 344.1 384.8 344.3 385.1 344.8ZM382.6 344.7 382.4 344.2 381.3 345.3 380.7 339.6 384.9 343.5 383.3 343.7 383.6 344.2ZM381.2 343.9 380.9 343.4 379.9 344.6 379.3 338.8 383.4 342.8 381.9 342.9 382.1 343.5ZM379.8 343.1 379.5 342.5 378.5 343.7 377.9 338 382 341.9 380.5 342.1 380.7 342.6ZM378.5 342.1 378.3 341.6 377.2 342.7 376.6 337 380.8 341 379.2 341.1 379.5 341.6ZM377.3 341 377.1 340.4 376 341.6 375.4 335.9 379.6 339.9 378 340 378.3 340.5ZM376.2 339.8 375.9 339.2 374.9 340.4 374.3 334.6 378.5 338.7 376.9 338.8 377.2 339.3ZM375.2 338.5 374.9 337.9 373.9 339.1 373.3 333.3 377.5 337.4 375.9 337.5 376.2 338ZM374.3 337.1 374.1 336.6 372.9 337.7 372.4 331.8 376.7 336 375.1 336.1 375.3 336.6ZM373.5 335.6 373.3 335.1 372.1 336.3 371.7 330.2 376 334.5 374.3 334.6 374.6 335.2ZM372.9 334.1 372.6 333.6 371.5 334.8 371 328.5 375.4 333 373.7 333.1 374 333.7ZM372.4 332.6 372.1 332 370.9 333.2 370.6 326.8 375 331.5 373.2 331.5 373.5 332.1ZM372 331 371.8 330.4 370.5 331.6 370.2 325 374.7 329.9 372.9 329.9 373.2 330.5ZM371.8 329.4 371.5 328.7 370.2 330 370 323.1 374.6 328.3 372.7 328.3 373 328.9ZM371.7 327.7 371.4 327.1 370 328.4 370 321.2 374.6 326.6 372.7 326.6 372.9 327.3ZM371.7 326.1 371.5 325.4 370 326.7 370.1 319.3 374.8 325 372.8 325 373 325.6ZM371.9 324.5 371.7 323.8 370.1 325.1 370.3 317.4 375.1 323.4 373 323.3 373.3 324ZM372.2 322.9 372 322.1 370.3 323.5 370.7 315.5 375.6 321.8 373.4 321.7 373.6 322.4ZM372.7 321.3 372.4 320.4 370.7 321.7 371.2 313.7 376.1 320.1 373.9 320 374.1 320.9ZM373.3 319.8 373 318.6 371.2 319.9 371.8 311.9 376.6 318.4 374.4 318.2 374.8 319.4ZM374.1 318.3 373.7 316.9 371.9 318.2 372.6 310.1 377.3 316.7 375.1 316.5 375.5 318ZM375 317 374.5 315.3 372.7 316.6 373.5 308.5 378.1 315.1 376 314.9 376.4 316.6ZM375.9 315.7 375.5 313.8 373.7 315.1 374.5 307 379.1 313.7 376.9 313.4 377.4 315.3ZM377.1 314.5 376.5 312.4 374.7 313.7 375.5 305.6 380.2 312.3 378 312 378.5 314.1ZM378.3 313.4 377.7 311.1 375.9 312.4 376.7 304.4 381.3 311 379.1 310.8 379.7 313ZM379.5 312.4 378.9 310 377.2 311.3 377.9 303.3 382.6 309.9 380.4 309.7 381 312ZM380.9 311.5 380.3 309.1 378.5 310.4 379.2 302.3 383.9 308.9 381.7 308.7 382.4 311.1ZM382.4 310.8 381.7 308.3 379.9 309.6 380.6 301.6 385.3 308.1 383.1 307.9 383.8 310.4ZM383.9 310.1 383.2 307.7 381.4 309 382 301 386.8 307.5 384.6 307.3 385.3 309.7ZM385.4 309.7 384.7 307.2 383 308.6 383.4 300.5 388.3 307 386.1 306.8 386.9 309.2ZM387 309.3 386.3 307 384.6 308.4 384.8 300.3 389.9 306.6 387.7 306.5 388.5 308.8ZM388.7 309.1 387.9 306.8 386.2 308.3 386.3 300.2 391.5 306.4 389.3 306.3 390.1 308.6ZM390.3 288.2 388.3 280.9 386.5 282.2 387.3 274.1 392 280.8 389.8 280.5 391.7 287.8ZM393.7 288.4 391.6 281.6 389.9 283 390.4 274.9 395.3 281.3 393.1 281.2 395.2 287.9ZM397.2 288.9 394.9 282.7 393.3 284.2 393.3 276.1 398.6 282.3 396.4 282.2 398.6 288.3ZM400.5 289.6 398.2 284.2 396.6 285.7 396.2 277.6 401.8 283.5 399.6 283.6 401.9 289.1ZM403.8 290.7 401.4 285.9 399.9 287.6 399 279.5 404.9 285 402.7 285.3 405.2 290ZM407.1 292.1 404.5 287.9 403.2 289.7 401.7 281.7 408 286.8 405.8 287.2 408.3 291.3ZM410.1 293.7 407.6 290.2 406.4 292 404.2 284.2 410.9 288.7 408.8 289.3 411.4 292.9ZM413.1 295.6 410.5 292.6 409.5 294.5 406.7 286.9 413.8 290.9 411.7 291.6 414.2 294.7ZM415.8 297.8 413.3 295.1 412.4 297.1 409.1 289.7 416.4 293.2 414.4 294.1 416.9 296.7ZM418.4 300.1 415.9 297.8 415.1 299.9 411.4 292.7 418.9 295.7 416.9 296.7 419.4 299ZM420.8 302.7 418.3 300.7 417.6 302.7 413.6 295.7 421.2 298.4 419.3 299.5 421.7 301.5ZM422.9 305.4 420.6 303.6 419.9 305.7 415.6 298.9 423.4 301.3 421.5 302.4 423.8 304.3ZM424.8 308.4 422.5 306.7 422 308.8 417.5 302.1 425.3 304.3 423.4 305.5 425.7 307.1ZM426.4 311.4 424.3 309.9 423.7 312 419.2 305.3 427 307.5 425.2 308.7 427.2 310.2ZM427.7 314.6 425.8 313.2 425.2 315.3 420.7 308.5 428.5 310.8 426.7 312 428.6 313.4ZM428.7 317.9 427 316.5 426.3 318.7 422 311.8 429.7 314.2 427.9 315.4 429.6 316.7ZM429.4 321.2 427.9 320 427.2 322.1 423 315.1 430.7 317.7 428.8 318.8 430.4 320.1ZM429.9 324.6 428.5 323.4 427.7 325.5 423.8 318.4 431.4 321.3 429.4 322.3 430.8 323.5ZM430 328 428.8 326.9 427.9 328.9 424.3 321.7 431.8 324.8 429.8 325.8 431 327ZM429.8 331.5 428.7 330.4 427.8 332.4 424.5 325 431.8 328.5 429.8 329.3 430.9 330.4ZM429.3 334.9 428.4 333.9 427.4 335.8 424.5 328.3 431.6 332.1 429.6 332.9 430.5 333.9ZM428.6 338.2 427.8 337.3 426.8 339.2 424.1 331.6 431.1 335.7 429 336.3 429.7 337.2ZM427.5 341.5 426.9 340.7 425.8 342.6 423.4 334.8 430.2 339.2 428.1 339.8 428.7 340.6ZM426.2 344.6 425.7 344 424.5 345.8 422.5 338 429.1 342.6 427 343.1 427.4 343.8ZM424.6 347.6 424.2 347 422.9 348.7 421.2 341.1 427.5 345.8 425.4 346.2 425.8 346.9ZM422.8 350.5 422.4 349.9 421.1 351.5 419.6 344 425.6 348.8 423.6 349.1 424 349.8ZM420.7 353.2 420.3 352.6 419.1 354.2 417.7 346.9 423.5 351.6 421.5 351.9 421.8 352.5ZM418.4 355.8 418 355.1 416.8 356.7 415.6 349.6 421.1 354.2 419.2 354.5 419.5 355.1ZM415.8 358.1 415.5 357.5 414.3 359 413.1 352.1 418.5 356.6 416.6 356.8 417 357.4ZM413.1 360.2 412.8 359.6 411.6 361 410.5 354.3 415.7 358.7 413.9 359 414.2 359.5ZM410.2 362 409.9 361.5 408.8 362.9 407.6 356.3 412.7 360.6 410.9 360.8 411.3 361.4ZM407.2 363.6 406.9 363.1 405.8 364.4 404.6 358.1 409.6 362.2 407.9 362.4 408.2 363ZM404 364.9 403.7 364.4 402.6 365.7 401.5 359.5 406.4 363.5 404.7 363.8 405 364.3ZM400.7 365.9 400.4 365.4 399.4 366.7 398.3 360.7 403.1 364.6 401.4 364.8 401.7 365.4ZM397.4 366.7 397.1 366.2 396.1 367.5 395 361.5 399.7 365.3 398 365.6 398.3 366.1ZM394 367.1 393.7 366.6 392.7 367.9 391.6 362 396.2 365.8 394.6 366.1 394.9 366.6ZM390.5 367.3 390.2 366.8 389.2 368 388.2 362.2 392.8 366 391.2 366.2 391.5 366.7ZM387.1 367.1 386.8 366.6 385.8 367.8 385.1 362.2 389.3 365.9 387.8 366.1 388 366.6ZM383.7 366.6 383.4 366.1 382.4 367.2 381.9 361.7 385.9 365.6 384.4 365.7 384.6 366.2ZM380.3 365.9 380.1 365.4 379.1 366.4 378.8 361 382.5 364.9 381 365 381.2 365.5ZM377 364.8 376.8 364.3 375.8 365.3 375.7 360 379.2 364 377.8 364 377.9 364.4ZM373.8 363.4 373.7 363 372.6 363.9 372.8 358.6 376 362.7 374.6 362.7 374.8 363.1ZM370.8 361.8 370.6 361.3 369.5 362.2 369.9 356.9 373 361.2 371.6 361.1 371.7 361.6ZM367.9 360 367.7 359.5 366.5 360.3 367.2 355 370.1 359.5 368.7 359.2 368.8 359.7ZM365.1 357.8 365 357.3 363.8 358.1 364.7 352.7 367.5 357.4 366 357.1 366.1 357.7ZM362.6 355.5 362.5 354.9 361.1 355.7 362.4 350.2 365 355.2 363.5 354.8 363.6 355.4ZM360.2 352.9 360.1 352.4 358.7 353.1 360.2 347.4 362.8 352.7 361.2 352.3 361.3 352.8ZM358.1 350.2 358 349.6 356.5 350.3 358.3 344.4 360.8 350 359.2 349.5 359.2 350.1ZM356.2 347.3 356.2 346.6 354.5 347.3 356.6 341.1 359 347.2 357.4 346.6 357.4 347.2ZM354.6 344.2 354.6 343.5 352.8 344.2 355.2 337.7 357.6 344.2 355.8 343.5 355.8 344.2ZM353.2 341 353.2 340.3 351.3 341 354 334.1 356.4 341 354.6 340.3 354.6 341ZM352.1 337.7 352.1 336.9 350.1 337.7 353 330.4 355.6 337.8 353.6 337 353.6 337.7ZM351.4 334.3 351.4 333.3 349.3 334 352.3 326.5 354.9 334.2 352.9 333.3 352.8 334.4ZM350.9 330.9 351 329.4 348.9 330.1 351.9 322.6 354.5 330.3 352.5 329.4 352.4 331ZM350.8 327.5 350.8 325.4 348.7 326.1 351.8 318.6 354.3 326.3 352.3 325.5 352.2 327.5ZM350.9 324 351 321.5 348.9 322.2 351.9 314.7 354.5 322.4 352.5 321.5 352.4 324.1ZM351.4 320.6 351.4 317.5 349.4 318.3 352.3 310.8 355 318.4 352.9 317.6 352.8 320.7ZM352.1 317.3 352.2 313.7 350.1 314.5 353 306.9 355.7 314.6 353.7 313.7 353.6 317.3ZM353.1 314 353.2 310 351.1 310.8 354 303.2 356.7 310.8 354.7 310 354.6 314ZM354.5 310.8 354.4 306.4 352.4 307.2 355.2 299.6 358 307.2 355.9 306.4 356 310.8ZM356 307.8 356 302.9 353.9 303.8 356.6 296.1 359.5 303.7 357.5 302.9 357.5 307.7ZM357.9 304.9 357.8 299.7 355.7 300.6 358.4 292.9 361.3 300.4 359.3 299.7 359.4 304.8ZM360 302.1 359.8 296.7 357.8 297.6 360.3 289.9 363.4 297.4 361.3 296.7 361.5 302.1ZM362.3 299.6 362 293.9 360 294.8 362.4 287.1 365.6 294.6 363.5 293.9 363.8 299.5ZM364.9 297.3 364.5 291.4 362.5 292.4 364.8 284.6 368.1 292 366 291.3 366.4 297.2ZM367.6 295.2 367.1 289.2 365.1 290.2 367.3 282.4 370.7 289.7 368.6 289.1 369.1 295.1ZM370.5 293.4 369.9 287.2 367.9 288.3 369.9 280.4 373.5 287.7 371.4 287.1 372 293.2ZM373.6 291.8 372.8 285.6 370.9 286.6 372.7 278.7 376.4 285.9 374.3 285.4 375.1 291.6ZM376.7 290.5 375.8 284.2 373.9 285.3 375.6 277.4 379.4 284.5 377.3 284 378.2 290.3ZM380 289.5 378.9 283.2 377 284.3 378.5 276.4 382.6 283.4 380.4 282.9 381.5 289.2ZM383.4 288.8 382.1 282.5 380.2 283.7 381.4 275.7 385.7 282.6 383.6 282.2 384.9 288.4ZM386.8 288.3 385.3 282.2 383.5 283.5 384.3 275.4 388.9 282.1 386.7 281.8 388.3 288ZM390.3 267.3 389.6 261.6 387.6 262.6 389.5 254.7 393.2 262 391.1 261.4 391.7 267.1ZM395.5 267.6 394.6 263.1 392.8 264.3 394 256.3 398.3 263.2 396.1 262.8 397 267.3ZM400.8 268.4 399.7 265.3 398 266.8 398.2 258.7 403.3 264.9 401.1 264.8 402.2 267.9ZM406 269.6 405 268 403.6 269.7 402.2 261.7 408.5 266.9 406.3 267.2 407.3 268.9ZM411.1 271.4 410.4 270.6 409.5 272.7 406 265.3 413.4 268.7 411.4 269.6 412.1 270.3ZM416.2 273.5 415.4 273.2 415.3 275.4 409.7 269.5 417.7 270.3 416.1 271.8 416.8 272.2ZM421 276 419.8 275.8 420.3 278 413.2 274.1 421.1 272.4 420 274.4 421.3 274.5ZM425.7 278.9 423.4 279.1 424.3 281 416.5 279 423.8 275.5 423.2 277.6 425.5 277.4ZM430 282 426.5 283 427.8 284.7 419.7 284.1 426.3 279.3 426.1 281.5 429.6 280.6ZM433.9 285.6 429.4 287.4 431 289 422.9 289.2 428.9 283.8 428.9 286 433.4 284.2ZM437.5 289.4 432.3 291.9 433.9 293.4 425.8 294.2 431.5 288.4 431.6 290.6 436.9 288.1ZM440.7 293.6 435.1 296.4 436.7 297.8 428.7 298.7 434.2 292.8 434.4 295 440.1 292.2ZM443.6 298 437.7 300.9 439.3 302.4 431.3 303.3 436.8 297.4 437 299.6 442.9 296.7ZM446 302.7 440.1 305.7 441.8 307.1 433.7 308.1 439.2 302.1 439.5 304.3 445.3 301.3ZM448 307.5 442.3 310.4 444 311.9 435.9 312.8 441.4 306.9 441.7 309.1 447.3 306.2ZM449.6 312.6 444.3 315.2 446 316.7 437.9 317.6 443.4 311.7 443.7 313.9 448.9 311.2ZM450.7 317.7 446.2 319.8 447.8 321.3 439.7 321.9 445.4 316.2 445.6 318.4 450.1 316.3ZM451.3 322.9 447.8 324.3 449.3 326 441.2 326.1 447.2 320.7 447.2 322.9 450.8 321.5ZM451.5 328.2 449.1 329 450.5 330.7 442.4 330.3 448.8 325.4 448.6 327.6 451.1 326.8ZM451.2 333.5 450 333.8 451.3 335.6 443.3 334.6 450 330.1 449.7 332.3 450.9 332ZM450.5 338.6 449.8 338.7 450.7 340.4 443.8 338.9 450 335.5 449.6 337.4 450.3 337.3ZM449.3 343.6 448.7 343.7 449.3 345.1 443.9 343.4 449.2 341.1 448.7 342.6 449.2 342.6ZM447.6 348.5 447.2 348.5 447.6 349.7 443.5 347.9 447.8 346.6 447.3 347.7 447.7 347.7ZM445.6 353.3 445.3 353.2 445.4 354.1 442.6 352.4 445.9 351.9 445.4 352.6 445.7 352.7ZM443.1 357.9 442.9 357.8 442.9 358.4 441.1 356.8 443.5 356.9 443.1 357.4 443.3 357.4ZM440.3 362.2 440.2 362.1 440.1 362.6 439.1 361.2 440.7 361.6 440.3 361.9 440.5 362ZM437.1 366.3 437 366.2 436.9 366.6 436.4 365.4 437.5 366 437.2 366.1 437.3 366.2ZM433.5 370.2 433.5 370.1 433.2 370.3 433.1 369.1 434 369.9 433.7 370 433.7 370.1ZM429.6 373.7 429.6 373.6 429.3 373.8 429.5 372.5 430.2 373.6 429.8 373.5 429.9 373.7ZM425.5 376.9 425.5 376.8 425.1 376.9 425.5 375.7 426 376.9 425.7 376.8 425.7 376.9ZM421 379.7 421 379.6 420.7 379.7 421.1 378.5 421.6 379.7 421.3 379.6 421.3 379.7ZM416.4 382.2 416.4 382 416 382.2 416.5 381 416.9 382.1 416.6 382 416.6 382.2ZM411.5 384.2 411.5 384 411.2 384.2 411.6 383 412.1 384.2 411.7 384 411.7 384.2ZM406.5 385.7 406.5 385.6 406.2 385.8 406.6 384.5 407 385.7 406.7 385.6 406.7 385.7ZM401.4 386.9 401.3 386.8 401 387 401.2 385.7 401.9 386.8 401.6 386.7 401.6 386.9ZM396.3 387.7 396.1 387.7 396.3 388 395.1 387.6 396.3 387.1 396.1 387.5 396.3 387.5ZM391 387.9 390.9 387.9 391.1 388.2 389.8 388.1 390.9 387.4 390.8 387.7 391 387.7ZM385.7 387.5 385.9 387.5 385.7 387.1 386.9 387.6 385.7 388 385.9 387.7 385.7 387.7ZM380.5 386.8 380.7 386.8 380.5 386.4 381.7 386.9 380.5 387.3 380.7 387 380.5 387ZM375.4 385.6 375.6 385.6 375.4 385.2 377 385.7 375.4 386.3 375.6 385.9 375.4 385.9ZM370.4 384 370.6 383.9 370.3 383.4 372.5 384.1 370.4 384.9 370.6 384.4 370.4 384.4ZM365.5 381.9 365.8 381.9 365.5 381.2 368.2 382 365.6 383.1 365.8 382.4 365.5 382.4ZM360.8 379.4 361.2 379.4 360.7 378.5 364.1 379.4 361 380.9 361.2 380 360.9 380ZM356.4 376.5 356.8 376.5 356.3 375.5 360.2 376.5 356.6 378.3 356.9 377.2 356.5 377.3ZM352.2 373.3 352.6 373.2 352 372.1 356.6 373 352.5 375.3 352.8 374.1 352.3 374.1ZM348.3 369.7 348.8 369.6 348 368.4 353.2 369.2 348.7 371.9 349 370.5 348.5 370.6ZM344.7 365.7 345.2 365.6 344.3 364.3 350.1 365 345.3 368.2 345.5 366.6 344.9 366.8ZM341.4 361.5 342 361.4 341 360 347.3 360.4 342.2 364.2 342.4 362.5 341.8 362.6ZM338.6 357.1 339.2 356.8 338 355.5 344.7 355.5 339.6 359.8 339.6 358 339 358.2ZM336.1 352.4 336.7 352.1 335.4 350.7 342.6 350.3 337.3 355.3 337.3 353.3 336.6 353.6ZM334 347.5 334.7 347.2 333.2 345.8 340.7 344.9 335.5 350.5 335.3 348.4 334.7 348.8ZM332.4 342.5 333.1 342.1 331.3 340.7 339.2 339.3 334.2 345.5 333.8 343.3 333.1 343.7ZM331.2 337.4 332.1 336.7 330.2 335.5 338.1 333.5 333.4 340.1 332.9 338 332 338.6ZM330.5 332.2 331.6 331.3 329.7 330.2 337.3 327.6 333.2 334.5 332.5 332.4 331.4 333.3ZM330.2 326.9 331.5 325.7 329.5 324.8 337 321.7 333.3 328.9 332.5 326.8 331.2 328.1ZM330.4 321.7 331.9 320.1 329.8 319.3 337.1 315.7 333.9 323.2 333 321.2 331.5 322.8ZM331 316.6 332.7 314.6 330.6 313.9 337.6 309.8 334.9 317.5 333.8 315.5 332.2 317.5ZM332.2 311.4 333.9 309.1 331.8 308.5 338.5 304 336.3 311.8 335.1 310 333.4 312.3ZM333.7 306.5 335.5 303.7 333.4 303.2 339.9 298.4 338.1 306.3 336.8 304.5 335 307.3ZM335.7 301.6 337.6 298.4 335.4 298.1 341.7 293 340.2 300.9 338.9 299.2 337 302.4ZM338.1 297 340 293.4 337.9 293.1 343.9 287.7 342.8 295.7 341.4 294.1 339.4 297.7ZM340.9 292.6 342.9 288.5 340.7 288.3 346.5 282.7 345.8 290.7 344.3 289.1 342.3 293.2ZM344.1 288.4 346.1 283.8 343.9 283.8 349.5 277.9 349 286 347.5 284.4 345.5 289ZM347.7 284.6 349.6 279.5 347.4 279.5 352.8 273.4 352.7 281.5 351 280 349.1 285.1ZM351.5 281.1 353.4 275.5 351.2 275.6 356.3 269.3 356.5 277.4 354.9 276 352.9 281.6ZM355.7 277.9 357.5 271.9 355.3 272.1 360.2 265.6 360.7 273.7 358.9 272.3 357.1 278.3ZM360.1 275.1 361.8 268.7 359.6 268.9 364.2 262.3 365 270.3 363.2 269 361.6 275.5ZM364.8 272.7 366.2 265.8 364.1 266.2 368.4 259.3 369.5 267.4 367.7 266.1 366.2 273ZM369.6 270.7 370.8 263.5 368.7 263.9 372.7 256.9 374.2 264.9 372.3 263.7 371.1 271ZM374.6 269.2 375.5 261.7 373.4 262.3 377 255.1 378.9 262.9 377 261.9 376.1 269.3ZM379.8 268.1 380.2 260.7 378.1 261.4 381.3 253.9 383.7 261.7 381.7 260.8 381.3 268.2ZM385 267.4 384.9 260.4 382.8 261.2 385.5 253.6 388.4 261.1 386.4 260.4 386.5 267.4ZM390.3 246.5 389.2 238.9 387.3 240 389 232.1 392.8 239.2 390.7 238.7 391.7 246.3ZM397.3 246.9 395.9 241.1 394.1 242.3 395 234.3 399.5 241 397.4 240.7 398.8 246.5ZM404.4 247.9 402.8 244.2 401.2 245.7 400.7 237.7 406.3 243.5 404.1 243.6 405.8 247.3ZM411.4 249.6 409.9 247.9 408.9 249.8 406.2 242.1 413.2 246.2 411.1 246.9 412.6 248.7ZM418.4 252 417.2 251.3 417 253.5 411.4 247.6 419.4 248.5 417.8 250 419.1 250.6ZM425.3 254.7 423.2 254.7 423.9 256.8 416.4 253.9 424 251.2 423.2 253.2 425.3 253.2ZM431.8 258 427.8 259.3 429.2 261 421.1 260.8 427.4 255.7 427.3 257.9 431.3 256.6ZM437.9 261.7 432 264.7 433.6 266.1 425.6 267 431.1 261.1 431.3 263.3 437.2 260.4ZM443.5 266 436.3 269.7 437.9 271.2 429.9 272.2 435.3 266.2 435.6 268.4 442.8 264.7ZM448.7 270.8 440.3 275.2 441.9 276.7 433.9 277.7 439.3 271.7 439.6 273.9 448 269.5ZM453.5 276 444.1 281 445.7 282.4 437.7 283.5 443.1 277.5 443.4 279.7 452.8 274.7ZM457.8 281.6 447.6 287 449.3 288.4 441.2 289.5 446.6 283.5 446.9 285.7 457.1 280.3ZM461.6 287.6 450.9 293.2 452.5 294.6 444.5 295.6 450 289.7 450.2 291.8 460.9 286.3ZM464.8 293.9 453.9 299.5 455.6 300.9 447.5 301.9 453 295.9 453.3 298.1 464.2 292.6ZM467.5 300.4 456.8 305.8 458.4 307.3 450.3 308.2 455.9 302.3 456.1 304.5 466.9 299.1ZM469.7 307.2 459.4 312.2 461 313.7 452.9 314.5 458.5 308.6 458.7 310.8 469 305.8ZM471.2 314.1 461.7 318.5 463.3 320 455.3 320.7 461 315 461.1 317.2 470.5 312.7ZM472.1 321.1 463.9 324.9 465.4 326.4 457.4 327 463.1 321.3 463.2 323.5 471.5 319.7ZM472.4 328.2 465.7 331.1 467.2 332.7 459.1 333.2 465 327.6 465.1 329.8 471.8 326.8ZM472 335.3 467.2 337.1 468.6 338.7 460.5 338.7 466.7 333.5 466.7 335.7 471.5 333.9ZM471.1 342.3 468.2 343.1 469.5 344.9 461.4 344.2 468 339.5 467.8 341.7 470.7 340.9ZM469.5 349.2 468.6 349.4 469.7 351.3 461.8 349.9 468.7 345.8 468.3 347.9 469.2 347.8ZM467.3 355.8 466.6 355.9 467.4 357.4 461.4 355.7 467 353.1 466.6 354.7 467.2 354.7ZM464.5 362.2 464 362.2 464.4 363.3 460.3 361.6 464.6 360.2 464.1 361.3 464.5 361.4ZM461.2 368.3 460.9 368.3 461 369.1 458.4 367.5 461.5 367 461 367.7 461.3 367.8ZM457.4 374.2 457.2 374.1 457.1 374.7 455.7 373.2 457.7 373.4 457.3 373.8 457.5 373.8ZM453 379.7 452.9 379.6 452.8 380 452.2 378.8 453.4 379.3 453.1 379.4 453.2 379.5ZM448.2 384.9 448.2 384.8 448 385.1 447.7 383.8 448.7 384.6 448.4 384.7 448.4 384.8ZM443 389.7 443 389.5 442.7 389.7 442.8 388.5 443.6 389.5 443.2 389.5 443.2 389.6ZM437.4 393.9 437.4 393.8 437.1 394 437.4 392.7 438 393.9 437.6 393.8 437.6 393.9ZM431.4 397.7 431.4 397.6 431.1 397.7 431.5 396.5 432 397.7 431.7 397.6 431.7 397.7ZM425.2 401 425.1 400.9 424.8 401 425.2 399.8 425.7 401 425.4 400.9 425.4 401ZM418.6 403.7 418.6 403.6 418.3 403.8 418.4 402.6 419.2 403.6 418.8 403.6 418.9 403.7ZM411.9 405.9 411.8 405.9 411.8 406.2 410.9 405.4 412.2 405.4 411.9 405.7 412 405.7ZM405.1 407.5 405 407.5 405.2 407.8 403.9 407.7 405 406.9 404.9 407.3 405.1 407.3ZM398.1 408.4 398 408.4 398.2 408.7 396.9 408.7 397.9 407.9 397.9 408.2 398 408.2ZM391 408.7 390.9 408.7 391.1 409 389.8 408.9 390.9 408.2 390.8 408.5 391 408.5ZM384 408.2 384.1 408.2 384 407.9 385.1 408.6 383.8 408.7 384 408.4 383.9 408.4ZM376.9 407.2 377 407.2 376.9 406.9 378.1 407.4 376.9 407.8 377 407.5 376.9 407.5ZM370 405.7 370.1 405.7 370 405.4 371.2 405.7 370.1 406.3 370.1 405.9 370 406ZM363.2 403.6 363.4 403.6 363.2 403.2 364.6 403.5 363.3 404.2 363.4 403.8 363.3 403.8ZM356.7 400.8 356.9 400.8 356.6 400.4 358.4 400.6 356.9 401.6 356.9 401.1 356.8 401.2ZM350.4 397.5 350.6 397.5 350.2 397 352.6 397.1 350.7 398.5 350.7 397.9 350.5 397.9ZM344.4 393.7 344.7 393.6 344.2 393 347 393 344.8 394.9 344.8 394.1 344.6 394.2ZM338.7 389.3 339.1 389.2 338.4 388.5 341.8 388.4 339.3 390.7 339.3 389.8 339 389.9ZM333.5 384.5 333.8 384.4 333.1 383.6 336.9 383.2 334.3 386.1 334.2 385 333.8 385.2ZM328.7 379.3 329 379.1 328.1 378.3 332.4 377.6 329.6 380.9 329.5 379.8 329.1 380ZM324.3 373.6 324.7 373.4 323.6 372.6 328.4 371.5 325.5 375.4 325.2 374.1 324.8 374.4ZM320.5 367.6 320.9 367.3 319.7 366.5 324.9 365.1 321.9 369.6 321.5 368.1 321.1 368.5ZM317.2 361.3 317.6 361 316.2 360.2 321.9 358.3 318.8 363.4 318.3 361.8 317.8 362.2ZM314.4 354.8 314.9 354.3 313.3 353.5 319.6 351.2 316.3 357 315.7 355.3 315.2 355.7ZM312.2 348 312.7 347.5 310.9 346.6 317.8 343.8 314.4 350.4 313.7 348.5 313.1 349ZM310.6 341 311.2 340.4 309.2 339.5 316.6 336.3 313.1 343.6 312.3 341.5 311.7 342.1ZM309.7 334.1 310.7 333 308.6 332.2 315.9 328.6 312.7 336 311.7 334 310.8 335.1ZM309.3 327 310.6 325.5 308.5 324.8 315.7 320.9 312.8 328.5 311.7 326.5 310.5 328ZM309.6 320 311.1 318.1 309 317.5 315.9 313.3 313.4 320.9 312.3 319 310.8 320.9ZM310.5 313 312.1 310.8 310 310.2 316.8 305.7 314.5 313.5 313.3 311.7 311.7 313.9ZM312 306.1 313.7 303.7 311.5 303.2 318.2 298.5 316.2 306.4 314.9 304.5 313.3 306.9ZM314.2 299.4 315.7 296.9 313.6 296.5 320.1 291.7 318.3 299.6 317 297.8 315.4 300.2ZM316.9 292.8 318.4 290.5 316.2 290 322.6 285.1 320.9 293.1 319.6 291.3 318.1 293.6ZM320.1 286.6 321.7 284.1 319.5 283.7 325.9 278.7 324.3 286.6 322.9 284.8 321.4 287.3ZM323.9 280.6 325.6 277.5 323.4 277.2 329.6 271.9 328.4 279.9 326.9 278.2 325.2 281.3ZM328.2 275.1 330.1 270.7 327.9 270.6 333.6 264.8 333 272.9 331.5 271.3 329.6 275.7ZM332.9 269.9 335.1 264.1 332.9 264.1 338.1 257.9 338.1 266 336.5 264.6 334.4 270.4ZM338.2 265.2 340.3 257.9 338.1 258.1 343 251.6 343.5 259.7 341.8 258.3 339.6 265.6ZM343.8 260.9 345.9 252.4 343.7 252.7 348.3 246 349.1 254 347.3 252.8 345.2 261.2ZM349.7 257.1 351.7 247.7 349.5 248.1 353.8 241.2 355 249.2 353.1 248 351.2 257.4ZM356 253.9 357.7 243.5 355.6 244 359.6 236.9 361.1 244.9 359.2 243.8 357.5 254.1ZM362.5 251.2 364 239.9 361.8 240.4 365.6 233.2 367.4 241.1 365.4 240 364 251.4ZM369.3 249.1 370.3 237.2 368.1 237.9 371.6 230.5 373.7 238.3 371.7 237.4 370.8 249.2ZM376.2 247.6 376.6 235.9 374.5 236.6 377.5 229.1 380.1 236.8 378.1 235.9 377.7 247.7ZM383.2 246.7 382.8 235.8 380.8 236.6 383.4 228.9 386.4 236.4 384.3 235.7 384.7 246.7ZM390.3 225.8 389.6 218.4 387.6 219.4 389.7 211.6 393.2 218.9 391.1 218.3 391.7 225.6ZM399.1 226.2 398.2 220.1 396.3 221.2 397.8 213.3 401.8 220.4 399.6 219.9 400.6 226ZM408 227.4 406.8 223.1 405 224.4 405.8 216.3 410.4 222.9 408.2 222.7 409.4 227.1ZM416.7 229.5 415.6 227 414 228.6 413.4 220.5 419.1 226.3 416.9 226.4 418 228.9ZM425.2 232.3 424.6 231.5 423.5 233.4 420.9 225.7 427.8 229.9 425.7 230.5 426.4 231.4ZM433.7 235.8 433 235.5 432.7 237.5 428 231.8 435.3 233 433.7 234.3 434.4 234.6ZM441.8 240 441.1 240 441.6 242 434.7 238.5 442.2 236.7 441.2 238.5 442 238.6ZM449.5 244.8 447.9 245.2 449.1 247 441.1 245.7 448 241.5 447.6 243.7 449.3 243.4ZM456.7 250.2 453.7 251.4 455.2 253 447.1 253.2 453.1 247.8 453.1 250 456.2 248.8ZM463.3 256.2 459 258.4 460.7 259.8 452.6 260.8 458.1 254.9 458.3 257.1 462.6 254.8ZM469.3 262.7 464.2 265.3 465.9 266.8 457.8 267.7 463.4 261.8 463.6 264 468.6 261.4ZM474.7 269.8 469 272.6 470.6 274.1 462.6 274.9 468.2 269 468.4 271.2 474.1 268.4ZM479.5 277.3 473.4 280.2 474.9 281.7 466.9 282.4 472.6 276.6 472.7 278.8 478.8 275.9ZM483.6 285.2 477.2 288 478.8 289.6 470.7 290.2 476.5 284.5 476.6 286.7 483 283.8ZM487 293.4 480.7 296.1 482.3 297.7 474.2 298.2 480 292.5 480.1 294.7 486.4 292ZM489.6 301.8 483.7 304.3 485.3 305.9 477.2 306.3 483.1 300.8 483.2 303 489 300.5ZM491.5 310.5 486.4 312.6 487.9 314.2 479.8 314.4 485.8 309 485.8 311.2 491 309.1ZM492.7 319.3 488.5 320.7 490 322.4 481.9 322.2 488.2 317.1 488.1 319.3 492.2 317.9ZM493 328.2 490.2 329 491.5 330.8 483.4 330.1 490 325.4 489.8 327.6 492.6 326.8ZM492.6 337.1 491.2 337.4 492.4 339.2 484.4 338.1 491.2 333.8 490.8 335.9 492.3 335.6ZM491.4 345.8 490.6 345.9 491.6 347.6 484.6 346.2 490.9 342.7 490.5 344.6 491.2 344.5ZM489.4 354.4 488.8 354.4 489.5 355.8 484 354.2 489.2 351.9 488.7 353.4 489.3 353.3ZM486.7 362.7 486.2 362.7 486.6 363.8 482.6 362.2 486.7 360.8 486.2 361.9 486.7 361.9ZM483.2 370.8 482.9 370.8 483.1 371.6 480.3 370.1 483.4 369.4 483 370.2 483.3 370.2ZM479.1 378.6 478.9 378.5 478.9 379.1 477.2 377.8 479.4 377.7 479 378.1 479.2 378.2ZM474.3 386 474.2 385.9 474.1 386.4 473.1 385.2 474.6 385.4 474.3 385.7 474.5 385.8ZM468.9 393 468.8 392.9 468.7 393.3 468.1 392.2 469.3 392.6 469 392.8 469.1 392.8ZM462.9 399.6 462.8 399.5 462.7 399.8 462.2 398.6 463.3 399.2 463 399.3 463.1 399.4ZM456.4 405.6 456.3 405.5 456.2 405.8 455.5 404.8 456.7 405.1 456.4 405.3 456.5 405.4ZM449.4 411 449.2 411 449.3 411.3 448.2 410.7 449.5 410.5 449.3 410.7 449.4 410.8ZM441.9 415.8 441.8 415.8 441.9 416.1 440.7 415.8 441.9 415.2 441.8 415.6 441.9 415.5ZM434.1 419.9 433.9 419.9 434.1 420.2 432.9 420.1 433.9 419.3 433.9 419.7 434 419.6ZM425.9 423.3 425.7 423.3 426 423.6 424.7 423.5 425.7 422.7 425.7 423.1 425.8 423ZM417.4 426 417.2 426.1 417.6 426.6 415.3 426.5 417.1 425.1 417.1 425.7 417.3 425.6ZM408.8 428.1 408.4 428.2 409.1 429.1 405.1 429 408.2 426.4 408.2 427.5 408.6 427.4ZM400 429.4 399.5 429.6 400.5 430.9 394.5 430.6 399.3 426.9 399.1 428.6 399.7 428.4ZM391.1 429.9 390.5 430.1 391.5 431.7 384.6 430.8 390.5 426.9 390.2 428.8 390.9 428.7ZM382.2 429.6 381.5 429.7 382.4 431.4 375.5 429.7 381.8 426.5 381.3 428.3 382 428.3ZM373.3 428.4 372.6 428.4 373.3 430.3 366.4 427.8 373.3 425.2 372.6 427.1 373.3 427.1ZM364.6 426.5 363.8 426.4 364.3 428.5 357.5 424.9 365 423.2 364 425 364.7 425.1ZM356 423.9 355.3 423.7 355.5 425.7 349.2 421.4 356.8 420.6 355.6 422.3 356.4 422.5ZM347.7 420.4 347 420.2 347.1 422.2 341.2 417.2 348.9 417.3 347.5 418.8 348.2 419.1ZM339.8 416.3 339.1 416 339 418 333.7 412.5 341.2 413.3 339.7 414.7 340.4 415ZM332.2 411.5 331.6 411.1 331.2 413.1 326.7 407.1 334 408.7 332.4 409.9 333 410.3ZM325.1 406 324.6 405.5 323.9 407.4 320.3 400.9 327.3 403.5 325.5 404.5 326 405ZM318.5 399.9 318 399.4 317.1 401.2 314.4 394.3 320.9 397.8 319 398.5 319.5 399ZM312.5 393.3 312.1 392.7 310.9 394.4 309.1 387.3 315.1 391.5 313.2 392 313.6 392.6ZM307 386.2 306.7 385.6 305.4 387 304.5 379.9 309.8 384.7 307.9 384.9 308.2 385.6ZM302.2 378.6 302 378 300.5 379.3 300.4 372.1 305.2 377.5 303.2 377.5 303.5 378.2ZM298.1 370.7 297.9 370 296.2 371.1 297.1 363.8 301.2 369.9 299.2 369.6 299.4 370.4ZM294.6 362.4 294.5 361.6 292.6 362.5 294.9 354.8 298.1 362.2 296 361.5 296.1 362.3ZM291.9 353.7 292.2 352.1 290 352.6 293.8 345.4 295.6 353.4 293.6 352.3 293.4 353.9ZM290 345 290.8 342.4 288.6 342.5 293.6 336.1 294 344.2 292.3 342.8 291.5 345.4ZM288.9 336.1 290.4 332.8 288.2 332.7 294 327 293.3 335.1 291.8 333.5 290.3 336.7ZM288.6 327.1 290.6 323.6 288.4 323.3 294.7 318.1 293.3 326.1 291.9 324.4 289.8 327.9ZM289 318.2 291.3 314.8 289.1 314.3 295.7 309.6 293.8 317.4 292.5 315.6 290.2 319ZM290.2 309.4 292.6 306.2 290.5 305.6 297.4 301.3 294.9 309 293.8 307.2 291.3 310.3ZM292.1 300.6 294.5 298 292.4 297.3 299.6 293.5 296.6 301 295.6 299.1 293.2 301.7ZM294.8 292.1 296.9 290.1 294.9 289.2 302.4 286 298.8 293.3 298 291.2 295.9 293.2ZM298.3 283.9 300.2 282.4 298.2 281.3 305.9 278.7 301.8 285.6 301.1 283.5 299.2 285.1ZM302.4 276 304.3 274.7 302.5 273.4 310.4 271.4 305.7 278 305.2 275.9 303.3 277.2ZM307.2 268.5 309 267.4 307.2 266.1 315.1 264.4 310.2 270.8 309.8 268.6 308 269.7ZM312.6 261.4 313.7 260.7 311.8 259.5 319.7 257.5 315 264.1 314.5 262 313.4 262.7ZM318.5 255 319.1 254.5 317.2 253.5 324.5 250.6 320.8 257.5 320.1 255.5 319.5 256.1ZM325 249.1 325.4 248.5 323.4 247.9 330 243.6 327.8 251.1 326.6 249.3 326.2 250ZM331.9 243.8 332.5 242.7 330.3 242.5 336.3 237 335.3 245 333.8 243.4 333.3 244.5ZM339.4 239 340.1 237.5 337.9 237.5 343.4 231.6 343 239.7 341.4 238.1 340.8 239.6ZM347.3 235 348.1 232.4 346 232.5 351 226.2 351.3 234.3 349.6 232.8 348.7 235.5ZM355.4 231.7 356.5 226.2 354.3 226.7 358.5 219.7 359.8 227.7 357.9 226.5 356.9 232ZM363.9 229.1 364.6 221 362.5 221.6 366 214.3 368.1 222.1 366.1 221.1 365.4 229.2ZM372.6 227.2 372.8 218.1 370.7 218.9 373.7 211.4 376.3 219 374.3 218.2 374.1 227.3ZM381.4 226.1 381.2 217.4 379.1 218.2 381.7 210.5 384.7 218.1 382.7 217.3 382.9 226.1ZM390.3 204.8 391.6 196.9 389.4 197.3 393.4 190.3 394.9 198.2 393 197.1 391.7 205ZM400.9 205.2 402.2 198.1 400 198.5 404 191.5 405.5 199.5 403.6 198.3 402.4 205.5ZM411.6 206.6 412.7 200.4 410.5 200.9 414.7 193.9 416 201.9 414.2 200.7 413 206.9ZM422 208.9 423 204 420.9 204.3 425.2 197.5 426.4 205.5 424.5 204.3 423.5 209.2ZM432.2 212.1 433.1 208.6 430.9 208.8 435.4 202.1 436.3 210.2 434.5 208.9 433.7 212.5ZM442.1 216.2 442.7 214.1 440.5 214.3 445.2 207.7 445.9 215.8 444.1 214.5 443.5 216.6ZM451.6 221.1 451.8 220.3 449.7 220.5 454.6 214.1 454.9 222.2 453.3 220.8 453 221.6ZM460.8 226.9 461 226.3 459.3 226.3 463.4 221.5 463.4 227.8 462.1 226.7 461.9 227.3ZM469.4 233.4 469.6 233 468.3 233 471.4 229.6 471.3 234.2 470.4 233.3 470.2 233.7ZM477.4 240.7 477.5 240.4 476.8 240.4 478.7 238.3 478.6 241.2 478.1 240.6 477.9 240.9ZM484.8 248.7 484.8 248.5 484.4 248.6 485.3 247.2 485.5 248.8 485.1 248.6 485.1 248.7ZM491.3 257.2 491.3 257.1 491 257.3 491.2 256 491.9 257.1 491.5 257 491.5 257.2ZM497.1 266.3 497 266.3 497 266.6 496.1 265.7 497.3 265.8 497.1 266 497.2 266.1ZM502.2 275.8 502.1 275.9 502.3 276.1 501.1 276.2 501.9 275.3 501.9 275.6 502.1 275.6ZM506.3 285.7 506.2 285.7 506.5 285.9 505.2 286.3 505.9 285.2 506 285.5 506.1 285.5ZM509.5 295.9 509.4 296 509.7 296.2 508.2 296.6 509.1 295.3 509.2 295.7 509.3 295.6ZM511.8 306.4 511.7 306.5 512.1 306.8 510.2 307.1 511.4 305.6 511.5 306.2 511.6 306.1ZM513.2 317 513.1 317.1 513.5 317.4 511.5 317.7 512.8 316.2 512.9 316.8 513 316.7ZM513.7 327.7 513.5 327.7 513.9 328.1 512.1 328.3 513.3 326.9 513.4 327.4 513.5 327.3ZM513.2 338.3 513.1 338.4 513.5 338.7 511.7 339.1 512.8 337.7 512.9 338.1 513 338ZM511.8 348.9 511.7 349 512.1 349.3 510.3 349.8 511.4 348.3 511.5 348.8 511.6 348.6ZM509.5 359.4 509.4 359.5 509.9 359.8 508 360.5 509 358.7 509.1 359.2 509.3 359.1ZM506.4 369.6 506.2 369.7 506.7 370 504.7 370.9 505.7 368.9 505.9 369.4 506.1 369.3ZM502.3 379.5 502.1 379.6 502.7 379.9 500.5 380.9 501.5 378.7 501.8 379.3 502 379.2ZM497.3 389 497.2 389.1 497.8 389.4 495.5 390.4 496.6 388.2 496.8 388.8 497 388.6ZM491.6 398 491.4 398.2 492.1 398.5 489.6 399.6 490.8 397.2 491.1 397.8 491.3 397.6ZM485.1 406.5 484.9 406.7 485.7 407.1 482.7 408.4 484.1 405.5 484.5 406.3 484.7 406.1ZM478 414.5 477.6 414.8 478.7 415.3 474.8 416.9 476.7 413.1 477.1 414.2 477.4 413.9ZM470.1 421.8 469.7 422.1 471 422.8 466 424.6 468.6 420 469.1 421.4 469.5 421ZM461.7 428.4 461.2 428.8 462.6 429.7 456.5 431.3 460.1 426.2 460.5 427.8 461 427.5ZM452.6 434.2 452 434.5 453.5 435.7 446.9 436.8 451.1 431.7 451.4 433.5 452 433.1ZM443.1 439.2 442.4 439.5 443.9 440.9 436.5 441.6 441.7 436.3 441.9 438.3 442.5 438ZM433.2 443.4 431.2 444.2 432.7 445.8 424.6 445.9 430.7 440.6 430.7 442.8 432.7 442ZM423 446.6 418.2 448.2 419.6 449.9 411.5 449.6 417.8 444.6 417.7 446.8 422.5 445.2ZM412.5 449 404.5 451.4 405.9 453.1 397.8 452.6 404.3 447.7 404.1 449.9 412.1 447.5ZM401.9 450.4 391.1 453.1 392.4 454.9 384.3 454.1 391 449.5 390.7 451.7 401.5 448.9ZM391.1 450.8 378.9 453 380 454.9 372 453.5 379 449.4 378.6 451.6 390.9 449.4ZM380.4 450.4 368.1 451.4 369.1 453.4 361.3 451.2 368.6 447.8 368 449.9 380.3 448.9ZM369.7 449 358.3 448.8 359.1 450.8 351.5 447.9 359.2 445.2 358.3 447.3 369.7 447.5ZM359.2 446.7 349.2 445.4 349.7 447.6 342.5 443.8 350.4 442 349.4 443.9 359.4 445.2ZM348.9 443.4 340.5 441.5 340.8 443.7 334.1 439.2 342.1 438.2 340.8 440 349.2 442ZM338.9 439.3 331.9 437 332 439.2 325.7 434.1 333.8 433.9 332.4 435.5 339.4 437.9ZM329.4 434.4 323.2 431.7 323.1 433.9 317.3 428.3 325.4 428.7 323.8 430.3 330 433ZM320.3 428.6 314.8 425.5 314.5 427.7 309.3 421.5 317.3 422.8 315.6 424.2 321 427.3ZM311.7 422 307.3 418.6 306.7 420.7 302.3 413.9 310.1 416.3 308.2 417.4 312.6 420.8ZM303.8 414.7 300.2 411.2 299.4 413.2 295.9 405.9 303.3 409.3 301.3 410.2 304.8 413.7ZM296.5 406.8 293.8 403.3 292.6 405.1 290.2 397.4 297 401.7 294.9 402.3 297.7 405.8ZM289.9 398.2 287.8 394.7 286.5 396.4 285 388.5 291.3 393.6 289.1 393.9 291.2 397.4ZM284.1 389.1 282.5 385.5 281 387.1 280.3 379 286 384.7 283.8 384.9 285.5 388.5ZM279.2 379.5 277.9 375.4 276.2 376.7 276.6 368.7 281.5 375.1 279.3 374.9 280.6 379.1ZM275 369.5 274.4 364.3 272.5 365.3 274.4 357.4 278 364.6 275.9 364.1 276.5 369.3ZM271.8 359.2 272.3 352.5 270.2 353.1 273.6 345.8 275.8 353.5 273.8 352.6 273.3 359.3ZM269.5 348.6 271.6 340.5 269.4 340.8 274 334.1 274.9 342.2 273.1 340.9 271 349ZM268.2 337.9 272 328.9 269.8 328.8 275.4 322.9 275 331 273.4 329.5 269.6 338.5ZM267.7 327.1 272.9 318 270.7 317.7 276.9 312.4 275.6 320.4 274.2 318.7 269.1 327.9ZM268.2 316.4 274.1 307.8 271.9 307.3 278.5 302.6 276.6 310.5 275.3 308.6 269.5 317.2ZM269.7 305.7 275.8 298.1 273.7 297.5 280.7 293.3 278.1 301 277 299.1 270.8 306.7ZM272 295.3 278.1 288.8 276.1 288 283.3 284.4 280.2 291.8 279.2 289.8 273.1 296.3ZM275.3 285 281.2 279.6 279.2 278.6 286.8 275.6 283 282.8 282.2 280.7 276.3 286.1ZM279.4 275.1 285.2 270.5 283.4 269.4 291.1 266.9 286.8 273.8 286.2 271.7 280.3 276.3ZM284.4 265.6 290.5 261.5 288.7 260.2 296.5 258.3 291.8 264.9 291.3 262.7 285.2 266.8ZM290.2 256.5 296.1 252.9 294.4 251.5 302.3 250 297.3 256.3 296.9 254.2 291 257.8ZM296.7 248.1 301.7 245 299.9 243.6 307.9 242 302.9 248.4 302.5 246.2 297.5 249.3ZM303.9 240.2 307.6 237.7 305.8 236.4 313.7 234.5 309 241 308.5 238.9 304.7 241.4ZM311.7 233 314.4 230.9 312.5 229.8 320.2 227.4 315.9 234.2 315.3 232.1 312.7 234.2ZM320.2 226.5 322.2 224.8 320.2 223.7 327.8 220.8 323.9 228 323.2 225.9 321.2 227.6ZM329.2 220.8 331 219.1 329 218.2 336.5 215.1 332.8 222.3 332 220.3 330.2 221.9ZM338.7 215.8 340.6 214.1 338.6 213.1 346 209.9 342.4 217.2 341.6 215.2 339.7 216.9ZM348.5 211.8 350.6 209.5 348.6 208.7 355.8 205 352.7 212.5 351.7 210.5 349.6 212.8ZM358.6 208.7 360.9 205.2 358.7 204.7 365.2 199.9 363.4 207.8 362.1 206 359.9 209.5ZM369 206.5 371 201.1 368.8 201.1 374.1 195 374.1 203.1 372.4 201.6 370.4 207ZM379.6 205.2 381 198.7 378.9 199.1 383.2 192.3 384.3 200.3 382.5 199.1 381 205.5ZM390.5 182.8 396 177.9 394.1 176.9 401.6 173.9 397.8 181 397.1 179 391.5 184ZM403.1 183.4 408.7 179 406.8 177.9 414.5 175.4 410.2 182.3 409.6 180.2 404 184.5ZM415.6 185 421.1 181 419.3 179.8 427.1 177.7 422.5 184.4 422 182.3 416.5 186.2ZM427.9 187.7 433.3 184.2 431.5 182.9 439.4 181.1 434.6 187.6 434.1 185.4 428.7 188.9ZM439.9 191.4 445.1 188.4 443.4 187.1 451.3 185.7 446.2 191.9 445.8 189.7 440.7 192.7ZM451.6 196.2 456.5 193.8 454.9 192.3 462.9 191.4 457.3 197.3 457.1 195.1 452.2 197.6ZM462.8 202 467.7 200.1 466.2 198.5 474.3 198.4 468.2 203.7 468.2 201.5 463.3 203.4ZM473.5 208.7 478.2 207.5 476.9 205.7 484.9 206.6 478.3 211.2 478.5 209 473.8 210.2ZM483.5 216.4 487.3 215.9 486.3 214 494.1 215.8 486.9 219.5 487.5 217.4 483.7 217.9ZM492.9 224.9 495.2 224.9 494.5 222.8 502 225.8 494.4 228.4 495.2 226.4 492.9 226.4ZM501.5 234.1 502.3 234.3 501.8 232.1 508.8 236.1 500.9 237.6 502.1 235.7 501.3 235.6ZM509.2 244.2 509.9 244.4 509.7 242.6 515.1 246.7 508.4 247.1 509.5 245.6 508.9 245.4ZM516 254.9 516.6 255.2 516.7 253.5 521.2 257.8 514.9 257.4 516.1 256.2 515.6 256ZM521.9 266.1 522.4 266.4 522.7 264.8 526.4 269.7 520.5 268.4 521.8 267.4 521.3 267.1ZM526.8 277.9 527.2 278.2 527.8 276.9 530.1 282 525 279.6 526.4 279 526 278.6ZM530.6 290 530.9 290.4 531.8 289.4 532.5 294.5 528.6 291 530 290.9 529.8 290.4ZM533.4 302.4 533.5 302.9 534.6 302.2 533.8 307 531.2 302.8 532.6 303 532.5 302.6ZM535 314.9 535 315.4 536.2 314.9 534.6 319.5 532.9 315 534.1 315.4 534.1 314.9ZM535.6 327.5 535.5 328 536.8 327.7 534.6 332.1 533.4 327.3 534.6 327.9 534.6 327.5ZM535 340.1 534.9 340.7 536.3 340.4 533.6 344.9 532.8 339.7 534 340.5 534.1 340ZM533.5 352.7 533.3 353.2 534.9 353.1 531.4 358 530.9 352 532.2 353 532.4 352.4ZM530.8 365 530.6 365.7 532.5 365.6 528 371.1 527.9 364 529.3 365.2 529.6 364.6ZM527.1 377.1 526.7 377.9 528.9 378 523.3 383.8 523.8 375.7 525.4 377.3 525.7 376.5ZM522.3 388.8 521.5 390.2 523.7 390.4 517.6 395.8 518.7 387.8 520.2 389.5 520.9 388ZM516.4 400 515.4 401.5 517.6 401.9 511.1 406.8 512.9 398.9 514.2 400.7 515.2 399.1ZM509.6 410.6 508.4 412.3 510.5 412.9 503.7 417.2 506 409.5 507.2 411.4 508.4 409.7ZM501.9 420.6 500 422.9 502 423.6 494.9 427.4 497.8 419.9 498.8 421.9 500.8 419.6ZM493.4 429.9 490.3 432.9 492.3 433.8 484.9 437.1 488.5 429.8 489.3 431.8 492.4 428.9ZM484.1 438.5 479.7 442 481.6 443.1 474 445.8 478.1 438.8 478.8 440.9 483.2 437.3ZM474.1 446.2 468.4 450 470.2 451.2 462.3 453.1 467.1 446.6 467.6 448.7 473.2 444.9ZM463.4 453 456.9 456.5 458.6 457.9 450.5 459 455.9 452.9 456.2 455.1 462.7 451.6ZM452.2 458.8 444.4 462.1 446 463.6 437.9 464 443.8 458.5 443.8 460.7 451.6 457.4ZM440.5 463.6 430.3 467.1 431.7 468.7 423.6 468.5 429.9 463.4 429.8 465.6 440 462.2ZM428.5 467.4 415.2 471.1 416.5 472.9 408.5 472.3 415 467.5 414.8 469.7 428.1 466ZM416.2 470.1 400 474.1 401.3 475.9 393.3 475 400 470.5 399.7 472.6 415.8 468.7ZM403.7 471.8 385.4 475.4 386.6 477.3 378.6 476 385.5 471.8 385.1 474 403.4 470.3ZM391.1 472.3 371.8 474.9 372.9 476.9 364.9 475.1 372.1 471.3 371.6 473.5 390.9 470.9ZM378.5 471.8 359.5 472.8 360.4 474.8 352.7 472.4 360.1 469.2 359.4 471.3 378.4 470.3ZM365.9 470.2 348.5 469.5 349.2 471.6 341.8 468.5 349.5 466 348.6 468 366 468.7ZM353.6 467.4 338.4 465.4 338.9 467.5 331.8 463.7 339.7 462 338.6 463.9 353.8 465.9ZM341.5 463.6 328.7 460.6 329 462.8 322.3 458.3 330.3 457.3 329.1 459.1 341.9 462.2ZM329.9 458.8 319.1 455 319.1 457.2 312.9 452.1 321 452 319.6 453.6 330.3 457.4ZM318.6 453 309.1 448.6 308.9 450.8 303.2 445 311.3 445.7 309.7 447.2 319.3 451.6ZM308 446.2 299.4 441 299.1 443.1 294 436.8 302 438.4 300.2 439.7 308.7 444.9ZM297.9 438.5 290.8 432.5 290.1 434.6 286 427.6 293.7 430.3 291.7 431.4 298.9 437.3ZM288.6 429.9 282.7 423.5 281.7 425.5 278.7 418 285.9 421.7 283.8 422.5 289.7 428.9ZM280 420.6 275.3 413.8 274.1 415.7 272 407.8 278.7 412.5 276.5 413 281.2 419.7ZM272.3 410.5 268.5 403.4 267.1 405.1 266 397.1 272 402.5 269.9 402.7 273.6 409.8ZM265.5 399.8 262.4 392.3 260.8 393.8 260.5 385.7 266 391.7 263.8 391.7 266.9 399.3ZM259.7 388.6 257.3 380.1 255.6 381.5 256.2 373.4 261 380 258.8 379.7 261.1 388.2ZM254.8 376.9 253.7 366.9 251.8 367.9 253.7 360.1 257.4 367.3 255.2 366.7 256.3 376.7ZM251.1 364.7 251.8 353.1 249.7 353.8 253 346.4 255.3 354.1 253.3 353.2 252.6 364.8ZM248.4 352.3 251.5 339.3 249.4 339.6 253.9 332.8 254.8 340.9 253 339.6 249.8 352.7ZM246.8 339.8 252.4 325.9 250.2 325.9 255.7 319.9 255.4 328 253.8 326.5 248.1 340.3ZM246.2 327.1 253.8 313.5 251.6 313.2 257.8 307.9 256.5 315.9 255.1 314.2 247.6 327.9ZM246.8 314.5 255.4 301.9 253.3 301.4 259.9 296.7 257.9 304.5 256.7 302.7 248.1 315.4ZM248.5 302 257.6 290.8 255.6 290.2 262.5 286.1 259.9 293.7 258.8 291.8 249.7 303ZM251.3 289.7 260.6 280.2 258.5 279.3 265.9 275.8 262.6 283.2 261.6 281.2 252.3 290.7ZM255.1 277.6 264.3 269.7 262.4 268.6 270 265.8 266.1 272.9 265.3 270.8 256.1 278.8ZM260 266 269.2 259.3 267.3 258.1 275.1 255.9 270.6 262.6 270.1 260.5 260.8 267.2ZM265.8 254.8 275.3 249.1 273.5 247.7 281.5 246.2 276.4 252.5 276.1 250.3 266.6 256.1ZM272.6 244.2 281.9 239.3 280.2 237.9 288.2 236.8 282.8 242.8 282.6 240.6 273.3 245.5ZM280.3 234.2 288.2 230.2 286.6 228.8 294.7 227.9 289.1 233.8 288.9 231.6 280.9 235.5ZM288.8 224.9 295 221.8 293.4 220.3 301.5 219.4 295.9 225.3 295.7 223.1 289.4 226.3ZM298 216.4 302.8 214 301.1 212.5 309.1 211.5 303.7 217.5 303.5 215.3 298.7 217.8ZM308 208.8 311.7 206.9 310 205.4 318 204.3 312.6 210.4 312.4 208.2 308.7 210.1ZM318.6 202 321.8 200.4 320.2 199 328.3 198.1 322.7 204 322.5 201.8 319.3 203.4ZM329.8 196.2 333 194.7 331.4 193.2 339.5 192.6 333.8 198.3 333.6 196.1 330.4 197.6ZM341.4 191.4 344.8 189.7 343.2 188.3 351.3 187.4 345.7 193.3 345.5 191.1 342 192.8ZM353.3 187.7 357.1 185.4 355.4 184 363.4 182.6 358.3 188.9 357.9 186.7 354.1 189ZM365.5 185 369.9 181.6 368 180.5 375.8 178 371.5 184.9 370.9 182.8 366.4 186.2ZM377.9 183.4 382.9 179.1 380.9 178 388.5 175.1 384.6 182.3 383.9 180.2 378.9 184.5ZM390.7 159.8 398.5 156.2 396.9 154.7 405 154 399.3 159.8 399.1 157.6 391.3 161.2ZM405.3 160.4 413.5 157.3 412 155.7 420.1 155.6 414 160.9 414 158.7 405.8 161.8ZM419.8 162.3 428.4 159.5 427 157.8 435.1 158.1 428.7 163.1 428.9 160.9 420.2 163.7ZM434 165.5 443 162.8 441.7 161.1 449.8 161.7 443.2 166.5 443.4 164.3 434.4 166.9ZM447.9 169.8 457.3 167.5 456 165.7 464 166.6 457.3 171.1 457.6 169 448.3 171.3ZM461.4 175.4 471 173.5 469.8 171.6 477.8 172.9 470.9 177.1 471.3 175 461.7 176.9ZM474.4 182.1 484.4 180.9 483.3 178.9 491.2 180.7 484 184.5 484.5 182.3 474.6 183.6ZM486.8 190 496.8 189.6 495.9 187.6 503.6 190.2 496.1 193.2 496.9 191.1 486.8 191.5ZM498.4 198.8 507.8 199.6 507.2 197.5 514.5 200.9 506.7 203.1 507.7 201.1 498.3 200.3ZM509.2 208.7 517.4 210.5 517 208.3 523.9 212.6 515.8 213.7 517.1 211.9 508.9 210.1ZM519.2 219.5 525.7 221.8 525.7 219.6 531.9 224.9 523.8 224.9 525.2 223.3 518.7 220.9ZM528.1 231 533.3 233.7 533.5 231.6 538.9 237.6 530.9 236.5 532.6 235.1 527.4 232.4ZM536 243.4 540.4 246.3 540.9 244.2 545.6 250.8 537.8 248.8 539.6 247.6 535.2 244.6ZM542.9 256.4 546.6 259.8 547.4 257.7 551.2 264.8 543.7 261.9 545.6 260.9 541.9 257.5ZM548.5 269.9 551.4 273.7 552.5 271.9 554.8 279.6 548 275.2 550.2 274.6 547.3 270.8ZM553 284 554.8 288.1 556.3 286.6 556.7 294.7 551.2 288.8 553.4 288.7 551.6 284.6ZM556.2 298.4 557 302.8 558.8 301.6 557.4 309.6 553.3 302.6 555.5 303 554.7 298.6ZM558.1 312.9 558.2 317.4 560.2 316.6 557.5 324.2 554.6 316.7 556.7 317.5 556.6 313ZM558.7 327.6 558.3 332 560.5 331.4 557 338.7 554.9 330.9 556.9 331.9 557.3 327.4ZM558.1 342.2 557.3 346.9 559.5 346.5 555.4 353.5 553.9 345.6 555.8 346.7 556.6 341.9ZM556.2 356.7 554.8 362.2 557 362 552.4 368.6 551.5 360.6 553.3 361.9 554.7 356.3ZM553 371 550.8 377.4 553 377.3 547.9 383.6 547.7 375.5 549.4 377 551.6 370.5ZM548.6 384.9 545.5 392.1 547.7 392.2 542 398 542.5 389.9 544.1 391.5 547.2 384.3ZM543 398.4 538.9 405.9 541.1 406.2 535 411.5 536.2 403.4 537.6 405.1 541.7 397.7ZM536.2 411.4 531.4 418.5 533.6 419 527 423.7 528.9 415.8 530.2 417.7 535 410.6ZM528.4 423.8 522.7 430.6 524.8 431.3 517.8 435.3 520.5 427.7 521.6 429.6 527.2 422.8ZM519.5 435.4 512.5 442.3 514.5 443.2 507.2 446.6 510.6 439.3 511.5 441.3 518.4 434.3ZM509.6 446.2 501 453.4 502.9 454.5 495.3 457.2 499.3 450.2 500 452.3 508.6 445ZM498.8 456 488.4 463.3 490.2 464.5 482.4 466.6 487 460 487.5 462.1 497.9 454.8ZM487.2 464.9 475.2 471.9 476.9 473.2 468.9 474.6 474.1 468.4 474.4 470.6 486.4 463.6ZM474.8 472.8 461.6 478.9 463.2 480.4 455.1 481.1 460.8 475.4 461 477.5 474.2 471.4ZM461.8 479.6 447.2 484.9 448.7 486.6 440.6 486.6 446.8 481.3 446.7 483.5 461.3 478.1ZM448.3 485.1 431.8 490.1 433.2 491.8 425.1 491.3 431.6 486.4 431.4 488.6 447.9 483.7ZM434.4 489.5 416.3 494.1 417.5 495.9 409.5 495 416.2 490.4 415.9 492.6 434 488.1ZM420.2 492.7 401.2 496.8 402.4 498.6 394.4 497.5 401.2 493.1 400.9 495.3 419.8 491.2ZM405.7 494.6 386.4 497.9 387.5 499.8 379.6 498.3 386.6 494.3 386.1 496.4 405.4 493.1ZM391.1 495.2 371.8 497.3 372.8 499.3 364.9 497.3 372.2 493.7 371.6 495.8 390.9 493.8ZM376.5 494.6 357.7 495.1 358.5 497.2 350.9 494.6 358.4 491.6 357.6 493.6 376.4 493.1ZM362 492.7 344.6 491.6 345.2 493.7 337.8 490.4 345.6 488.1 344.7 490.1 362 491.2ZM347.7 489.5 332.3 486.9 332.7 489.1 325.7 485.1 333.7 483.6 332.6 485.5 347.9 488.1ZM333.7 485.1 320.5 481.4 320.7 483.6 314.2 478.8 322.2 478.2 320.9 479.9 334.1 483.7ZM320.1 479.5 308.8 474.8 308.7 477 302.8 471.5 310.9 471.9 309.4 473.4 320.7 478.2ZM307.1 472.8 296.9 467.2 296.6 469.3 291.3 463.2 299.3 464.4 297.6 465.8 307.9 471.5ZM294.8 464.9 285.4 458.2 284.9 460.3 280.4 453.6 288.2 455.8 286.3 457 295.7 463.7ZM283.1 456 274.9 448.2 274.1 450.2 270.5 442.9 278 446.1 276 447.1 284.2 454.9ZM272.3 446.1 265.3 437.4 264.2 439.3 261.6 431.6 268.6 435.8 266.5 436.5 273.5 445.1ZM262.4 435.2 256.6 425.9 255.3 427.7 253.6 419.8 260 424.7 257.8 425.1 263.7 434.4ZM253.5 423.6 248.7 413.8 247.2 415.4 246.3 407.3 252.2 412.9 250 413.1 254.9 423ZM245.7 411.3 241.6 400.9 240 402.4 239.9 394.3 245.2 400.4 243 400.4 247.1 410.7ZM238.9 398.3 235.9 387.1 234.1 388.4 234.8 380.3 239.5 386.9 237.3 386.7 240.4 397.9ZM233.3 384.7 231.9 372.1 230 373.1 231.9 365.3 235.5 372.5 233.4 372 234.8 384.5ZM228.9 370.7 229.9 356.7 227.8 357.3 231.1 350 233.4 357.7 231.4 356.8 230.4 370.8ZM225.8 356.3 229.7 341.3 227.5 341.5 232.1 334.9 232.9 342.9 231.1 341.7 227.3 356.7ZM224 341.8 230.8 326.4 228.6 326.3 234.2 320.5 233.7 328.6 232.1 327 225.3 342.4ZM223.4 327.1 232.3 312.3 230.2 311.9 236.5 306.9 235 314.8 233.6 313.1 224.6 327.9ZM224 312.5 234.2 299 232.1 298.4 238.9 294 236.5 301.7 235.4 299.9 225.2 313.4ZM226 298 236.8 286.1 234.7 285.3 241.9 281.6 238.9 289.1 237.9 287.1 227.1 299ZM229.2 283.7 240.2 273.5 238.3 272.6 245.8 269.5 242.1 276.7 241.3 274.6 230.2 284.8ZM233.6 269.8 244.7 261.2 242.8 260.1 250.5 257.6 246.2 264.5 245.6 262.4 234.5 271ZM239.2 256.3 250.3 249.1 248.5 247.8 256.4 246 251.6 252.5 251.1 250.4 240.1 257.6ZM246 243.3 257.3 237.3 255.6 235.8 263.7 234.7 258.3 240.8 258 238.6 246.7 244.7ZM253.9 231 264.9 226 263.3 224.5 271.4 223.8 265.6 229.5 265.5 227.4 254.5 232.4ZM262.8 219.5 272.4 215.4 270.8 213.8 278.9 213.5 273 219 273 216.8 263.4 220.8ZM272.6 208.7 280.5 205.5 278.9 203.9 287 203.6 281.1 209.1 281 206.9 273.2 210.1ZM283.4 198.9 289.6 196.4 288.1 194.8 296.2 194.5 290.2 200 290.1 197.8 283.9 200.3ZM294.9 190 300 188.1 298.5 186.4 306.6 186.4 300.5 191.7 300.6 189.5 295.5 191.4ZM307.3 182.2 311.9 180.7 310.5 179 318.6 179.4 312.2 184.3 312.4 182.1 307.7 183.6ZM320.2 175.4 324.9 174.2 323.6 172.4 331.7 173.1 325.1 177.8 325.3 175.6 320.6 176.9ZM333.7 169.8 338.7 168.5 337.4 166.7 345.4 167.4 338.9 172.1 339.1 169.9 334.1 171.3ZM347.5 165.5 353.1 163.5 351.6 161.9 359.7 162 353.5 167.1 353.6 164.9 348 166.9ZM361.7 162.4 368.1 159.3 366.5 157.8 374.5 157.1 368.9 162.9 368.7 160.7 362.3 163.7ZM376.1 160.5 383.5 156.5 381.8 155.1 389.9 154 384.5 160 384.2 157.8 376.8 161.8ZM390.8 137.7 400.2 134.8 398.9 133.1 406.9 133.6 400.5 138.4 400.7 136.3 391.2 139.1ZM407.3 138.4 417.4 135.9 416.1 134.1 424.2 135 417.5 139.6 417.8 137.4 407.7 139.8ZM423.7 140.5 434.6 138.3 433.4 136.4 441.4 137.6 434.5 141.9 434.9 139.8 424 142ZM439.8 144.1 451.6 142 450.4 140.2 458.4 141.6 451.4 145.7 451.8 143.5 440.1 145.6ZM455.6 149.1 468.1 147.3 467 145.4 475 147.2 467.8 151 468.3 148.8 455.8 150.5ZM470.9 155.4 484 154.3 483 152.3 490.8 154.5 483.5 157.9 484.1 155.8 471 156.9ZM485.5 163 499 162.9 498.2 160.8 505.8 163.5 498.3 166.4 499 164.4 485.6 164.5ZM499.5 171.9 513 173.1 512.4 170.9 519.7 174.4 511.9 176.5 512.9 174.5 499.4 173.3ZM512.7 181.9 525.8 184.7 525.4 182.5 532.2 186.8 524.2 188 525.4 186.1 512.4 183.4ZM525 193.1 537.1 197.4 537 195.2 543.2 200.4 535.1 200.5 536.5 198.8 524.5 194.5ZM536.2 205.3 547 210.9 547.2 208.7 552.7 214.7 544.6 213.7 546.3 212.2 535.5 206.6ZM546.3 218.4 555.7 225 556.3 222.9 560.9 229.6 553 227.5 554.9 226.3 545.5 219.7ZM555.3 232.4 563.6 239.7 564.4 237.7 568.2 244.8 560.7 241.9 562.6 240.9 554.3 233.5ZM562.9 247.1 570.2 255.3 571.2 253.4 574.2 260.9 567 257.1 569.1 256.3 561.8 248.1ZM569.3 262.4 575.1 271.8 576.4 270 578 278 571.6 273 573.8 272.6 568.1 263.2ZM574.4 278.3 578.2 288.7 579.9 287.3 579.9 295.4 574.6 289.2 576.8 289.3 573 278.8ZM578 294.5 579.8 305.7 581.7 304.6 580.2 312.6 576.2 305.5 578.4 306 576.5 294.8ZM580.1 311 580.3 322.5 582.3 321.6 579.7 329.3 576.7 321.7 578.8 322.5 578.6 311ZM580.8 327.6 579.8 338.9 581.9 338.2 578.4 345.6 576.3 337.7 578.3 338.7 579.4 327.4ZM580.1 344.1 578.1 355.3 580.3 354.9 576.2 361.9 574.8 353.9 576.7 355 578.6 343.9ZM578 360.5 574.9 372 577 371.8 572.4 378.4 571.6 370.3 573.4 371.6 576.5 360.1ZM574.4 376.7 570 388.4 572.2 388.4 566.9 394.6 566.9 386.5 568.6 387.9 573 376.2ZM569.4 392.5 563.6 404.3 565.8 404.5 559.9 410.1 560.8 402 562.3 403.6 568 391.8ZM563 407.8 555.9 419.3 558 419.7 551.6 424.6 553.3 416.7 554.6 418.5 561.7 407ZM555.4 422.5 546.9 433.4 549 434 542.2 438.3 544.6 430.5 545.8 432.4 554.2 421.6ZM546.4 436.5 536.7 446.8 538.7 447.6 531.5 451.2 534.7 443.8 535.6 445.8 545.4 435.4ZM536.4 449.6 525.1 459.6 527.1 460.6 519.5 463.6 523.3 456.4 524.1 458.5 535.4 448.5ZM525.2 461.8 512.4 471.5 514.3 472.6 506.5 475 510.9 468.1 511.5 470.3 524.3 460.6ZM513 473 499 482 500.8 483.3 492.9 485 497.8 478.6 498.2 480.7 512.1 471.7ZM499.8 483.1 485 491.1 486.7 492.6 478.6 493.7 484 487.6 484.3 489.8 499.1 481.7ZM485.9 491.9 470.1 499 471.7 500.6 463.6 501.1 469.4 495.4 469.5 497.6 485.2 490.6ZM471.2 499.6 454.6 505.7 456.1 507.3 448 507.3 454.2 502.1 454.1 504.3 470.7 498.2ZM455.9 505.9 438.9 511.2 440.3 512.9 432.2 512.4 438.7 507.5 438.5 509.7 455.5 504.5ZM440.1 510.9 423.4 515.3 424.7 517 416.6 516.3 423.3 511.6 423 513.8 439.8 509.4ZM424 514.5 408.1 517.9 409.3 519.8 401.3 518.7 408.1 514.3 407.8 516.5 423.7 513ZM407.6 516.6 392.8 519.1 393.9 521 385.9 519.5 393 515.4 392.5 517.6 407.4 515.1ZM391.1 517.3 376.9 518.7 377.9 520.6 370.1 518.6 377.4 515.1 376.8 517.2 390.9 515.9ZM374.5 516.6 360.7 516.7 361.5 518.7 353.9 515.9 361.5 513.1 360.7 515.2 374.5 515.1ZM358.1 514.5 344.8 513.1 345.4 515.2 338.1 511.7 345.9 509.7 344.9 511.6 358.2 513ZM341.9 510.9 329.6 508.2 330 510.4 323.1 506 331.2 504.9 329.9 506.7 342.2 509.4ZM326.1 505.9 315.1 502.1 315.2 504.3 308.9 499.1 317 499 315.6 500.7 326.6 504.5ZM310.8 499.6 301 494.8 300.8 497 295.2 491.2 303.3 492 301.6 493.5 311.4 498.2ZM296.1 491.9 287 486.3 286.6 488.5 281.7 482.1 289.6 483.7 287.8 485 296.8 490.6ZM282.1 483 273.6 476.4 273 478.5 268.7 471.6 276.4 474.1 274.5 475.2 283 481.8ZM268.9 472.9 261.2 465.3 260.3 467.3 256.9 460 264.3 463.3 262.2 464.2 270 471.8ZM256.7 461.7 249.8 453.2 248.8 455.2 246.1 447.5 253.1 451.6 251 452.3 257.9 460.7ZM245.5 449.5 239.6 440.4 238.3 442.2 236.5 434.3 243 439.2 240.9 439.6 246.8 448.6ZM235.4 436.3 230.5 426.9 229 428.6 228 420.6 234 426 231.8 426.2 236.8 435.6ZM226.5 422.3 222.4 412.7 220.9 414.3 220.4 406.2 226 412.1 223.8 412.1 227.9 421.8ZM218.9 407.6 215.8 397.5 214.1 398.8 214.5 390.7 219.4 397.2 217.2 397 220.3 407.2ZM212.6 392.3 211.1 381.1 209.2 382.2 211 374.3 214.8 381.5 212.6 380.9 214 392.1ZM207.6 376.4 208.6 364.1 206.5 364.8 209.9 357.4 212 365.2 210.1 364.3 209.1 376.5ZM204.1 360.1 208 347 205.8 347.2 210.6 340.7 211.1 348.8 209.4 347.4 205.5 360.6ZM202 343.6 208.8 330.2 206.6 329.9 212.6 324.4 211.6 332.5 210.1 330.8 203.3 344.3ZM201.3 327.1 210.3 314 208.1 313.5 214.7 308.8 212.7 316.7 211.5 314.9 202.5 327.9ZM202 310.5 212.1 298.5 210 297.8 217 293.8 214.3 301.4 213.3 299.5 203.2 311.5ZM204.2 294.1 214.9 283.4 212.8 282.5 220.2 279.1 216.8 286.5 215.9 284.5 205.3 295.2ZM207.9 278 218.6 268.7 216.7 267.6 224.3 264.8 220.4 271.9 219.6 269.8 208.8 279.1ZM212.9 262.2 223.6 254.2 221.8 253.1 229.6 250.8 225.1 257.5 224.5 255.4 213.8 263.4ZM219.2 246.9 230.1 240.1 228.3 238.8 236.2 237.2 231.3 243.6 230.9 241.4 220 248.2ZM226.9 232.3 238 226.5 236.4 225 244.4 224 239 230 238.7 227.8 227.6 233.6ZM235.8 218.3 246.8 213.6 245.2 212 253.3 211.5 247.5 217.1 247.4 214.9 236.4 219.7ZM245.9 205.2 255.8 201.4 254.3 199.8 262.4 199.7 256.3 205 256.3 202.8 246.4 206.6ZM257 193.1 265.5 190.1 264.1 188.4 272.2 188.5 266 193.7 266 191.5 257.5 194.5ZM269.2 181.9 276.4 179.7 275 177.9 283.1 178.3 276.7 183.3 276.8 181.1 269.7 183.4ZM282.3 171.9 288.6 170.2 287.3 168.4 295.3 169.2 288.7 173.8 288.9 171.7 282.7 173.3ZM296.3 163 302.2 161.9 301 160 309 161.4 302.1 165.5 302.5 163.4 296.6 164.5ZM311 155.4 317 154.6 316 152.6 323.9 154.4 316.7 158.2 317.2 156 311.2 156.9ZM326.2 149.1 332.7 148.1 331.6 146.2 339.5 147.8 332.4 151.7 332.9 149.6 326.4 150.5ZM341.9 144.1 349 142.5 347.8 140.7 355.8 141.8 349 146.2 349.4 144 342.2 145.6ZM357.9 140.6 366.1 138 364.7 136.3 372.8 136.6 366.4 141.6 366.5 139.4 358.4 142ZM374.3 138.4 383.6 135 382.1 133.4 390.2 133.4 384 138.6 384.1 136.4 374.8 139.8ZM390.8 116.2 400.8 114.1 399.6 112.3 407.6 113.4 400.7 117.7 401.1 115.6 391.2 117.6ZM409.2 117 419.9 115.2 418.8 113.3 426.8 114.8 419.7 118.8 420.2 116.7 409.5 118.4ZM427.5 119.4 439.3 117.7 438.2 115.8 446.1 117.5 439 121.3 439.5 119.2 427.7 120.8ZM445.4 123.3 458.4 121.9 457.4 119.9 465.2 121.9 458 125.5 458.6 123.4 445.6 124.8ZM463 128.9 477 127.8 476 125.9 483.8 128.1 476.4 131.4 477.1 129.3 463.1 130.3ZM480 135.9 494.6 135.7 493.8 133.6 501.5 136.3 493.9 139.2 494.7 137.2 480 137.4ZM496.3 144.4 511.2 145.3 510.5 143.2 517.9 146.4 510.2 148.7 511.1 146.8 496.3 145.9ZM511.9 154.2 526.5 156.6 526.1 154.4 533.1 158.4 525.2 160 526.3 158.1 511.7 155.7ZM526.6 165.4 540.7 169.4 540.5 167.3 547.1 172 539 172.6 540.3 170.9 526.2 166.9ZM540.2 177.9 553.6 183.6 553.6 181.4 559.5 187 551.4 186.5 553 185 539.6 179.3ZM552.7 191.5 565 198.7 565.3 196.6 570.4 202.9 562.5 201.4 564.2 200 551.9 192.8ZM564 206.1 575 214.6 575.6 212.5 579.9 219.4 572.2 216.9 574.1 215.8 563.1 207.3ZM573.9 221.7 583.7 231 584.6 229 588.1 236.3 580.7 233 582.7 232.1 572.9 222.7ZM582.4 238 591 248.3 592.1 246.4 594.8 254.1 587.8 250 589.8 249.3 581.3 239ZM589.5 255.1 596.5 266.8 597.8 265.1 599.3 273 593 267.9 595.2 267.5 588.3 255.9ZM595.1 272.7 600 285.9 601.6 284.4 601.6 292.5 596.4 286.4 598.6 286.4 593.7 273.3ZM599.1 290.8 601.7 305.2 603.6 304 602.1 312 598 305 600.2 305.4 597.7 291.1ZM601.5 309.1 601.8 324.2 603.8 323.4 601.2 331.1 598.2 323.5 600.3 324.3 600 309.2ZM602.3 327.6 600.8 342.7 603 342.2 599.4 349.4 597.4 341.6 599.3 342.6 600.9 327.4ZM601.5 346 598.7 361 600.8 360.6 596.6 367.5 595.3 359.5 597.2 360.7 600.1 345.7ZM599.1 364.3 594.8 379.1 597 379 592.1 385.5 591.6 377.4 593.3 378.7 597.7 363.9ZM595.1 382.3 589.2 396.9 591.4 396.9 586 402.9 586.2 394.8 587.8 396.3 593.7 381.7ZM589.6 399.9 582.1 414 584.3 414.3 578.3 419.7 579.3 411.7 580.8 413.3 588.2 399.2ZM582.5 416.9 573.5 430.5 575.7 431 569.2 435.8 571 427.9 572.3 429.7 581.2 416.1ZM574 433.3 563.5 446.3 565.6 446.9 558.6 451.1 561.2 443.4 562.3 445.3 572.8 432.3ZM564.1 448.8 552.2 461.2 554.2 462 546.9 465.5 550.2 458.1 551.1 460.1 563 447.8ZM552.8 463.4 540 475 541.9 475.9 534.4 478.9 538.2 471.8 539 473.8 551.8 462.3ZM540.4 477 526.9 487.5 528.8 488.6 521.1 491.1 525.4 484.2 526 486.3 539.5 475.8ZM526.8 489.4 513.2 498.7 515 499.9 507.1 501.9 511.9 495.3 512.3 497.5 525.9 488.2ZM512.2 500.7 498.6 508.6 500.3 510 492.4 511.4 497.5 505.2 497.8 507.3 511.4 499.4ZM496.6 510.6 482.8 517.4 484.4 518.8 476.4 519.7 482 513.8 482.1 516 496 509.2ZM480.3 519.1 466.4 524.8 467.9 526.4 459.8 526.7 465.8 521.2 465.8 523.4 479.7 517.7ZM463.3 526.1 450.1 530.7 451.5 532.4 443.4 532.2 449.7 527.1 449.6 529.3 462.8 524.7ZM445.7 531.6 434 535.1 435.4 536.8 427.3 536.3 433.8 531.4 433.6 533.6 445.3 530.2ZM427.7 535.6 417.9 538 419.2 539.8 411.2 538.8 417.9 534.3 417.6 536.5 427.4 534.2ZM409.5 538 401.4 539.4 402.5 541.3 394.5 539.9 401.5 535.8 401.1 538 409.2 536.6ZM391.1 538.8 383.8 539.5 384.8 541.5 376.9 539.3 384.3 535.9 383.7 538 390.9 537.4ZM372.6 538 365.2 538 365.9 540 358.4 537.1 366 534.4 365.2 536.5 372.7 536.5ZM354.3 535.6 346.3 534.7 346.9 536.8 339.7 533.1 347.6 531.2 346.5 533.2 354.5 534.2ZM336.3 531.7 328.1 529.7 328.4 531.9 321.7 527.4 329.7 526.4 328.5 528.2 336.7 530.2ZM318.7 526.1 310.7 523.2 310.8 525.4 304.6 520.2 312.7 520.2 311.2 521.8 319.2 524.7ZM301.7 519 294.1 515.4 294 517.6 288.3 511.8 296.4 512.6 294.8 514.1 302.3 517.7ZM285.3 510.5 278.1 506.2 277.8 508.4 272.6 502.1 280.6 503.6 278.9 505 286.1 509.2ZM269.8 500.6 262.8 495.6 262.2 497.7 257.7 491 265.5 493.2 263.7 494.4 270.6 499.4ZM255.1 489.4 248.5 483.6 247.8 485.6 243.9 478.5 251.5 481.4 249.5 482.4 256.1 488.3ZM241.5 476.9 235.5 470.4 234.5 472.4 231.4 464.9 238.6 468.6 236.6 469.4 242.6 475.9ZM229.1 463.3 223.8 456.3 222.6 458.2 220.3 450.4 227.1 454.8 225 455.4 230.3 462.4ZM217.8 448.7 213.3 441.3 212 443.1 210.4 435.2 216.8 440.2 214.6 440.6 219.1 447.9ZM207.9 433.1 204.2 425.6 202.7 427.2 201.8 419.2 207.7 424.7 205.5 424.9 209.3 432.5ZM199.4 416.8 196.6 408.8 195 410.2 195.1 402.1 200.2 408.4 198 408.3 200.8 416.3ZM192.4 399.6 191.1 390.7 189.2 391.8 190.9 383.9 194.7 391 192.6 390.5 193.8 399.4ZM186.8 381.9 187.7 371.8 185.6 372.4 189.1 365.1 191.2 372.9 189.2 372 188.3 382.1ZM182.9 363.8 186.5 352.5 184.3 352.7 189.3 346.3 189.6 354.4 187.9 353 184.3 364.3ZM180.5 345.5 186.9 333.5 184.7 333.2 190.7 327.8 189.7 335.8 188.2 334.2 181.9 346.2ZM179.8 327.1 188.1 315.1 185.9 314.6 192.5 309.9 190.5 317.7 189.3 315.9 181 327.9ZM180.6 308.7 189.8 297.4 187.7 296.7 194.6 292.6 192 300.2 190.9 298.3 181.8 309.6ZM183.1 290.4 192.5 280.3 190.5 279.4 197.7 275.8 194.6 283.3 193.6 281.3 184.1 291.4ZM187.1 272.4 196.4 263.6 194.4 262.7 201.8 259.5 198.2 266.8 197.4 264.7 188.1 273.5ZM192.6 254.9 201.7 247.5 199.7 246.4 207.4 243.7 203.3 250.7 202.6 248.6 193.6 256ZM199.7 237.9 208.5 231.8 206.7 230.5 214.5 228.5 209.9 235.1 209.4 233 200.6 239.1ZM208.2 221.5 217.3 216.5 215.6 215.1 223.6 213.9 218.3 220 218 217.8 209 222.9ZM218.2 206 227.2 202 225.7 200.5 233.7 199.9 227.9 205.6 227.8 203.4 218.8 207.4ZM229.4 191.4 237.7 188.5 236.3 186.8 244.4 186.9 238.1 192.1 238.2 189.9 229.9 192.8ZM241.9 177.9 249.1 175.9 247.8 174.1 255.8 174.8 249.3 179.5 249.5 177.3 242.3 179.3ZM255.5 165.4 261.7 164.2 260.5 162.3 268.5 163.6 261.6 167.8 262 165.7 255.8 166.9ZM270.1 154.2 275.6 153.6 274.6 151.7 282.4 153.6 275.2 157.3 275.8 155.1 270.3 155.7ZM285.7 144.4 291 144.3 290.2 142.3 297.8 145 290.2 147.9 291 145.8 285.7 145.9ZM302 135.9 307.7 136.1 307 134 314.5 137.2 306.8 139.6 307.6 137.6 302 137.4ZM319 128.9 325.3 128.9 324.5 126.9 332.1 129.8 324.5 132.5 325.3 130.4 319 130.4ZM336.4 123.3 343.7 122.8 342.8 120.8 350.6 123.1 343.2 126.4 343.8 124.3 336.5 124.8ZM354.3 119.4 362.8 118 361.7 116.1 369.7 117.6 362.6 121.6 363.1 119.5 354.5 120.8ZM372.5 117 382.3 114.9 381.1 113 389.1 114.2 382.2 118.5 382.6 116.3 372.8 118.4ZM390.9 93.3 397.9 92.5 396.8 90.5 404.7 92.4 397.5 96.1 398 93.9 391.1 94.7ZM411.3 94.1 419.1 93.3 418.1 91.3 425.9 93.3 418.7 96.9 419.2 94.8 411.4 95.6ZM431.5 96.8 440.8 95.8 439.8 93.8 447.7 95.8 440.4 99.4 441 97.3 431.6 98.3ZM451.4 101.2 462.4 100.1 461.4 98.1 469.3 100.2 462 103.7 462.6 101.6 451.5 102.7ZM470.8 107.3 483.3 106.5 482.4 104.5 490.2 106.8 482.8 110.1 483.4 108 470.9 108.8ZM489.7 115.1 503 114.9 502.2 112.9 509.9 115.6 502.3 118.5 503.1 116.4 489.7 116.6ZM507.8 124.5 521.3 125.3 520.6 123.2 528 126.4 520.3 128.8 521.2 126.8 507.7 126ZM525 135.5 538.2 137.5 537.7 135.3 544.8 139.2 536.8 140.9 537.9 138.9 524.8 137ZM541.3 147.9 553.9 151.3 553.7 149.1 560.3 153.8 552.3 154.5 553.6 152.8 540.9 149.4ZM556.4 161.7 568.4 166.6 568.4 164.4 574.4 169.8 566.3 169.6 567.8 168 555.8 163.1ZM570.2 176.8 581.4 183.1 581.7 180.9 586.9 187.1 578.9 185.8 580.6 184.4 569.5 178.1ZM582.7 193 592.8 200.5 593.4 198.4 597.8 205.2 590.1 202.9 591.9 201.7 581.8 194.2ZM593.7 210.2 602.8 218.6 603.6 216.6 607.3 223.8 599.8 220.7 601.8 219.7 592.7 211.3ZM603.2 228.3 611.2 237.8 612.3 235.9 615.1 243.5 608 239.5 610.1 238.8 602.1 229.3ZM611.1 247.3 617.8 258.3 619.1 256.6 620.6 264.5 614.3 259.5 616.5 259.1 609.8 248ZM617.2 266.8 622.1 279.8 623.8 278.3 623.8 286.4 618.5 280.3 620.7 280.3 615.8 267.3ZM621.7 286.8 624.4 301.7 626.2 300.5 624.8 308.5 620.7 301.5 622.9 301.9 620.2 287.1ZM624.4 307.1 624.6 323.4 626.7 322.6 624 330.2 621.1 322.7 623.1 323.4 622.9 307.2ZM625.2 327.6 623.6 344.5 625.7 343.9 622.1 351.1 620.1 343.3 622.1 344.3 623.8 327.4ZM624.3 348 621.1 364.9 623.3 364.5 619.1 371.4 617.8 363.4 619.6 364.6 622.9 347.7ZM621.7 368.3 616.9 384.9 619.1 384.7 614.3 391.2 613.7 383.1 615.4 384.4 620.2 367.8ZM617.2 388.2 610.9 404.2 613.1 404.2 607.7 410.3 607.9 402.2 609.5 403.7 615.8 387.7ZM611.1 407.7 603.4 422.9 605.6 423.1 599.6 428.6 600.6 420.5 602 422.2 609.7 407ZM603.3 426.6 594.3 440.8 596.4 441.2 590 446.1 591.7 438.2 593 440 602 425.8ZM593.8 444.7 583.5 458.1 585.7 458.7 578.8 463.1 581.2 455.3 582.4 457.2 592.6 443.8ZM582.8 461.9 571.6 474.4 573.6 475.2 566.4 479 569.5 471.4 570.4 473.4 581.7 460.9ZM570.4 478.1 558.9 489.2 560.9 490.1 553.4 493.3 557 486.1 557.8 488.1 569.4 477ZM556.6 493.2 545.5 502.4 547.5 503.5 539.9 506.2 543.9 499.2 544.6 501.3 555.6 492ZM541.5 507 531.4 514.4 533.3 515.6 525.5 517.8 530 511.1 530.5 513.2 540.6 505.8ZM525.3 519.4 516.2 525.2 517.9 526.5 510 528.2 514.9 521.8 515.4 523.9 524.5 518.1ZM508.1 530.4 499.3 535 501 536.5 492.9 537.6 498.3 531.5 498.6 533.7 507.4 529.1ZM490 539.8 481.6 543.5 483.2 545 475.1 545.5 480.9 539.9 481 542.1 489.4 538.4ZM471.1 547.6 464.1 550.2 465.6 551.8 457.5 551.8 463.6 546.6 463.6 548.8 470.6 546.2ZM451.7 553.8 446.6 555.3 447.9 557 439.8 556.6 446.3 551.7 446.1 553.9 451.2 552.3ZM431.7 558.2 428.6 558.9 429.8 560.7 421.8 559.8 428.5 555.3 428.2 557.5 431.4 556.7ZM411.5 560.9 409.8 561.1 411 563 403 561.6 410 557.5 409.6 559.7 411.2 559.4ZM391.1 561.7 390.1 561.8 391 563.8 383.2 561.7 390.5 558.2 389.9 560.3 390.9 560.3ZM370.6 560.9 369.1 560.8 369.9 562.9 362.3 560 370 557.3 369.1 559.3 370.7 559.4ZM350.4 558.2 347.6 557.9 348.2 560 340.9 556.4 348.8 554.4 347.8 556.4 350.5 556.7ZM330.4 553.8 326.5 552.9 326.8 555.1 320 550.7 328 549.6 326.8 551.4 330.7 552.3ZM310.9 547.6 306.3 546.1 306.4 548.3 300 543.3 308.1 543 306.7 544.7 311.4 546.2ZM292 539.8 287.1 537.7 287.1 539.9 281.2 534.4 289.2 534.8 287.7 536.4 292.6 538.4ZM273.9 530.4 269 527.8 268.8 530 263.3 524 271.4 525 269.7 526.5 274.6 529.1ZM256.7 519.4 251.8 516.3 251.3 518.5 246.4 512 254.3 513.7 252.6 515 257.5 518.1ZM240.4 507 235.5 503.2 234.9 505.3 230.6 498.4 238.3 500.8 236.5 502 241.4 505.8ZM225.4 493.1 220.6 488.6 219.8 490.6 216.3 483.3 223.7 486.6 221.7 487.5 226.4 492.1ZM211.6 478.1 207.2 472.9 206.2 474.8 203.5 467.2 210.5 471.2 208.4 471.9 212.7 477.1ZM199.1 461.8 195.4 456.2 194.1 458 192.3 450.1 198.8 454.9 196.6 455.3 200.4 461ZM188.1 444.6 185 438.6 183.5 440.2 182.5 432.2 188.5 437.6 186.3 437.9 189.4 443.9ZM178.7 426.4 176.3 419.8 174.7 421.2 174.8 413.1 179.9 419.3 177.7 419.3 180.1 425.9ZM170.8 407.5 169.7 399.7 167.8 400.7 169.6 392.8 173.4 400 171.2 399.4 172.3 407.3ZM164.7 387.9 165.5 378.6 163.4 379.2 166.8 371.8 169 379.6 167 378.7 166.2 388ZM160.3 367.8 163.5 357.1 161.3 357.3 166.1 350.8 166.7 358.8 164.9 357.5 161.8 368.3ZM157.7 347.5 163.2 335.9 161 335.7 166.8 330 166.1 338.1 164.6 336.5 159.1 348.2ZM156.9 327.1 164 315.4 161.8 315 168.1 309.9 166.6 317.9 165.2 316.2 158.1 327.9ZM157.8 306.7 165.4 295.8 163.3 295.3 170 290.7 167.9 298.5 166.7 296.7 159 307.6ZM160.5 286.5 168.1 277 166 276.3 172.9 272.1 170.3 279.8 169.2 277.9 161.6 287.4ZM164.9 266.6 172 258.8 169.9 258 177.1 254.3 174.1 261.8 173.1 259.8 166 267.6ZM171.1 247.1 177.4 241.2 175.4 240.2 182.9 237.1 179.2 244.4 178.4 242.3 172.1 248.2ZM178.9 228.2 184.6 224 182.8 222.8 190.6 220.5 186.1 227.3 185.5 225.2 179.8 229.4ZM188.4 210.1 194.2 207 192.5 205.6 200.5 204.4 195.1 210.5 194.9 208.3 189.1 211.4ZM199.5 192.9 205.3 190.7 203.9 189 212 189 205.8 194.3 205.9 192.1 200 194.3ZM212 176.7 217.3 175.4 216.1 173.6 224.1 174.6 217.3 179.1 217.7 176.9 212.3 178.1ZM225.8 161.6 230.4 161.2 229.4 159.3 237.2 161.4 229.9 164.8 230.5 162.7 226 163.1ZM240.9 147.9 244.6 148.1 244 146 251.4 149.2 243.7 151.6 244.6 149.6 240.9 149.4ZM257.2 135.5 260.3 136.1 259.9 133.9 266.9 138.2 258.9 139.4 260 137.6 256.9 137ZM274.5 124.6 277.5 125.5 277.3 123.3 283.7 128.3 275.7 128.7 277 127 274 126ZM292.6 115.2 295.9 116.3 295.8 114.1 302 119.3 293.9 119.4 295.4 117.7 292.1 116.6ZM311.3 107.4 315.1 108.4 314.9 106.3 321.4 111 313.4 111.6 314.7 109.9 310.9 108.8ZM330.7 101.2 335.2 101.9 334.7 99.8 341.8 103.8 333.8 105.3 334.9 103.4 330.4 102.7ZM350.5 96.8 356 96.9 355.3 94.9 362.8 97.9 355.1 100.5 356 98.4 350.4 98.3ZM370.6 94.1 377.2 93.7 376.3 91.7 384.1 93.9 376.7 97.3 377.3 95.1 370.7 95.6ZM391 70.5 392.9 70.5 392.1 68.4 399.7 71.2 392.1 74 392.9 72 391 71.9ZM413.3 71.4 415.8 71.3 415 69.3 422.7 71.8 415.2 74.9 415.9 72.8 413.4 72.9ZM435.4 74.3 439.6 74 438.7 72 446.5 74.2 439.1 77.6 439.7 75.5 435.6 75.8ZM457.3 79.2 463.4 78.7 462.5 76.7 470.3 78.8 463 82.3 463.6 80.1 457.4 80.7ZM478.6 85.9 486.6 85.4 485.6 83.4 493.4 85.7 486 89 486.7 86.9 478.7 87.4ZM499.3 94.5 508.3 94.3 507.5 92.3 515.2 95 507.6 97.9 508.4 95.8 499.3 96ZM519.2 104.8 528.4 105.3 527.7 103.2 535.1 106.4 527.4 108.8 528.3 106.8 519.1 106.3ZM538.1 116.8 547.1 118.2 546.6 116 553.7 119.9 545.8 121.6 546.9 119.6 537.9 118.3ZM555.9 130.4 565 132.9 564.7 130.7 571.3 135.4 563.3 136.1 564.6 134.3 555.6 131.9ZM572.5 145.6 581.5 149.3 581.5 147.1 587.4 152.6 579.4 152.3 580.9 150.7 571.9 147ZM587.7 162.1 596.4 167.3 596.8 165.1 601.9 171.4 593.9 169.9 595.6 168.5 587 163.4ZM601.4 179.9 609.7 186.4 610.3 184.3 614.5 191.2 606.8 188.7 608.7 187.6 600.5 181.1ZM613.5 198.8 621.2 206.3 622 204.3 625.5 211.6 618.1 208.3 620.1 207.4 612.4 199.9ZM623.9 218.7 630.9 227.5 632 225.6 634.6 233.3 627.6 229.1 629.7 228.4 622.7 219.7ZM632.5 239.5 638.6 250.2 640 248.5 641.3 256.5 635.1 251.3 637.3 250.9 631.2 240.2ZM639.3 260.9 643.9 274 645.6 272.5 645.5 280.6 640.3 274.4 642.5 274.5 637.9 261.4ZM644.1 282.9 646.7 298.2 648.6 297 647.1 305 643.1 298 645.3 298.4 642.7 283.1ZM647.1 305.1 647.3 322.1 649.4 321.3 646.7 328.9 643.8 321.4 645.8 322.2 645.6 305.2ZM648 327.6 646.4 345.3 648.5 344.7 645 352 642.9 344.1 644.9 345.1 646.6 327.4ZM647.1 350 643.8 367.5 646 367 641.9 374 640.5 366 642.4 367.2 645.6 349.7ZM644.1 372.2 639.5 388.8 641.7 388.6 636.9 395.2 636.3 387.1 638 388.4 642.7 371.8ZM639.3 394.1 633.4 409.3 635.6 409.3 630.3 415.4 630.4 407.3 632 408.8 637.9 393.6ZM632.5 415.5 625.9 428.9 628 429.1 622.2 434.7 623 426.6 624.5 428.3 631.2 414.8ZM623.9 436.2 616.7 447.9 618.8 448.3 612.5 453.3 614.1 445.4 615.4 447.1 622.6 435.4ZM613.6 456.1 605.6 466.7 607.8 467.2 600.9 471.6 603.3 463.9 604.4 465.8 612.4 455.2ZM601.5 475 593.2 484.4 595.2 485.1 588.1 488.9 591.1 481.4 592.1 483.4 600.4 474ZM587.9 492.8 580.1 500.3 582.1 501.2 574.7 504.5 578.2 497.2 579 499.3 586.8 491.7ZM572.7 509.3 566.2 514.8 568.1 515.9 560.5 518.6 564.5 511.6 565.2 513.7 571.7 508.2ZM556.2 524.4 551.2 528.1 553 529.3 545.2 531.5 549.7 524.8 550.3 526.9 555.3 523.2ZM538.4 538.1 534.7 540.4 536.4 541.7 528.5 543.4 533.5 537 533.9 539.2 537.6 536.8ZM519.5 550.1 516.3 551.8 518 553.2 510 554.2 515.4 548.3 515.7 550.4 518.8 548.8ZM499.6 560.5 497 561.6 498.6 563.2 490.5 563.6 496.4 558 496.4 560.2 499 559.1ZM478.9 569.1 477.6 569.5 479 571.2 471 571.1 477.2 565.9 477.1 568.1 478.4 567.6ZM457.5 575.7 456.9 575.9 458 577.4 451.1 576.9 456.7 572.8 456.5 574.6 457.2 574.4ZM435.6 580.4 435.1 580.5 435.9 581.7 430.6 581 435.1 578.1 434.9 579.5 435.4 579.4ZM413.4 583.2 413 583.3 413.6 584.3 409.3 583.5 413.1 581.3 412.9 582.5 413.3 582.4ZM391 584.2 390.6 584.2 391.1 585.2 387.3 584.1 390.9 582.4 390.6 583.5 391 583.4ZM368.7 583.2 368.2 583.2 368.6 584.4 364.4 582.8 368.7 581.3 368.2 582.4 368.7 582.4ZM346.4 580.5 345.9 580.4 346.3 581.9 341 579.3 346.7 577.9 346 579.3 346.6 579.4ZM324.5 575.8 323.8 575.6 324.1 577.6 317.7 573.7 325.2 572.5 324.1 574.2 324.8 574.4ZM303.1 569.1 301.6 568.6 301.8 570.8 295.3 565.9 303.4 565.4 302 567.2 303.6 567.6ZM282.4 560.5 280.2 559.6 280.2 561.8 274.1 556.4 282.2 556.6 280.7 558.2 283 559.1ZM262.5 550.1 260.1 548.9 259.9 551.1 254.3 545.2 262.4 546.1 260.7 547.6 263.2 548.8ZM243.6 538.1 241 536.5 240.6 538.6 235.6 532.3 243.5 533.9 241.7 535.2 244.4 536.8ZM225.8 524.4 222.8 522.1 222.2 524.2 217.9 517.4 225.6 519.8 223.8 521 226.7 523.2ZM209.2 509.3 206.1 506.2 205.2 508.2 201.8 500.9 209.2 504.2 207.1 505.1 210.3 508.2ZM194.1 492.7 191 488.8 189.9 490.7 187.4 483 194.3 487.2 192.2 487.9 195.3 491.8ZM180.4 474.9 177.6 470.3 176.3 472.1 174.7 464.2 181.1 469.2 178.9 469.6 181.7 474.1ZM168.4 456 166 451 164.5 452.6 163.8 444.5 169.5 450.2 167.4 450.3 169.7 455.3ZM158 436 156.2 430.4 154.5 431.8 154.9 423.7 159.8 430.1 157.6 429.9 159.4 435.6ZM149.4 415.3 148.6 408.4 146.6 409.5 148.5 401.6 152.2 408.8 150.1 408.2 150.9 415.1ZM142.7 393.8 143.3 385.5 141.2 386.2 144.5 378.8 146.8 386.6 144.8 385.6 144.2 393.9ZM137.9 371.8 140.3 362.3 138.1 362.5 142.8 355.9 143.6 363.9 141.8 362.6 139.3 372.2ZM135 349.5 139.3 339.3 137.1 339.2 142.6 333.3 142.3 341.4 140.7 339.9 136.4 350.1ZM134 327.1 139.5 317 137.3 316.7 143.4 311.4 142.3 319.4 140.8 317.7 135.4 327.9ZM135 304.8 140.8 295.7 138.7 295.3 145.1 290.4 143.4 298.3 142.1 296.5 136.3 305.6ZM138 282.5 143.4 275.3 141.3 274.7 148.1 270.3 145.8 278.1 144.6 276.2 139.2 283.4ZM142.9 260.7 147.4 255.5 145.3 254.8 152.4 250.9 149.5 258.5 148.5 256.5 144 261.7ZM149.6 239.3 153 236.2 151 235.2 158.5 232.1 154.8 239.4 154 237.3 150.7 240.4ZM158.3 218.6 160.5 217 158.7 215.8 166.6 213.8 161.9 220.4 161.4 218.2 159.1 219.8ZM168.7 198.7 170.8 197.7 169.2 196.2 177.3 195.6 171.5 201.3 171.4 199.1 169.3 200ZM180.9 179.8 183.1 179.2 181.8 177.4 189.9 178.2 183.2 182.8 183.5 180.6 181.2 181.2ZM194.6 162 196.5 161.8 195.5 159.9 203.3 162 196 165.5 196.6 163.3 194.7 163.5ZM209.8 145.5 211.1 145.6 210.5 143.5 217.8 147 210 149.1 211 147.1 209.7 147ZM226.5 130.4 227.2 130.7 227 128.5 233.5 133.3 225.5 133.8 226.8 132.1 226 131.9ZM244.3 116.9 245 117.2 245.2 115.1 250.5 120.8 242.8 120 244.4 118.5 243.7 118.2ZM263.2 104.9 263.9 105.3 264.3 103.3 269 109.5 261.4 107.8 263.1 106.6 262.5 106.1ZM283.1 94.6 283.7 95.1 284.2 93 288.7 99.4 281.1 97.4 282.9 96.2 282.3 95.8ZM303.7 86 304.4 86.4 304.8 84.3 309.6 90.5 301.9 89 303.6 87.7 303 87.3ZM325 79.3 325.7 79.6 325.8 77.4 331.5 82.9 323.6 82.4 325.1 80.9 324.4 80.6ZM346.7 74.4 347.6 74.6 347.3 72.4 354.1 76.9 346 77.9 347.3 76.1 346.3 75.8ZM368.7 71.4 370.2 71.5 369.6 69.4 377 72.8 369.2 75 370.1 73 368.6 72.9ZM391.1 46.5 391.5 46.6 391.5 45.5 394.9 48.1 390.5 48.3 391.3 47.4 390.9 47.3ZM415.5 47.5 416 47.6 415.7 46.4 419.7 48.5 415.2 49.5 415.8 48.4 415.4 48.4ZM439.7 50.6 440.3 50.6 439.7 49.1 445.2 51.1 439.8 53.2 440.3 51.7 439.7 51.7ZM463.6 55.7 464.3 55.7 463.4 53.8 470.9 55.9 463.8 59.1 464.4 57.1 463.7 57.2ZM486.9 63.1 489.2 62.9 488.2 60.9 496 63.2 488.6 66.5 489.3 64.4 487 64.6ZM509.6 72.4 513 72.4 512.2 70.4 519.8 73 512.3 75.9 513.1 73.9 509.6 73.9ZM531.3 83.7 535.1 84 534.5 81.9 541.9 85.1 534.1 87.5 535 85.5 531.3 85.2ZM552.1 96.9 556 97.6 555.5 95.4 562.6 99.4 554.6 100.9 555.8 99 551.8 98.4ZM571.6 111.8 576.1 113.2 576 111 582.4 115.9 574.3 116.4 575.7 114.6 571.1 113.3ZM589.7 128.4 595 130.9 595.1 128.7 600.8 134.4 592.7 133.7 594.3 132.2 589.1 129.8ZM606.4 146.5 612.1 150.3 612.6 148.2 617.4 154.7 609.5 152.8 611.3 151.6 605.5 147.8ZM621.3 166 627.3 171.1 628 169.1 632 176.2 624.4 173.3 626.3 172.3 620.4 167.1ZM634.6 186.7 640.4 192.9 641.3 190.9 644.5 198.3 637.3 194.7 639.3 193.9 633.5 187.7ZM645.9 208.5 651.4 215.8 652.6 213.9 654.9 221.7 648.1 217.3 650.2 216.7 644.7 209.4ZM655.3 231.2 660.3 240.3 661.7 238.6 662.9 246.6 656.8 241.3 659 241 654 231.9ZM662.7 254.6 666.7 265.9 668.3 264.4 668.2 272.5 663 266.3 665.2 266.4 661.3 255.1ZM668.1 278.6 670.3 291.9 672.2 290.7 670.7 298.7 666.7 291.7 668.8 292.1 666.6 278.9ZM671.3 303 671.5 317.6 673.6 316.8 670.9 324.4 668 316.9 670 317.6 669.8 303.1ZM672.3 327.6 670.9 342.5 673 341.9 669.5 349.2 667.4 341.3 669.4 342.3 670.9 327.4ZM671.3 352.1 668.6 366.3 670.7 365.9 666.6 372.8 665.2 364.8 667.1 366 669.8 351.8ZM668.1 376.4 664.4 389 666.6 388.8 661.8 395.3 661.2 387.2 663 388.6 666.6 376ZM662.7 400.4 658.5 410.8 660.7 410.9 655.3 416.9 655.5 408.8 657.1 410.3 661.3 399.8ZM655.3 423.8 651.1 431.9 653.3 432.2 647.3 437.6 648.3 429.6 649.8 431.2 654 423.1ZM645.9 446.5 641.9 452.7 644.1 453.1 637.6 458 639.4 450.1 640.7 451.9 644.7 445.7ZM634.6 468.3 630.5 473.4 632.6 474 625.7 478.3 628.2 470.6 629.4 472.5 633.4 467.3ZM621.4 489 617.4 493.2 619.5 494 612.2 497.6 615.4 490.2 616.4 492.2 620.3 487.9ZM606.5 508.4 603.4 511.2 605.4 512.2 597.9 515.3 601.6 508.1 602.4 510.1 605.4 507.3ZM589.9 526.5 588.2 527.8 590.2 528.9 582.5 531.5 586.6 524.5 587.3 526.6 588.9 525.3ZM571.8 543 571.2 543.4 572.9 544.6 565.6 546.5 569.9 540.3 570.4 542.3 571 541.9ZM552.2 557.8 551.7 558.1 553 559.2 547.1 560.3 550.9 555.6 551.1 557.2 551.7 556.9ZM531.5 571 531 571.2 532.2 572.2 526.7 572.8 530.4 568.8 530.6 570.3 531.1 570ZM509.8 582.2 509.3 582.4 510.3 583.4 505.2 583.6 508.9 580.2 508.9 581.6 509.4 581.4ZM487.1 591.5 486.7 591.7 487.4 592.5 483.3 592.4 486.5 589.8 486.5 591 486.8 590.8ZM463.7 598.8 463.4 598.9 463.9 599.6 460.9 599.3 463.3 597.5 463.3 598.3 463.5 598.3ZM439.8 604 439.6 604.1 439.9 604.6 437.7 604.3 439.6 603.1 439.5 603.7 439.7 603.6ZM415.5 607.2 415.3 607.2 415.5 607.6 413.9 607.3 415.4 606.5 415.3 606.9 415.4 606.9ZM391 608.2 390.9 608.3 391 608.6 389.6 608.2 391 607.6 390.8 608 391 608ZM366.5 607.2 366.4 607.2 366.5 607.7 364.8 607 366.6 606.4 366.4 606.9 366.5 606.9ZM342.2 604.1 342 604.1 342.2 604.8 339.6 603.5 342.4 602.8 342 603.5 342.3 603.6ZM318.3 598.9 317.9 598.8 318.1 600 314.4 597.7 318.7 597.1 318 598.1 318.5 598.1ZM294.9 591.7 294.3 591.5 294.4 593.1 289.9 589.6 295.6 589.3 294.6 590.5 295.2 590.7ZM272.2 582.4 271.6 582.1 271.5 583.9 266.6 579.4 273.3 579.7 272 581 272.7 581.2ZM250.4 571.1 249.8 570.8 249.6 572.7 244.8 567.4 251.8 568.3 250.4 569.6 251 569.9ZM229.7 557.9 229.1 557.5 228.6 559.5 224.2 553.5 231.5 555.2 229.8 556.4 230.4 556.8ZM210.2 543 209.4 542.4 208.7 544.5 204.7 537.5 212.3 540.2 210.4 541.3 211.1 541.9ZM192 526.4 190.8 525.1 189.9 527.1 186.7 519.7 194 523.3 191.9 524.1 193.1 525.4ZM175.4 508.3 174 506.3 172.8 508.1 170.6 500.4 177.3 504.8 175.2 505.4 176.7 507.4ZM160.5 488.8 159 486.2 157.6 487.9 156.3 479.9 162.5 485.2 160.3 485.5 161.8 488.1ZM147.3 468.1 146 465.2 144.5 466.8 144 458.7 149.6 464.5 147.4 464.6 148.7 467.5ZM136 446.3 135 443 133.3 444.4 133.8 436.3 138.6 442.8 136.4 442.6 137.4 445.9ZM126.6 423.6 126.1 419.4 124.2 420.5 126.1 412.6 129.7 419.8 127.6 419.3 128.1 423.4ZM119.2 400.1 119.6 394.9 117.5 395.5 120.8 388.1 123.1 395.9 121.1 395 120.7 400.2ZM113.9 376 115.5 369.9 113.3 370.2 117.8 363.5 118.7 371.5 116.9 370.2 115.4 376.4ZM110.8 351.7 113.5 345 111.3 345 116.8 339 116.5 347.1 114.9 345.6 112.2 352.2ZM109.7 327.1 113.3 320.7 111.1 320.4 117.2 315.1 116 323.1 114.6 321.4 111.1 327.9ZM110.8 302.6 114.4 297.2 112.3 296.7 118.8 291.9 117 299.8 115.7 298 112.1 303.5ZM114.1 278.3 117.1 274.6 114.9 273.9 121.9 269.7 119.3 277.4 118.2 275.5 115.3 279.2ZM119.4 254.4 121.2 252.5 119.2 251.6 126.4 248.1 123.2 255.5 122.3 253.5 120.5 255.4ZM126.9 231 127.5 230.5 125.6 229.5 132.9 227 129 233.6 128.4 231.6 127.8 232.1ZM136.4 208.4 137 208.1 135.7 207 141.7 206.2 137.7 210.8 137.5 209.1 137 209.4ZM147.8 186.7 148.4 186.5 147.4 185.2 153.4 185.7 148.5 189.2 148.7 187.6 148.1 187.7ZM161.1 166 161.7 165.9 161 164.4 167.1 166.1 161.3 168.7 161.8 167.1 161.2 167.1ZM176.1 146.5 176.7 146.6 176.3 145 182 147.9 175.8 149.3 176.6 147.8 176 147.7ZM192.8 128.5 193.4 128.7 193.3 127 198.1 131 191.9 131.1 193 129.8 192.4 129.6ZM210.9 112.1 211.5 112.4 211.8 110.7 215.7 115.6 209.5 114.4 210.9 113.4 210.3 113ZM230.4 97.2 230.9 97.6 231.5 96 234.6 101.6 228.6 99.3 230.1 98.5 229.7 98.1ZM251.2 84.1 251.6 84.6 252.4 83 254.8 89.1 249 86 250.7 85.4 250.2 84.9ZM272.9 72.8 273.3 73.3 274.2 71.8 276.2 78 270.6 74.6 272.3 74.1 271.9 73.6ZM295.5 63.5 295.9 64 296.8 62.5 298.5 68.5 293.3 65.1 294.9 64.7 294.6 64.2ZM318.8 56.1 319.1 56.6 319.9 55.2 321.8 60.6 316.8 57.7 318.3 57.2 318 56.8ZM342.6 50.8 343 51.2 343.5 49.9 345.8 54.4 341.1 52.5 342.3 51.9 342 51.5ZM366.8 47.6 367.2 47.8 367.4 46.6 370.3 50.2 365.7 49.3 366.7 48.6 366.3 48.3Z" fill="#000"/>
<path d="M266 251.8 267.5 250.7 269.3 251.8 270.1 254.7 269 257.7 268.2 260.7 269 263.7 270.4 266.7 273.1 268.1 275.3 268.9 275.7 271.9 277.1 274.8 279.4 277.4 282.4 279.3 285.3 278.9 288.3 277.8 292 278.2 295.7 278.9 299.5 280 303.9 281.5 308.4 283 312.1 284.9 314.7 287.5 315.8 290.5 317.3 293.4 318.8 296.4 319.6 300.1 321.1 303.9 321.8 306.8 320.7 309.8 319.9 312.8 321.8 312 324.4 309.8 327 310.6 328.5 313.5 330.7 315.4 333.7 315.8 337.4 315 341.1 313.5 344.9 311.3 348.6 309.8 352.3 308.3 356 307.6 358.3 309.1 356.8 305.3 356 301.6 357.5 299.4 360.5 297.2 359 294.2 361.2 289.7 362.7 286 364.6 283 362.7 280 361.2 278.6 359 280 356.8 282.3 354.5 280 353 277.1 353 274.1 354.5 269.6 355.3 265.2 357.5 262.2 360.5 260 363.5 256.2 365.7 251.8 366.4 247.3 365 242.8 366.4 239.1 368.7 235.4 370.2 230.9 372.4 228.7 375.4 228.7 377.6 226.5 379.8 228 383.6 227.2 386.5 226.5 389.5 228.7 390.7 228 395.2 225.7 399.6 223.5 403 222 404.5 220.9 405.6 222 407.4 222.4 408.6 225 409.7 226.5 411.9 224.6 413.8 223.1 416 223.9 417.5 225.7 420.5 225 423.4 225.3 426.4 227.2 429 229.4 429.4 232 432.4 233.2 436.1 234.7 439.8 235.4 443.5 234.7 447.2 235 450.2 233.9 452.5 232.4 454.7 232 455.4 234.7 455.8 237.6 457.7 239.9 458 242.5 459.9 243.2 462.1 242.1 465.1 242.1 468.1 242.8 471.8 244.3 475.5 245.1 478.5 246.6 482.2 246.9 484.5 248 486.7 249.2 489.7 248.8 492.6 249.2 495.6 251 497.5 253.6 498.2 256.6 497.5 259.2 496 260.7 495.6 263.7 495.2 266.7 495.6 268.9 494.5 271.5 495.6 273.7 497.9 274.5 499.7 275.6 499.7 278.6 500.1 281.5 500.8 284.5 499.3 286.7 496.4 288.6 493.4 289.3 491.2 289.7 488.9 289 487.1 289.3 486.7 291.2 484.5 292 481.1 292.3 479.6 294.2 480.4 296.4 483 297.2 486.7 297.5 490.4 297.9 493.8 298.3 495.6 300.1 496.4 302.4 498.2 304.2 501.6 305 504.6 306.1 506.8 308 509 309.8 511.2 311.3 512.7 313.5 512.7 316.5 513.5 319.5 514.2 322.5 518.7 324.3 515.7 325 514.2 327.6 513.9 332.1 513.1 336.6 512.7 341 512.4 345.5 511.6 349.6 514.2 352.2 517.2 355.5 519.4 357.8 517.2 359.6 513.5 361.1 510.5 362.6 509 365.6 508.6 369.3 508.3 372.7 509.4 376 510.1 379 509.4 382 506.8 382.7 503.8 384.2 500.8 386.4 497.9 389 496.4 391.6 497.1 394.6 496.7 397.6 494.9 399.8 493 402.1 491.5 405 488.9 407.6 487.4 410.2 485.9 413.2 483.7 416.2 481.9 419.2 481.9 421.4 484.5 424 481.5 422.5 479.2 421 476.3 420.7 473.3 422.1 470.3 424.8 467.3 427.4 464.4 429.6 461.4 431.5 459.2 431.5 458 429.6 455.4 428.8 451.7 428.8 448 429.2 444.3 430 441.3 431.1 439.8 432.9 436.8 432.2 433.9 431.5 430.9 431.5 427.9 430.7 424.9 429.2 421.9 428.1 419 428.5 415.2 429.2 411.5 429.2 408.6 428.5 405.9 427.4 404.8 424.4 405.2 420.7 405.9 416.9 407.4 414 409.3 411 410 407.3 410.8 403.5 410.4 399.1 409.3 395.4 407.8 391.6 405.6 389.4 403.3 387.9 404.8 385.7 407.8 384.2 407.4 380.5 406.7 376 405.6 373.8 403.3 370.8 400.4 367.8 397.4 364.8 395.2 362.6 393.7 359.6 392.2 358.5 389.5 357.8 386.5 358.9 383.9 361.1 382.8 357.4 381.3 353.7 379.1 352.2 378 349.6 375.4 350 372.8 351.8 374.3 355.2 374.6 358.9 372.8 362.6 370.9 365.6 370.5 369.3 370.9 372.3 367.9 370.8 366.4 369.7 363.5 370.8 360.9 373 360.1 376 361.2 379 364.2 381.2 365.7 384.2 365.3 387.9 365 391.6 364.2 394.2 362.7 392.4 362 389.8 359.7 389.4 357.5 388.7 353.8 388.3 350.8 389 348.6 389.8 347.5 391.6 346.4 393.9 344.1 393.9 343.4 391.6 340.4 390.9 337.4 389.4 333.7 389 330.7 388.3 328.5 386.4 326.3 383.5 324 381.2 322.5 378.2 321.1 375.3 319.6 372.3 317.3 370.1 314.4 368.6 312.1 366.3 309.9 364.1 311.4 361.9 312.9 360 312.1 357.4 312.5 354.4 312.9 352.2 311.4 349.2 311 346.2 311.4 343.6 309.1 343.3 306.9 344.8 305.4 347.7 302.4 349.2 299.1 350.3 298.7 347 299.5 343.3 301 339.5 300.2 335.8 299.1 332.1 298.7 329.1 297.6 327.6 295.7 327.3 298 325.4 299.5 321.7 301.7 318 303.6 315.8 303.2 313.5 303.2 310.6 304.3 308.3 305.4 306.1 304.7 301.6 303.9 297.2 303.2 293.4 301 291.6 298 290.5 294.3 289.7 289.8 289 286.8 288.6 284.6 287.1 282.4 285.3 279.4 283.4 276.4 281.5 273.8 279.3 271.9 276.3 270.1 272.6 268.2 268.9 266.7 265.2 266.7 260.7 266.4 256.2 266 251.8ZM282 290.8 283.8 290.1 288.3 290.5 292.8 290.8 296.5 291.6 299.1 293.4 300.2 296.4 299.5 299.4 297.6 300.1 297.2 302.4 295 303.1 293.5 301.6 292.8 298.6 291.3 296.8 288.3 295.3 285.3 293.8 282.7 292.7ZM341.5 285.3 343.4 283.4 346.4 284.1 349.3 286 351.9 289 353 292 352.7 295.7 351.6 298.3 349.3 299 347.5 297.9 346.4 294.9 344.9 291.2 342.6 287.5ZM340.8 301.3 343.4 301.6 346.4 303.1 347.8 304.6 345.6 306.8 343.4 307.6 341.5 306.8 343.4 304.6ZM293.9 339.5 295.7 339.2 296.5 343.3 296.9 347 295 348.5 293.1 349.2 293.5 344.8ZM312.1 371.5 314.7 372.7 315.8 375.3 314.4 376.8 313.2 374.5ZM316.6 378.2 318.4 379 318.8 382 317.3 383.1 317 380.5ZM369.4 381.2 371.3 380.8 372.4 384.2 372.4 387.9 370.9 389.4 369.4 387.9 369 384.2ZM205.7 215.9 208.7 215.1 210.2 217.3 209.4 220.3 207.2 221.8 207.5 224 206.4 226.3 203.8 226.3 203.1 223.3 204.2 221.1 203.5 219.6 204.9 218.1ZM437.3 568.1 441.1 568.5 444.5 568.5 447.1 569.4 447.5 572.4 446.2 576.2 444.1 580.1 441.5 583.5 438.6 586.9 435.1 590.3 432.6 593.7 430.4 598 429.6 602.3 427.4 605.7 425.3 609.1 423.6 606.6 421.5 605.3 419.3 607 417.6 604.8 418 600.6 419.8 596.3 421.9 592 422.3 589.5 421 588.2 424.9 586.9 428.3 584.3 429.2 580.1 430.4 575.8 432.6 571.5 435.1 568.9ZM404.4 618.5 405.6 613.4 407.8 608.3 410.3 604.4 412.5 602.7 414.6 604.8 414.2 607.8 413.3 610.8 414.6 613.4 417.2 615.1 420.6 616.4 419.8 618.1 412.1 620.2ZM535.1 546.7 537.7 547.2 541.1 548.4 543.7 550.6 546.2 553.1 549.7 555.3 551.8 557.8 548 559.1 544.5 560 542 562.1 539.8 565.5 537.3 566.8 535.1 563.8 533.4 560.4 532.6 557 531.7 553.6 533.4 550.1ZM599.2 245.9 606.4 245.1 607.1 253 601 253.5ZM132.8 192.8 136.5 195 140.2 197.3 141.3 199.5 140.9 203.2 138.7 206.2 136.5 208.4 137.2 210.6 140.2 212.1 143.9 212.1 145.4 209.9 145.8 208.4 148 208.4 148 211.4 149.1 214.4 151.4 217.3 154.3 219.6 156.6 221.8 158.8 224 158.1 227 158.1 229.3 159.5 231.5 161.8 233.7 164.8 233.7 167.7 232.2 170 230 171.5 229.3 173.7 230.7 175.9 233.7 176.7 237.4 178.9 240.4 181.1 242.6 182.6 244.1 183.4 247.1 185.6 249.3 188.6 250.8 191.5 251.6 194.5 251.6 195.3 253.4 198.2 253.4 202 253.1 205.7 251.9 208.7 250.5 210.9 248.6 213.1 246.7 214.6 248.6 213.9 251.6 213.1 255.3 212.4 259 209.4 262.7 205.7 265.7 202 268.7 198.2 270.9 194.5 272.4 190.8 273.5 187.8 274.3 184.1 273.9 180.4 272.8 175.9 272.8 171.5 272 167 270.9 163.3 269.4 160.3 267.2 158.1 264.2 156.6 262.7 155.1 265.7 153.6 267.9 151.4 265 149.1 262.7 145.4 261.3 142.4 259.8 139.5 259 141.7 256.8 143.9 254.6 140.9 253.8 138 253.1 135.7 252.3 134.2 254.9 135 256.4 132.8 256.8 129.8 255.3 126.8 253.8 123.8 252.3 120.9 250.8 117.9 249.3 114.9 247.9 111.9 245.6M194.5 251.6 194.9 256.8 196 259.8 198.2 262 200.5 264.2 198.2 267.2 194.5 270.2 190.8 273.5M128.3 250.8 131.3 248.6 134.2 249.7 137.2 250.8 135.7 252.3" fill="none" stroke="#000" stroke-width="1.3" stroke-linejoin="round"/>
<circle cx="391.0" cy="327.5" r="2" fill="#000"/>
</g>
<circle cx="390.2" cy="330.0" r="283.0" fill="none" stroke="#000" stroke-width="1.2"/>
<text x="393.5" y="38.1" font-size="22.5" text-anchor="middle" textLength="22.6" lengthAdjust="spacingAndGlyphs">0°</text>
<text x="410.0" y="636.6" font-size="22.5" text-anchor="middle" textLength="48.9" lengthAdjust="spacingAndGlyphs">180°</text>
<text x="100.5" y="345.5" font-size="22.5" textLength="64.5" lengthAdjust="spacingAndGlyphs" transform="rotate(-90 100.5 345.5)">90° W</text>
<text x="682.0" y="287.0" font-size="22.5" textLength="58.0" lengthAdjust="spacingAndGlyphs" transform="rotate(90 682.0 287.0)">90° E</text>
<path d="M475.2 612.8 497 612.8 496.2 610.7 503.8 613.5 496.2 616.3 497 614.2 475.2 614.2Z" fill="#000"/>
<text x="518.4" y="619.3" font-size="22.5" textLength="56.1" lengthAdjust="spacingAndGlyphs">1 m/s</text>
<rect x="210" y="653.2" width="359.2" height="12.4" fill="url(#bwr)" stroke="#000" stroke-width="1"/>
<path d="M210.0 665.6v6.6M299.8 665.6v6.6M389.6 665.6v6.6M479.4 665.6v6.6M569.2 665.6v6.6" stroke="#000" stroke-width="1.1" fill="none"/>
<text x="210.0" y="701.3" font-size="22.5" text-anchor="middle" textLength="54.3" lengthAdjust="spacingAndGlyphs">–200</text>
<text x="299.8" y="701.3" font-size="22.5" text-anchor="middle" textLength="50.8" lengthAdjust="spacingAndGlyphs">–100</text>
<text x="390.2" y="701.3" font-size="22.5" text-anchor="middle" textLength="14.7" lengthAdjust="spacingAndGlyphs">0</text>
<text x="480.0" y="701.3" font-size="22.5" text-anchor="middle" textLength="39.5" lengthAdjust="spacingAndGlyphs">100</text>
<text x="569.8" y="701.3" font-size="22.5" text-anchor="middle" textLength="43.1" lengthAdjust="spacingAndGlyphs">200</text>
<text x="177.7" y="742.8" font-size="27.5" textLength="423.8" lengthAdjust="spacingAndGlyphs">Sea-level pressure anomalies (Pa)</text>
</g>
<g id="panel-c">
<defs><clipPath id="clipc"><circle cx="1800.3" cy="330.0" r="283.0"/></clipPath><filter id="blc" x="-20%" y="-20%" width="140%" height="140%"><feGaussianBlur stdDeviation="9"/></filter><filter id="blc2" x="-20%" y="-20%" width="140%" height="140%"><feGaussianBlur stdDeviation="4.5"/></filter><filter id="blc3" x="-20%" y="-20%" width="140%" height="140%"><feGaussianBlur stdDeviation="2.5"/></filter></defs>
<g clip-path="url(#clipc)">
<rect x="1512.3" y="42.0" width="576.0" height="576.0" fill="#ffa4a4"/>
<g filter="url(#blc)"><ellipse cx="1974.0" cy="308.7" rx="65.6" ry="185.2" fill="#ff8c8c" opacity="0.55" transform="rotate(-8 1974.0 308.7)"/><ellipse cx="1788.7" cy="127.4" rx="127.4" ry="42.5" fill="#ff8c8c" opacity="0.5"/><ellipse cx="1827.3" cy="181.4" rx="73.3" ry="34.7" fill="#ffc0c0" opacity="0.8"/><ellipse cx="1865.9" cy="239.3" rx="46.3" ry="46.3" fill="#ffb4b4" opacity="0.5"/><ellipse cx="1673.0" cy="347.3" rx="57.9" ry="108.1" fill="#ffe6e6" opacity="0.95" transform="rotate(10 1673.0 347.3)"/><ellipse cx="1696.1" cy="405.2" rx="50.2" ry="50.2" fill="#fff2f2" opacity="0.9"/><ellipse cx="1661.4" cy="239.3" rx="27.0" ry="57.9" fill="#ffdede" opacity="0.9" transform="rotate(15 1661.4 239.3)"/><ellipse cx="1680.7" cy="185.2" rx="23.2" ry="23.2" fill="#ffdada" opacity="0.8"/><ellipse cx="1750.1" cy="436.1" rx="57.9" ry="30.9" fill="#ffdcdc" opacity="0.8"/><ellipse cx="1808.0" cy="443.8" rx="46.3" ry="23.2" fill="#ffc8c8" opacity="0.6"/><ellipse cx="1576.5" cy="366.6" rx="50.2" ry="115.8" fill="#ffb2b2" opacity="0.6"/><ellipse cx="1869.8" cy="501.7" rx="23.2" ry="19.3" fill="#ff7070" opacity="0.8"/><ellipse cx="1974.0" cy="366.6" rx="23.2" ry="15.4" fill="#ff7c7c" opacity="0.6"/><ellipse cx="1977.8" cy="424.5" rx="19.3" ry="23.2" fill="#ff8080" opacity="0.5"/><ellipse cx="1850.5" cy="578.9" rx="15.4" ry="15.4" fill="#ff8888" opacity="0.6"/><ellipse cx="1827.3" cy="119.6" rx="27.0" ry="15.4" fill="#ff6c6c" opacity="0.7"/><ellipse cx="1993.3" cy="231.6" rx="13.5" ry="27.0" fill="#ff7a7a" opacity="0.8"/><ellipse cx="1997.1" cy="181.4" rx="13.5" ry="13.5" fill="#ff7878" opacity="0.7"/></g>
<g filter="url(#blc2)"><path d="M1681.9 263.6 1688.1 267.9 1693.9 271.5 1700.4 275.9 1706.2 279.5 1713.4 283.1 1720.7 286 1726.5 288.9 1730.1 291.1 1735.2 289.6 1739.5 287.8 1745.3 287.1 1751.1 286.7 1756.9 285.3 1761.2 283.1 1762.7 278.8 1761.9 275.2 1764.1 270.1 1765.6 265 1764.1 259.2 1764.8 253.4 1767.7 249.1 1769.2 245.5 1773.5 241.9 1777.1 237.5 1778.6 233.9 1782.2 230.3 1787.3 228.8 1793.8 227.4 1798.9 225.6 1810 225.2 1810 218.7 1785.8 218.7 1760.5 228.8 1738.8 241.1 1713.4 247.6 1693.9 247.6 1681.9 253.4Z" fill="#ff7474" opacity="0.85"/><path d="M1681.9 263.6 1688.1 267.9 1693.9 271.5 1700.4 275.9 1706.2 279.5 1713.4 283.1 1720.7 286 1726.5 288.9 1730.1 291.1 1735.2 289.6 1739.5 287.8 1745.3 287.1 1751.1 286.7 1756.9 285.3 1761.2 283.1 1762.7 278.8 1761.9 275.2 1764.1 270.1 1765.6 265 1764.1 259.2 1764.8 253.4 1767.7 249.1" fill="none" stroke="#ff4848" stroke-width="13" stroke-linejoin="round" opacity="0.9"/><path d="M1800 233.2 1804.3 231 1808.7 228.8 1811.9 227.4 1813.4 226.3 1814.5 227.4 1816.3 227.7 1817.4 230.3 1818.5 231.7 1820.6 229.9 1822.4 228.5 1824.6 229.2 1826.1 231 1829 230.3 1831.9 230.6 1834.7 232.4 1837.3 234.6 1837.6 237.1 1840.5 238.2 1844.2 239.7 1847.8 240.4 1851.4 239.7 1855 240 1857.9 239 1860.1 237.5 1862.3 237.1 1863 239.7 1863.3 242.6 1865.2 244.7 1865.5 247.3 1867.3 248 1869.5 246.9 1872.4 246.9 1875.3 247.6 1878.9 249.1 1882.5 249.8 1885.4 251.3 1889 251.6 1891.2 252.7 1893.4 253.8 1896.3 253.4 1899.2 253.8 1902.1 255.6 1903.9 258.1 1904.6 261 1903.9 263.6 1902.4 265 1902.1 267.9 1901.7 270.8 1902.1 273 1901 275.5 1902.1 277.7 1904.2 278.4 1906.1 279.5 1906.1 282.4 1906.4 285.3 1907.1 288.2 1905.7 290.4 1902.8 292.2 1899.9 292.9 1897.7 293.2 1895.6 292.5 1893.7 292.9 1893.4 294.7 1891.2 295.4 1888 295.8 1886.5 297.6 1887.2 299.8 1889.8 300.5 1893.4 300.8 1897 301.2 1900.3 301.6 1902.1 303.4 1902.8 305.6 1904.6 307.4 1907.9 308.1 1910.8 309.2 1912.9 311 1915.1 312.8 1917.3 314.2 1918.7 316.4 1918.7 319.3 1919.4 322.2 1920.2 325.1 1924.5 326.9 1921.6 327.6 1920.2 330.1 1919.8 334.5 1919.1 338.8 1918.7 343.2 1918.4 347.5 1917.6 351.5 1920.2 354 1923.1 357.3 1925.2 359.5 1923.1 361.3 1919.4 362.7 1916.5 364.2 1915.1 367.1 1914.7 370.7 1914.4 373.9 1915.5 377.2 1916.2 380.1 1915.5 383 1912.9 383.7 1910 385.2 1907.1 387.3 1904.2 389.9 1902.8 392.4 1903.5 395.3 1903.2 398.2 1901.3 400.4 1899.5 402.5 1898.1 405.4 1895.6 408 1894.1 410.5 1892.7 413.4 1890.5 416.3 1888.7 419.2 1888.7 421.3 1891.2 423.9 1888.3 422.4 1886.1 421 1883.2 420.6 1880.4 422.1 1877.5 424.6 1874.6 427.1 1871.7 429.3 1868.8 431.1 1866.6 431.1 1865.5 429.3 1863 428.6 1859.4 428.6 1855.7 428.9 1852.1 429.7 1849.2 430.8 1847.8 432.6 1844.9 431.8 1842 431.1 1839.1 431.1 1836.2 430.4 1833.3 428.9 1830.4 427.9 1827.5 428.2 1823.9 428.9 1820.3 428.9 1817.4 428.2 1814.8 427.1 1813.8 424.2 1814.1 420.6 1814.8 417 1816.3 414.1 1818.1 411.2 1818.8 407.6 1819.5 404 1819.2 399.6 1818.1 396 1816.6 392.4 1814.5 390.2 1812.3 388.8 1813.8 386.6 1816.6 385.2 1816.3 381.5 1815.6 377.2 1814.5 375 1812.3 372.1 1809.4 369.2 1806.5 366.3 1804.3 364.2" fill="none" stroke="#ff5a5a" stroke-width="15" stroke-linejoin="round" opacity="0.75"/><path d="M1770 396L1820 397" fill="none" stroke="#ff7070" stroke-width="14" opacity="0.8"/><path d="M1769.9 390.2 1767.7 389.5 1764.1 389.1 1761.2 389.9 1759 390.6 1758 392.4 1756.9 394.6 1754.7 394.6 1754 392.4 1751.1 391.7 1748.2 390.2 1744.6 389.9 1741.7 389.1 1739.5 387.3 1737.3 384.4 1735.2 382.3 1733.7 379.4 1732.3 376.5 1730.8 373.6 1728.6 371.4 1725.7 369.9 1723.6 367.8 1721.4 365.6 1722.8 363.4 1724.3 361.6 1723.6 359.1 1723.9 356.2 1724.3 354 1722.8 351.1 1722.5 348.2 1722.8 345.7 1720.7 345.3 1718.5 346.8 1717.1 349.7 1714.2 351.1 1710.9 352.2 1710.5 349 1711.3 345.3 1712.7 341.7 1712 338.1 1710.9 334.5 1710.5 331.6 1709.5 330.1 1707.6 329.8 1709.8 328 1711.3 324.3 1713.4 320.8 1715.2 318.6" fill="none" stroke="#ff8888" stroke-width="12" stroke-linejoin="round" opacity="0.7"/><ellipse cx="1703.8" cy="459.2" rx="21.2" ry="15.4" fill="#d8d8ff"/><ellipse cx="1665.2" cy="453.5" rx="15.4" ry="11.6" fill="#ececff"/><ellipse cx="1711.6" cy="495.9" rx="28.9" ry="19.3" fill="#ceceff" transform="rotate(20 1711.6 495.9)"/><ellipse cx="1680.7" cy="478.5" rx="17.4" ry="15.4" fill="#e2e2ff"/><ellipse cx="1742.4" cy="513.3" rx="15.4" ry="15.4" fill="#f4f0ff" opacity="0.9"/><ellipse cx="1838.9" cy="497.8" rx="5.4" ry="27.0" fill="#ffe4e4" opacity="0.9" transform="rotate(-10 1838.9 497.8)"/><ellipse cx="1927.7" cy="575.0" rx="6.2" ry="15.4" fill="#ffd0d0" opacity="0.8" transform="rotate(-25 1927.7 575.0)"/><ellipse cx="1746.3" cy="96.5" rx="16.2" ry="18.5" fill="#ff1c1c" transform="rotate(-30 1746.3 96.5)"/><ellipse cx="1784.9" cy="110.0" rx="30.9" ry="15.4" fill="#ff5a5a" opacity="0.8" transform="rotate(10 1784.9 110.0)"/><ellipse cx="1576.5" cy="191.0" rx="23.2" ry="8.5" fill="#ff3c3c" opacity="0.95" transform="rotate(-35 1576.5 191.0)"/><ellipse cx="1904.5" cy="484.3" rx="23.2" ry="16.2" fill="#ff3030" transform="rotate(35 1904.5 484.3)"/><ellipse cx="1645.9" cy="254.7" rx="13.5" ry="17.4" fill="#fff6f6" opacity="0.9"/></g>
<g filter="url(#blc3)"><ellipse cx="1995.2" cy="308.7" rx="10.0" ry="6.2" fill="#ff2020"/><ellipse cx="2002.9" cy="295.2" rx="3.9" ry="7.7" fill="#fff4f4"/><ellipse cx="1958.5" cy="557.7" rx="10.0" ry="6.2" fill="#ff3030" transform="rotate(-30 1958.5 557.7)"/><ellipse cx="1929.6" cy="349.3" rx="6.2" ry="15.4" fill="#ff3838" opacity="0.9"/><ellipse cx="1916.1" cy="409.1" rx="5.4" ry="15.4" fill="#ff3c3c" opacity="0.9" transform="rotate(35 1916.1 409.1)"/><ellipse cx="1707.7" cy="308.7" rx="4.6" ry="8.5" fill="#ff2828" opacity="0.9"/></g>
<path d="M1676.5 269.4 1678 253.4 1681.9 250.5 1684.5 257.1 1681.9 263.6 1688.1 267.9 1693.9 271.5 1700.4 275.9 1706.2 279.5 1713.4 283.1 1720.7 286 1726.5 288.9 1730.1 291.1 1735.2 289.6 1739.5 287.8 1745.3 287.1 1751.1 286.7 1756.9 285.3 1761.2 283.1 1762.7 278.8 1761.9 275.2 1764.1 270.1 1765.6 265 1764.1 259.2 1764.8 253.4 1767.7 249.1 1769.2 245.5 1773.5 241.9 1777.1 237.5 1778.6 233.9 1782.2 230.3 1787.3 228.8 1793.8 227.4 1798.9 225.6 1810 225.2 1810 239 1785.8 267.9 1778.6 304.1 1756.9 318.6 1735.2 318.6 1727.9 304.1 1713.4 289.6 1691.7 282.4 1680.9 271.5ZM1770 396 1775.7 390.9 1784.4 390.2 1784.4 392.4 1793.1 393.8 1801 394.6 1801 396.7 1810 397.1 1816.6 395.3 1819 396 1819 350 1770 350ZM1886.1 292.5 1904.2 292.5 1905.7 296.9 1904.2 301.2 1886.1 301.2ZM1918.7 320 1922.3 320 1925.2 326.5 1922.3 330.9 1923.1 338.1 1926 341.7 1930.3 343.9 1929.6 346.8 1926.7 349 1926 356.2 1925.2 359.5 1915.8 349ZM1917.3 314.2 1920.2 315 1922.3 318.6 1924.5 322.9 1924.9 326.9 1919.4 325.8ZM1707.6 329.4 1709.1 334.5 1709.5 341.7 1709.1 351.1 1713.4 351.9 1714.9 327.2ZM1693.2 295.4 1699 299.8 1701.1 304.8 1707.6 307 1709.8 307 1709.8 313.5 1714.9 314.2 1716.3 304.1 1713.4 295.4Z" fill="#fff"/>
<path d="M1678.7 256.3 1680.1 255.2 1681.9 256.3 1682.7 259.2 1681.6 262.1 1680.9 265 1681.6 267.9 1683 270.8 1685.6 272.3 1687.7 273 1688.1 275.9 1689.5 278.8 1691.7 281.3 1694.6 283.1 1697.5 282.8 1700.4 281.7 1704 282 1707.6 282.8 1711.3 283.8 1715.6 285.3 1719.9 286.7 1723.6 288.5 1726.1 291.1 1727.2 294 1728.6 296.9 1730.1 299.8 1730.8 303.4 1732.3 307 1733 309.9 1731.9 312.8 1731.2 315.7 1733 315 1735.5 312.8 1738 313.5 1739.5 316.4 1741.7 318.2 1744.6 318.6 1748.2 317.9 1751.8 316.4 1755.4 314.2 1759 312.8 1762.7 311.3 1766.3 310.6 1768.5 312.1 1767 308.5 1766.3 304.8 1767.7 302.7 1770.6 300.5 1769.2 297.6 1771.3 293.2 1772.8 289.6 1774.6 286.7 1772.8 283.8 1771.3 282.4 1769.2 283.8 1767 286 1764.8 283.8 1763.4 280.9 1763.4 278 1764.8 273.7 1765.6 269.4 1767.7 266.5 1770.6 264.3 1773.5 260.7 1775.7 256.3 1776.4 252 1775 247.6 1776.4 244 1778.6 240.4 1780 236.1 1782.2 233.9 1785.1 233.9 1787.3 231.7 1789.4 233.2 1793.1 232.4 1796 231.7 1798.9 233.9 1800 233.2 1804.3 231 1808.7 228.8 1811.9 227.4 1813.4 226.3 1814.5 227.4 1816.3 227.7 1817.4 230.3 1818.5 231.7 1820.6 229.9 1822.4 228.5 1824.6 229.2 1826.1 231 1829 230.3 1831.9 230.6 1834.7 232.4 1837.3 234.6 1837.6 237.1 1840.5 238.2 1844.2 239.7 1847.8 240.4 1851.4 239.7 1855 240 1857.9 239 1860.1 237.5 1862.3 237.1 1863 239.7 1863.3 242.6 1865.2 244.7 1865.5 247.3 1867.3 248 1869.5 246.9 1872.4 246.9 1875.3 247.6 1878.9 249.1 1882.5 249.8 1885.4 251.3 1889 251.6 1891.2 252.7 1893.4 253.8 1896.3 253.4 1899.2 253.8 1902.1 255.6 1903.9 258.1 1904.6 261 1903.9 263.6 1902.4 265 1902.1 267.9 1901.7 270.8 1902.1 273 1901 275.5 1902.1 277.7 1904.2 278.4 1906.1 279.5 1906.1 282.4 1906.4 285.3 1907.1 288.2 1905.7 290.4 1902.8 292.2 1899.9 292.9 1897.7 293.2 1895.6 292.5 1893.7 292.9 1893.4 294.7 1891.2 295.4 1888 295.8 1886.5 297.6 1887.2 299.8 1889.8 300.5 1893.4 300.8 1897 301.2 1900.3 301.6 1902.1 303.4 1902.8 305.6 1904.6 307.4 1907.9 308.1 1910.8 309.2 1912.9 311 1915.1 312.8 1917.3 314.2 1918.7 316.4 1918.7 319.3 1919.4 322.2 1920.2 325.1 1924.5 326.9 1921.6 327.6 1920.2 330.1 1919.8 334.5 1919.1 338.8 1918.7 343.2 1918.4 347.5 1917.6 351.5 1920.2 354 1923.1 357.3 1925.2 359.5 1923.1 361.3 1919.4 362.7 1916.5 364.2 1915.1 367.1 1914.7 370.7 1914.4 373.9 1915.5 377.2 1916.2 380.1 1915.5 383 1912.9 383.7 1910 385.2 1907.1 387.3 1904.2 389.9 1902.8 392.4 1903.5 395.3 1903.2 398.2 1901.3 400.4 1899.5 402.5 1898.1 405.4 1895.6 408 1894.1 410.5 1892.7 413.4 1890.5 416.3 1888.7 419.2 1888.7 421.3 1891.2 423.9 1888.3 422.4 1886.1 421 1883.2 420.6 1880.4 422.1 1877.5 424.6 1874.6 427.1 1871.7 429.3 1868.8 431.1 1866.6 431.1 1865.5 429.3 1863 428.6 1859.4 428.6 1855.7 428.9 1852.1 429.7 1849.2 430.8 1847.8 432.6 1844.9 431.8 1842 431.1 1839.1 431.1 1836.2 430.4 1833.3 428.9 1830.4 427.9 1827.5 428.2 1823.9 428.9 1820.3 428.9 1817.4 428.2 1814.8 427.1 1813.8 424.2 1814.1 420.6 1814.8 417 1816.3 414.1 1818.1 411.2 1818.8 407.6 1819.5 404 1819.2 399.6 1818.1 396 1816.6 392.4 1814.5 390.2 1812.3 388.8 1813.8 386.6 1816.6 385.2 1816.3 381.5 1815.6 377.2 1814.5 375 1812.3 372.1 1809.4 369.2 1806.5 366.3 1804.3 364.2 1802.9 361.3 1801.4 360.2 1798.9 359.5 1796 360.5 1793.4 362.7 1792.3 359.1 1790.9 355.5 1788.7 354 1787.6 351.5 1785.1 351.9 1782.6 353.7 1784 356.9 1784.4 360.5 1782.6 364.2 1780.8 367.1 1780.4 370.7 1780.8 373.6 1777.9 372.1 1776.4 371 1773.5 372.1 1771 374.3 1770.3 377.2 1771.3 380.1 1774.2 382.3 1775.7 385.2 1775.3 388.8 1775 392.4 1774.2 394.9 1772.8 393.1 1772.1 390.6 1769.9 390.2 1767.7 389.5 1764.1 389.1 1761.2 389.9 1759 390.6 1758 392.4 1756.9 394.6 1754.7 394.6 1754 392.4 1751.1 391.7 1748.2 390.2 1744.6 389.9 1741.7 389.1 1739.5 387.3 1737.3 384.4 1735.2 382.3 1733.7 379.4 1732.3 376.5 1730.8 373.6 1728.6 371.4 1725.7 369.9 1723.6 367.8 1721.4 365.6 1722.8 363.4 1724.3 361.6 1723.6 359.1 1723.9 356.2 1724.3 354 1722.8 351.1 1722.5 348.2 1722.8 345.7 1720.7 345.3 1718.5 346.8 1717.1 349.7 1714.2 351.1 1710.9 352.2 1710.5 349 1711.3 345.3 1712.7 341.7 1712 338.1 1710.9 334.5 1710.5 331.6 1709.5 330.1 1707.6 329.8 1709.8 328 1711.3 324.3 1713.4 320.8 1715.2 318.6 1714.9 316.4 1714.9 313.5 1716 311.3 1717.1 309.2 1716.3 304.8 1715.6 300.5 1714.9 296.9 1712.7 295.1 1709.8 294 1706.2 293.2 1701.9 292.5 1699 292.2 1696.8 290.7 1694.6 288.9 1691.7 287.1 1688.8 285.3 1686.3 283.1 1684.5 280.2 1682.7 276.6 1680.9 273 1679.4 269.4 1679.4 265 1679 260.7 1678.7 256.3Z" fill="none" stroke="#fff" stroke-width="4.5" stroke-linejoin="round"/>
<path d="M1678.7 256.3 1680.1 255.2 1681.9 256.3 1682.7 259.2 1681.6 262.1 1680.9 265 1681.6 267.9 1683 270.8 1685.6 272.3 1687.7 273 1688.1 275.9 1689.5 278.8 1691.7 281.3 1694.6 283.1 1697.5 282.8 1700.4 281.7 1704 282 1707.6 282.8 1711.3 283.8 1715.6 285.3 1719.9 286.7 1723.6 288.5 1726.1 291.1 1727.2 294 1728.6 296.9 1730.1 299.8 1730.8 303.4 1732.3 307 1733 309.9 1731.9 312.8 1731.2 315.7 1733 315 1735.5 312.8 1738 313.5 1739.5 316.4 1741.7 318.2 1744.6 318.6 1748.2 317.9 1751.8 316.4 1755.4 314.2 1759 312.8 1762.7 311.3 1766.3 310.6 1768.5 312.1 1767 308.5 1766.3 304.8 1767.7 302.7 1770.6 300.5 1769.2 297.6 1771.3 293.2 1772.8 289.6 1774.6 286.7 1772.8 283.8 1771.3 282.4 1769.2 283.8 1767 286 1764.8 283.8 1763.4 280.9 1763.4 278 1764.8 273.7 1765.6 269.4 1767.7 266.5 1770.6 264.3 1773.5 260.7 1775.7 256.3 1776.4 252 1775 247.6 1776.4 244 1778.6 240.4 1780 236.1 1782.2 233.9 1785.1 233.9 1787.3 231.7 1789.4 233.2 1793.1 232.4 1796 231.7 1798.9 233.9 1800 233.2 1804.3 231 1808.7 228.8 1811.9 227.4 1813.4 226.3 1814.5 227.4 1816.3 227.7 1817.4 230.3 1818.5 231.7 1820.6 229.9 1822.4 228.5 1824.6 229.2 1826.1 231 1829 230.3 1831.9 230.6 1834.7 232.4 1837.3 234.6 1837.6 237.1 1840.5 238.2 1844.2 239.7 1847.8 240.4 1851.4 239.7 1855 240 1857.9 239 1860.1 237.5 1862.3 237.1 1863 239.7 1863.3 242.6 1865.2 244.7 1865.5 247.3 1867.3 248 1869.5 246.9 1872.4 246.9 1875.3 247.6 1878.9 249.1 1882.5 249.8 1885.4 251.3 1889 251.6 1891.2 252.7 1893.4 253.8 1896.3 253.4 1899.2 253.8 1902.1 255.6 1903.9 258.1 1904.6 261 1903.9 263.6 1902.4 265 1902.1 267.9 1901.7 270.8 1902.1 273 1901 275.5 1902.1 277.7 1904.2 278.4 1906.1 279.5 1906.1 282.4 1906.4 285.3 1907.1 288.2 1905.7 290.4 1902.8 292.2 1899.9 292.9 1897.7 293.2 1895.6 292.5 1893.7 292.9 1893.4 294.7 1891.2 295.4 1888 295.8 1886.5 297.6 1887.2 299.8 1889.8 300.5 1893.4 300.8 1897 301.2 1900.3 301.6 1902.1 303.4 1902.8 305.6 1904.6 307.4 1907.9 308.1 1910.8 309.2 1912.9 311 1915.1 312.8 1917.3 314.2 1918.7 316.4 1918.7 319.3 1919.4 322.2 1920.2 325.1 1924.5 326.9 1921.6 327.6 1920.2 330.1 1919.8 334.5 1919.1 338.8 1918.7 343.2 1918.4 347.5 1917.6 351.5 1920.2 354 1923.1 357.3 1925.2 359.5 1923.1 361.3 1919.4 362.7 1916.5 364.2 1915.1 367.1 1914.7 370.7 1914.4 373.9 1915.5 377.2 1916.2 380.1 1915.5 383 1912.9 383.7 1910 385.2 1907.1 387.3 1904.2 389.9 1902.8 392.4 1903.5 395.3 1903.2 398.2 1901.3 400.4 1899.5 402.5 1898.1 405.4 1895.6 408 1894.1 410.5 1892.7 413.4 1890.5 416.3 1888.7 419.2 1888.7 421.3 1891.2 423.9 1888.3 422.4 1886.1 421 1883.2 420.6 1880.4 422.1 1877.5 424.6 1874.6 427.1 1871.7 429.3 1868.8 431.1 1866.6 431.1 1865.5 429.3 1863 428.6 1859.4 428.6 1855.7 428.9 1852.1 429.7 1849.2 430.8 1847.8 432.6 1844.9 431.8 1842 431.1 1839.1 431.1 1836.2 430.4 1833.3 428.9 1830.4 427.9 1827.5 428.2 1823.9 428.9 1820.3 428.9 1817.4 428.2 1814.8 427.1 1813.8 424.2 1814.1 420.6 1814.8 417 1816.3 414.1 1818.1 411.2 1818.8 407.6 1819.5 404 1819.2 399.6 1818.1 396 1816.6 392.4 1814.5 390.2 1812.3 388.8 1813.8 386.6 1816.6 385.2 1816.3 381.5 1815.6 377.2 1814.5 375 1812.3 372.1 1809.4 369.2 1806.5 366.3 1804.3 364.2 1802.9 361.3 1801.4 360.2 1798.9 359.5 1796 360.5 1793.4 362.7 1792.3 359.1 1790.9 355.5 1788.7 354 1787.6 351.5 1785.1 351.9 1782.6 353.7 1784 356.9 1784.4 360.5 1782.6 364.2 1780.8 367.1 1780.4 370.7 1780.8 373.6 1777.9 372.1 1776.4 371 1773.5 372.1 1771 374.3 1770.3 377.2 1771.3 380.1 1774.2 382.3 1775.7 385.2 1775.3 388.8 1775 392.4 1774.2 394.9 1772.8 393.1 1772.1 390.6 1769.9 390.2 1767.7 389.5 1764.1 389.1 1761.2 389.9 1759 390.6 1758 392.4 1756.9 394.6 1754.7 394.6 1754 392.4 1751.1 391.7 1748.2 390.2 1744.6 389.9 1741.7 389.1 1739.5 387.3 1737.3 384.4 1735.2 382.3 1733.7 379.4 1732.3 376.5 1730.8 373.6 1728.6 371.4 1725.7 369.9 1723.6 367.8 1721.4 365.6 1722.8 363.4 1724.3 361.6 1723.6 359.1 1723.9 356.2 1724.3 354 1722.8 351.1 1722.5 348.2 1722.8 345.7 1720.7 345.3 1718.5 346.8 1717.1 349.7 1714.2 351.1 1710.9 352.2 1710.5 349 1711.3 345.3 1712.7 341.7 1712 338.1 1710.9 334.5 1710.5 331.6 1709.5 330.1 1707.6 329.8 1709.8 328 1711.3 324.3 1713.4 320.8 1715.2 318.6 1714.9 316.4 1714.9 313.5 1716 311.3 1717.1 309.2 1716.3 304.8 1715.6 300.5 1714.9 296.9 1712.7 295.1 1709.8 294 1706.2 293.2 1701.9 292.5 1699 292.2 1696.8 290.7 1694.6 288.9 1691.7 287.1 1688.8 285.3 1686.3 283.1 1684.5 280.2 1682.7 276.6 1680.9 273 1679.4 269.4 1679.4 265 1679 260.7 1678.7 256.3ZM1694.3 294.3 1696.1 293.6 1700.4 294 1704.7 294.3 1708.4 295.1 1710.9 296.9 1712 299.8 1711.3 302.7 1709.5 303.4 1709.1 305.6 1706.9 306.3 1705.5 304.8 1704.7 301.9 1703.3 300.1 1700.4 298.7 1697.5 297.2 1695 296.1ZM1752.2 288.9 1754 287.1 1756.9 287.8 1759.8 289.6 1762.3 292.5 1763.4 295.4 1763 299 1761.9 301.6 1759.8 302.3 1758 301.2 1756.9 298.3 1755.4 294.7 1753.2 291.1ZM1751.4 304.5 1754 304.8 1756.9 306.3 1758.3 307.7 1756.1 309.9 1754 310.6 1752.2 309.9 1754 307.7ZM1705.8 341.7 1707.6 341.4 1708.4 345.3 1708.7 349 1706.9 350.4 1705.1 351.1 1705.5 346.8ZM1723.6 372.8 1726.1 373.9 1727.2 376.5 1725.7 377.9 1724.7 375.7ZM1727.9 379.4 1729.7 380.1 1730.1 383 1728.6 384.1 1728.3 381.5ZM1779.3 382.3 1781.1 381.9 1782.2 385.2 1782.2 388.8 1780.8 390.2 1779.3 388.8 1778.9 385.2ZM1549.1 199 1552.7 201.1 1556.3 203.3 1557.4 205.5 1557.1 209.1 1554.9 212 1552.7 214.2 1553.4 216.3 1556.3 217.8 1559.9 217.8 1561.4 215.6 1561.8 214.2 1563.9 214.2 1563.9 217.1 1565 219.9 1567.2 222.8 1570.1 225 1572.3 227.2 1574.4 229.4 1573.7 232.3 1573.7 234.4 1575.2 236.6 1577.3 238.8 1580.2 238.8 1583.1 237.3 1585.3 235.2 1586.7 234.4 1588.9 235.9 1591.1 238.8 1591.8 242.4 1594 245.3 1596.1 247.5 1597.6 248.9 1598.3 251.8 1600.5 254 1603.4 255.4 1606.3 256.1 1609.2 256.1 1609.9 258 1612.8 258 1616.4 257.6 1620 256.5 1622.9 255.1 1625.1 253.2 1626.5 253.2 1625.8 256.9 1624.4 260.5 1622.2 264.1 1618.6 265.6 1614.2 267.7 1611.3 270.6 1607 272.8 1603.4 275 1600.5 276.4 1599.8 272.8 1591.1 270.6 1590.4 271.3 1579.5 271.3 1578.8 266.3 1572.3 265.6 1569.4 267.7 1567.9 263.4 1562.1 261.9 1560.7 256.9 1553.4 253.2 1542.6 251.8 1541.9 255.8 1528.8 250.2ZM1845.3 564 1849.1 564.5 1852.4 564.5 1854.9 565.3 1855.3 568.2 1854 571.9 1852 575.7 1849.5 579 1846.6 582.3 1843.2 585.7 1840.7 589 1838.7 593.1 1837.8 597.3 1835.7 600.6 1833.7 603.9 1832 601.5 1829.9 600.2 1827.9 601.9 1826.2 599.8 1826.6 595.6 1828.3 591.5 1830.3 587.3 1830.8 584.8 1829.5 583.6 1833.3 582.3 1836.6 579.8 1837.4 575.7 1838.7 571.5 1840.7 567.4 1843.2 564.9ZM1813.3 613.1 1814.5 608.1 1816.6 603.1 1819.1 599.4 1821.2 597.7 1823.3 599.8 1822.9 602.7 1822 605.6 1823.3 608.1 1825.8 609.8 1829.1 611 1828.3 612.7 1820.8 614.8ZM1940.5 543.3 1943 543.7 1946.3 544.9 1948.8 547 1951.3 549.5 1954.6 551.6 1956.7 554.1 1953 555.3 1949.7 556.1 1947.2 558.2 1945.1 561.5 1942.6 562.8 1940.5 559.9 1938.8 556.6 1938 553.2 1937.2 549.9 1938.8 546.6ZM2002.8 250.6 2009.8 249.8 2010.5 257.5 2004.6 258Z" fill="#808080"/>
<path id="coast" d="M1678.7 256.3 1680.1 255.2 1681.9 256.3 1682.7 259.2 1681.6 262.1 1680.9 265 1681.6 267.9 1683 270.8 1685.6 272.3 1687.7 273 1688.1 275.9 1689.5 278.8 1691.7 281.3 1694.6 283.1 1697.5 282.8 1700.4 281.7 1704 282 1707.6 282.8 1711.3 283.8 1715.6 285.3 1719.9 286.7 1723.6 288.5 1726.1 291.1 1727.2 294 1728.6 296.9 1730.1 299.8 1730.8 303.4 1732.3 307 1733 309.9 1731.9 312.8 1731.2 315.7 1733 315 1735.5 312.8 1738 313.5 1739.5 316.4 1741.7 318.2 1744.6 318.6 1748.2 317.9 1751.8 316.4 1755.4 314.2 1759 312.8 1762.7 311.3 1766.3 310.6 1768.5 312.1 1767 308.5 1766.3 304.8 1767.7 302.7 1770.6 300.5 1769.2 297.6 1771.3 293.2 1772.8 289.6 1774.6 286.7 1772.8 283.8 1771.3 282.4 1769.2 283.8 1767 286 1764.8 283.8 1763.4 280.9 1763.4 278 1764.8 273.7 1765.6 269.4 1767.7 266.5 1770.6 264.3 1773.5 260.7 1775.7 256.3 1776.4 252 1775 247.6 1776.4 244 1778.6 240.4 1780 236.1 1782.2 233.9 1785.1 233.9 1787.3 231.7 1789.4 233.2 1793.1 232.4 1796 231.7 1798.9 233.9 1800 233.2 1804.3 231 1808.7 228.8 1811.9 227.4 1813.4 226.3 1814.5 227.4 1816.3 227.7 1817.4 230.3 1818.5 231.7 1820.6 229.9 1822.4 228.5 1824.6 229.2 1826.1 231 1829 230.3 1831.9 230.6 1834.7 232.4 1837.3 234.6 1837.6 237.1 1840.5 238.2 1844.2 239.7 1847.8 240.4 1851.4 239.7 1855 240 1857.9 239 1860.1 237.5 1862.3 237.1 1863 239.7 1863.3 242.6 1865.2 244.7 1865.5 247.3 1867.3 248 1869.5 246.9 1872.4 246.9 1875.3 247.6 1878.9 249.1 1882.5 249.8 1885.4 251.3 1889 251.6 1891.2 252.7 1893.4 253.8 1896.3 253.4 1899.2 253.8 1902.1 255.6 1903.9 258.1 1904.6 261 1903.9 263.6 1902.4 265 1902.1 267.9 1901.7 270.8 1902.1 273 1901 275.5 1902.1 277.7 1904.2 278.4 1906.1 279.5 1906.1 282.4 1906.4 285.3 1907.1 288.2 1905.7 290.4 1902.8 292.2 1899.9 292.9 1897.7 293.2 1895.6 292.5 1893.7 292.9 1893.4 294.7 1891.2 295.4 1888 295.8 1886.5 297.6 1887.2 299.8 1889.8 300.5 1893.4 300.8 1897 301.2 1900.3 301.6 1902.1 303.4 1902.8 305.6 1904.6 307.4 1907.9 308.1 1910.8 309.2 1912.9 311 1915.1 312.8 1917.3 314.2 1918.7 316.4 1918.7 319.3 1919.4 322.2 1920.2 325.1 1924.5 326.9 1921.6 327.6 1920.2 330.1 1919.8 334.5 1919.1 338.8 1918.7 343.2 1918.4 347.5 1917.6 351.5 1920.2 354 1923.1 357.3 1925.2 359.5 1923.1 361.3 1919.4 362.7 1916.5 364.2 1915.1 367.1 1914.7 370.7 1914.4 373.9 1915.5 377.2 1916.2 380.1 1915.5 383 1912.9 383.7 1910 385.2 1907.1 387.3 1904.2 389.9 1902.8 392.4 1903.5 395.3 1903.2 398.2 1901.3 400.4 1899.5 402.5 1898.1 405.4 1895.6 408 1894.1 410.5 1892.7 413.4 1890.5 416.3 1888.7 419.2 1888.7 421.3 1891.2 423.9 1888.3 422.4 1886.1 421 1883.2 420.6 1880.4 422.1 1877.5 424.6 1874.6 427.1 1871.7 429.3 1868.8 431.1 1866.6 431.1 1865.5 429.3 1863 428.6 1859.4 428.6 1855.7 428.9 1852.1 429.7 1849.2 430.8 1847.8 432.6 1844.9 431.8 1842 431.1 1839.1 431.1 1836.2 430.4 1833.3 428.9 1830.4 427.9 1827.5 428.2 1823.9 428.9 1820.3 428.9 1817.4 428.2 1814.8 427.1 1813.8 424.2 1814.1 420.6 1814.8 417 1816.3 414.1 1818.1 411.2 1818.8 407.6 1819.5 404 1819.2 399.6 1818.1 396 1816.6 392.4 1814.5 390.2 1812.3 388.8 1813.8 386.6 1816.6 385.2 1816.3 381.5 1815.6 377.2 1814.5 375 1812.3 372.1 1809.4 369.2 1806.5 366.3 1804.3 364.2 1802.9 361.3 1801.4 360.2 1798.9 359.5 1796 360.5 1793.4 362.7 1792.3 359.1 1790.9 355.5 1788.7 354 1787.6 351.5 1785.1 351.9 1782.6 353.7 1784 356.9 1784.4 360.5 1782.6 364.2 1780.8 367.1 1780.4 370.7 1780.8 373.6 1777.9 372.1 1776.4 371 1773.5 372.1 1771 374.3 1770.3 377.2 1771.3 380.1 1774.2 382.3 1775.7 385.2 1775.3 388.8 1775 392.4 1774.2 394.9 1772.8 393.1 1772.1 390.6 1769.9 390.2 1767.7 389.5 1764.1 389.1 1761.2 389.9 1759 390.6 1758 392.4 1756.9 394.6 1754.7 394.6 1754 392.4 1751.1 391.7 1748.2 390.2 1744.6 389.9 1741.7 389.1 1739.5 387.3 1737.3 384.4 1735.2 382.3 1733.7 379.4 1732.3 376.5 1730.8 373.6 1728.6 371.4 1725.7 369.9 1723.6 367.8 1721.4 365.6 1722.8 363.4 1724.3 361.6 1723.6 359.1 1723.9 356.2 1724.3 354 1722.8 351.1 1722.5 348.2 1722.8 345.7 1720.7 345.3 1718.5 346.8 1717.1 349.7 1714.2 351.1 1710.9 352.2 1710.5 349 1711.3 345.3 1712.7 341.7 1712 338.1 1710.9 334.5 1710.5 331.6 1709.5 330.1 1707.6 329.8 1709.8 328 1711.3 324.3 1713.4 320.8 1715.2 318.6 1714.9 316.4 1714.9 313.5 1716 311.3 1717.1 309.2 1716.3 304.8 1715.6 300.5 1714.9 296.9 1712.7 295.1 1709.8 294 1706.2 293.2 1701.9 292.5 1699 292.2 1696.8 290.7 1694.6 288.9 1691.7 287.1 1688.8 285.3 1686.3 283.1 1684.5 280.2 1682.7 276.6 1680.9 273 1679.4 269.4 1679.4 265 1679 260.7 1678.7 256.3ZM1694.3 294.3 1696.1 293.6 1700.4 294 1704.7 294.3 1708.4 295.1 1710.9 296.9 1712 299.8 1711.3 302.7 1709.5 303.4 1709.1 305.6 1706.9 306.3 1705.5 304.8 1704.7 301.9 1703.3 300.1 1700.4 298.7 1697.5 297.2 1695 296.1ZM1752.2 288.9 1754 287.1 1756.9 287.8 1759.8 289.6 1762.3 292.5 1763.4 295.4 1763 299 1761.9 301.6 1759.8 302.3 1758 301.2 1756.9 298.3 1755.4 294.7 1753.2 291.1ZM1751.4 304.5 1754 304.8 1756.9 306.3 1758.3 307.7 1756.1 309.9 1754 310.6 1752.2 309.9 1754 307.7ZM1705.8 341.7 1707.6 341.4 1708.4 345.3 1708.7 349 1706.9 350.4 1705.1 351.1 1705.5 346.8ZM1723.6 372.8 1726.1 373.9 1727.2 376.5 1725.7 377.9 1724.7 375.7ZM1727.9 379.4 1729.7 380.1 1730.1 383 1728.6 384.1 1728.3 381.5ZM1779.3 382.3 1781.1 381.9 1782.2 385.2 1782.2 388.8 1780.8 390.2 1779.3 388.8 1778.9 385.2ZM1620 221.4 1622.9 220.7 1624.4 222.8 1623.7 225.7 1621.5 227.2 1621.8 229.4 1620.8 231.5 1618.2 231.5 1617.5 228.6 1618.6 226.5 1617.9 225 1619.3 223.6ZM1845.3 564 1849.1 564.5 1852.4 564.5 1854.9 565.3 1855.3 568.2 1854 571.9 1852 575.7 1849.5 579 1846.6 582.3 1843.2 585.7 1840.7 589 1838.7 593.1 1837.8 597.3 1835.7 600.6 1833.7 603.9 1832 601.5 1829.9 600.2 1827.9 601.9 1826.2 599.8 1826.6 595.6 1828.3 591.5 1830.3 587.3 1830.8 584.8 1829.5 583.6 1833.3 582.3 1836.6 579.8 1837.4 575.7 1838.7 571.5 1840.7 567.4 1843.2 564.9ZM1813.3 613.1 1814.5 608.1 1816.6 603.1 1819.1 599.4 1821.2 597.7 1823.3 599.8 1822.9 602.7 1822 605.6 1823.3 608.1 1825.8 609.8 1829.1 611 1828.3 612.7 1820.8 614.8ZM1940.5 543.3 1943 543.7 1946.3 544.9 1948.8 547 1951.3 549.5 1954.6 551.6 1956.7 554.1 1953 555.3 1949.7 556.1 1947.2 558.2 1945.1 561.5 1942.6 562.8 1940.5 559.9 1938.8 556.6 1938 553.2 1937.2 549.9 1938.8 546.6ZM2002.8 250.6 2009.8 249.8 2010.5 257.5 2004.6 258ZM1549.1 199 1552.7 201.1 1556.3 203.3 1557.4 205.5 1557.1 209.1 1554.9 212 1552.7 214.2 1553.4 216.3 1556.3 217.8 1559.9 217.8 1561.4 215.6 1561.8 214.2 1563.9 214.2 1563.9 217.1 1565 219.9 1567.2 222.8 1570.1 225 1572.3 227.2 1574.4 229.4 1573.7 232.3 1573.7 234.4 1575.2 236.6 1577.3 238.8 1580.2 238.8 1583.1 237.3 1585.3 235.2 1586.7 234.4 1588.9 235.9 1591.1 238.8 1591.8 242.4 1594 245.3 1596.1 247.5 1597.6 248.9 1598.3 251.8 1600.5 254 1603.4 255.4 1606.3 256.1 1609.2 256.1 1609.9 258 1612.8 258 1616.4 257.6 1620 256.5 1622.9 255.1 1625.1 253.2 1627.3 251.4 1628.7 253.2 1628 256.1 1627.3 259.8 1626.5 263.4 1623.7 267 1620 269.9 1616.4 272.8 1612.8 275 1609.2 276.4 1605.6 277.5 1602.7 278.2 1599 277.9 1595.4 276.8 1591.1 276.8 1586.7 276.1 1582.4 275 1578.8 273.5 1575.9 271.3 1573.7 268.5 1572.3 267 1570.8 269.9 1569.4 272.1 1567.2 269.2 1565 267 1561.4 265.6 1558.5 264.1 1555.6 263.4 1557.8 261.2 1559.9 259 1557.1 258.3 1554.2 257.6 1552 256.9 1550.5 259.4 1551.3 260.8 1549.1 261.2 1546.2 259.8 1543.3 258.3 1540.4 256.9 1537.5 255.4 1534.6 254 1531.7 252.5 1528.8 250.4M1609.2 256.1 1609.5 261.2 1610.6 264.1 1612.8 266.3 1615 268.5 1612.8 271.3 1609.2 274.2 1605.6 277.5M1544.7 255.4 1547.6 253.2 1550.5 254.3 1553.4 255.4 1552 256.9" fill="none" stroke="#000" stroke-width="1.3" stroke-linejoin="round"/>
<path d="M2005 152 2009.2 160.4 2011.3 168.9 2015.5 175.2 2018.7 181.5 2017.7 187.9 2014.5 194.2 2015.5 202.7 2017.7 211.1 2024 219.5 2030.3 226.9 2034.5 234.3 2034.5 242.8 2035.6 251.2 2036.7 257.5 2034.5 266 2032.4 272.3 2035.6 276.5 2043 280.8 2048.3 285 2049.3 293.4 2047.2 301.9 2045.1 310.3 2046.2 318.8 2048.3 329.3 2051.4 339.9 2053.5 350 2053.3 350.7 2049.7 357.9 2046.1 365.1 2040.6 372.4 2037 377.8 2037 385 2034.3 392.3 2028.9 397.7 2026.2 403.1 2025.3 410.4 2020.7 415.8 2015.3 421.2 2014.4 428.5 2011.7 435.7 2006.3 442.9 1999 450.2 1991.8 455.6 1984.5 459.2 1977.3 463.7 1970.1 470.1 1964.6 477.3 1959.2 484.5 1953.8 491.8 1948.4 497.2 1941.1 499.9 1933.9 499.9 1928.5 502.6 1924.8 509.9 1921.2 511.7 1915.8 509.9 1910.4 507.2 1908.6 511.7 1908.6 518.9 1904.9 524.4 1899.5 522.5 1894.1 518.9 1888.7 520.7 1881.4 523.4 1874.2 525.3 1868.8 528 1865.1 533.4 1861.5 532.5 1860.6 526.2 1857.9 520.7 1852.5 515.3 1847 510.8 1841.6 509.9 1836.2 513.5 1830.8 518.9 1825.3 523.4 1819.9 528 1817.2 535.2 1814.5 542.4 1811.8 547.9 1812.7 553.3 1816.3 558.7 1823.5 559.6 1830.8 561.4 1832.6 566 1831.7 571.4 1827.1 572.3 1821.7 571.4 1817.2 572.3 1813.6 569.6 1809 571.4 1803.6 572.3 1800 573.2 1800 575.2 1796.7 573.4 1791.3 568.8 1785 561.6 1779.5 554.4 1774.1 547.1 1767.8 546.2 1760.5 547.1 1755.1 543.5 1747.9 538.1 1740.6 537.2 1733.4 539.9 1728 533.5 1722.5 528.1 1715.3 524.5 1708.1 519.1 1700.8 512.7 1695.4 509.1 1689.1 509.1 1684.5 506.4 1679.1 501 1671.9 495.6 1666.5 490.1 1661 483.8 1656.5 478.4 1652.9 471.1 1650.2 463.9 1647.5 460.3 1643.8 464.8 1639.3 458.5 1633.9 453 1628.5 448.5 1623 446.7 1615.8 444 1608.6 440.4 1603.1 436.7 1599.5 431.3 1599.5 424.1 1602.2 418.7 1605.8 413.2 1603.1 407.8 1601.3 398.8 1599.5 387.9 1597.7 378.9 1594.1 369.8 1593.2 358.9 1591.4 348.1 1588.7 339 1584.1 330 1581.4 330 1582.3 319.5 1583.2 310.4 1585 303.2 1588.7 296 1595.9 288.7 1603.1 283.3 1610.4 279.7 1617.6 277 1624.8 273.4 1630.3 268.8 1633.9 264.3 1631.2 258 1629.4 252.5 1628.5 247.1 1624.8 244.4 1623 238.1 1624.8 232.6 1627.6 227.2 1626.7 221.8 1623.9 216.4 1619.4 215.5 1614 217.3 1608.6 220 1603.1 220.9 1597.7 218.2 1592.3 214.5 1586.8 209.1 1581.4 203.7 1576 196.5 1571.5 189.2 1567.8 182 1565.1 174.7 1572.4 164.8 1576 167.5 1581.4 172.9 1586.8 178.4 1592.3 178.4 1590.5 171.1 1590.5 162.1 1593.2 153 1593.2 145.8 1595.9 138.6 1601.3 133.1 1608.6 127.7 1617.6 122.3 1626.7 117.8 1633.9 113.2 1638.4 107.8 1641.1 102.4 1650 101.2 1658.3 99.1 1668 95.6 1679.1 92.8 1686 88.7 1695.7 84.5 1699.9 80.4 1708.2 76.9 1716.5 72.7 1720.7 72.1 1727.6 74.8 1735.9 77.6 1741.5 80.4 1747 80.6 1752.5 79 1755.3 74.8 1756 69.3 1758.1 65.1 1759.5 63 1763.6 61 1769.2 58.9 1774.7 56.8 1778.9 53.3 1781.6 52.7 1786.5 55.4 1791.3 53.3 1796.9 52.4 1802.4 52.9 1810.7 51.5 1816.3 53.3 1823.2 55.4 1830.1 56.8 1837.1 58.9 1844 60.3 1849.5 62.4 1853.7 66.5 1857.8 68.6 1863.4 72.1 1868.9 75.5 1874.5 76.5 1880 75.9 1885.6 75.5 1892.5 75.5 1899.4 76.2 1905 77.6 1907 80.4 1903.6 83.8 1899.4 86.6 1898.7 90.1 1902.2 92.1 1907.7 93.1 1913.3 92.1 1920.2 91.5 1927.1 92.1 1929.9 95.6 1931.3 99.8 1935.4 102.5 1942.4 104.6 1950 108.1 1958.6 114 1967 119.3 1973.3 125.6 1979.7 133M1916.3 228 1922.7 236.4 1926.9 244.9 1931.1 253.3 1934.3 258.6 1930.1 263.9 1930.1 272.3 1933.2 278.7 1937.4 287.1 1940.6 297.7 1941.7 306.1 1941.7 314.5 1945.9 315.6 1954.3 314.5 1960.7 316.7 1958.6 310.3 1967 306.1 1975.4 297.7 1979.7 296.6 1981.8 299.8 1975.4 308.2 1967 316.7 1960.7 321.9 1958.6 326.2 1961.7 331.4 1962.8 339.9 1961.7 350 1964.6 352.5 1968.3 354.3 1969.2 361.5 1969.2 367.8 1962.8 371.5 1957.4 374.2 1955.6 379.6 1950.2 385 1944.7 392.3 1939.3 396.8 1933.9 400.4 1934.8 404.9 1930.3 410.4 1924.8 415.8 1919.4 419.4 1914 423 1908.6 424.8 1903.1 428.5 1898.6 433 1898.6 439.3 1894.1 443.8 1886.8 445.6 1879.6 449.3 1872.4 453.8 1867.8 455.6 1867.8 460.1 1872.4 464.6 1877.8 469.2 1882.3 473.7 1885 477.3 1879.6 475.1 1874.2 476.4 1868.8 473.7 1862.4 471 1860.6 476.4 1854.3 479.1 1848.9 475.5 1841.6 475.5 1834.4 474.6 1827.1 473.7 1818.1 472.8 1810.9 470.1 1803.6 468.3 1800 467.4 1800 467.5 1791.3 463.9 1782.3 465.7 1773.2 467.5 1766 471.1 1760.5 470.2 1753.3 468.4 1744.3 467.5 1737 469.3 1729.8 470.2 1722.5 473.8 1715.3 474.7 1708.1 477.5 1700.8 478.4 1694.5 476.6 1691.8 471.1 1690 463.9 1692.7 456.7 1691.8 447.6 1692.7 440.4 1698.1 436.7 1700.8 431.3 1702.6 424.1 1706.3 420.5 1710.8 416.8 1709.9 409.6 1705.4 406 1703.5 398.8 1705.4 391.5 1703.5 384.3 1705.4 377 1701.7 371.6 1702.6 362.6 1703.5 353.5 1704.5 344.5 1703.5 335.4 1697.2 330 1691.8 326.7 1689.1 321.3 1689.1 314.1 1686.4 306.8 1683.6 299.6 1680 292.3 1676.4 285.1 1672.8 277.9 1670.1 268.8 1668.3 259.8 1668.3 250.7 1667.4 241.7 1668.3 234.5 1668.3 227.2 1671 221.8 1675.5 218.2 1678.2 212.7 1677.3 206.4 1680.9 201.9 1688.2 200.1 1691.8 196.5 1690 191 1693.6 188.3 1699.9 185.6 1703.5 179.3 1699 172.9 1695.4 167.5 1692.7 160.3 1691.8 154.8 1697.2 155.7 1702.6 156.7 1709.9 157.6 1717.1 161.2 1722.5 164.8 1728 167.5 1731.6 171.1 1728.9 164.8 1733.4 163 1738.8 162.1 1746.1 163 1753.3 162.1 1760.5 159.4 1767.8 156.7 1775 153 1782.3 149.4 1789.5 145.8 1794.9 141.3 1800 138.6 1802.4 136.5 1810.7 133 1815 135.1 1825.6 134.1 1836.1 133 1846.7 135.1 1857.2 138.3 1867.8 140.4 1878.3 142.5 1884.7 145.7 1888.9 152 1888.9 160.4 1885.7 166.8 1887.8 175.2 1893.1 181.5 1899.4 190 1905.8 197.4 1910 199.5 1914.2 204.8" fill="none" stroke="#800080" stroke-width="3.3" stroke-linejoin="round" stroke-linecap="round"/>
</g>
<circle cx="1800.3" cy="330.0" r="283.0" fill="none" stroke="#000" stroke-width="1.2"/>
<rect x="1974.8" y="126" width="45.4" height="33.4" fill="#fff"/>
<rect x="1900.3" y="199.9" width="43.7" height="34" fill="#fff"/>
<text x="1983.3" y="149.9" font-size="21" textLength="29.5" lengthAdjust="spacingAndGlyphs" fill="#800080">NB</text>
<text x="1908.5" y="224.4" font-size="21" textLength="27.3" lengthAdjust="spacingAndGlyphs" fill="#800080">SB</text>
<circle cx="1635.6" cy="272.4" r="8.3" fill="#d3d3d3" stroke="#000" stroke-width="1"/>
<circle cx="1628.8" cy="409.8" r="8.3" fill="#d3d3d3" stroke="#000" stroke-width="1"/>
<circle cx="1642" cy="442.7" r="8.3" fill="#d3d3d3" stroke="#000" stroke-width="1"/>
<circle cx="1759.6" cy="594.7" r="8.3" fill="#d3d3d3" stroke="#000" stroke-width="1"/>
<circle cx="2038.3" cy="320.9" r="8.3" fill="#d3d3d3" stroke="#000" stroke-width="1"/>
<text x="1588.3" y="303.0" font-size="21" textLength="100.7" lengthAdjust="spacingAndGlyphs">PS97/093</text>
<text x="1610.4" y="397.2" font-size="21" textLength="64.8" lengthAdjust="spacingAndGlyphs">U1540</text>
<text x="1640.6" y="431.4" font-size="21" textLength="58.8" lengthAdjust="spacingAndGlyphs">U1541</text>
<text x="1707.0" y="578.4" font-size="21" textLength="90.2" lengthAdjust="spacingAndGlyphs">ODP1123</text>
<text x="1961.6" y="351.2" font-size="21" textLength="113.4" lengthAdjust="spacingAndGlyphs">MD11-3354</text>
<text x="1809.5" y="41.6" font-size="22.5" text-anchor="middle" textLength="23.0" lengthAdjust="spacingAndGlyphs">0°</text>
<text x="1806.7" y="637.3" font-size="22.5" text-anchor="middle" textLength="47.8" lengthAdjust="spacingAndGlyphs">180°</text>
<text x="1510.3" y="347.5" font-size="22.5" textLength="63.5" lengthAdjust="spacingAndGlyphs" transform="rotate(-90 1510.3 347.5)">90° W</text>
<text x="2089.5" y="287.0" font-size="22.5" textLength="58.0" lengthAdjust="spacingAndGlyphs" transform="rotate(90 2089.5 287.0)">90° E</text>
<rect x="1620.2" y="653.2" width="359.2" height="12.4" fill="url(#bwr)" stroke="#000" stroke-width="1"/>
<path d="M1620.2 665.6v6.6M1710.0 665.6v6.6M1799.8 665.6v6.6M1889.6 665.6v6.6M1979.4 665.6v6.6" stroke="#000" stroke-width="1.1" fill="none"/>
<text x="1620.2" y="701.3" font-size="22.5" text-anchor="middle" textLength="44.3" lengthAdjust="spacingAndGlyphs">–0.4</text>
<text x="1710.0" y="701.3" font-size="22.5" text-anchor="middle" textLength="44.3" lengthAdjust="spacingAndGlyphs">–0.2</text>
<text x="1800.4" y="701.3" font-size="22.5" text-anchor="middle" textLength="14.0" lengthAdjust="spacingAndGlyphs">0</text>
<text x="1890.2" y="701.3" font-size="22.5" text-anchor="middle" textLength="32.4" lengthAdjust="spacingAndGlyphs">0.2</text>
<text x="1980.0" y="701.3" font-size="22.5" text-anchor="middle" textLength="32.6" lengthAdjust="spacingAndGlyphs">0.4</text>
<text x="1631.3" y="741.8" font-size="27.5" textLength="338.6" lengthAdjust="spacingAndGlyphs">Density anomalies (kg m<tspan font-size="17" dy="-9.5">−3</tspan><tspan dy="9.5">)</tspan></text>
</g>
</svg>
</body></html>
